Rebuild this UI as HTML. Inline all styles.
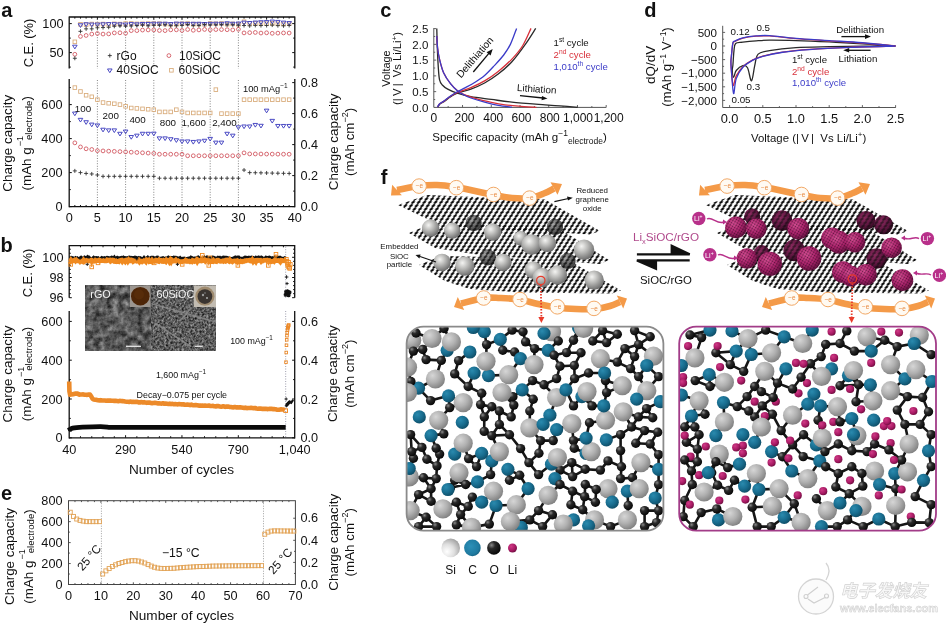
<!DOCTYPE html>
<html><head><meta charset="utf-8"><title>SiOC/rGO figure</title>
<style>html,body{margin:0;padding:0;background:#fff;}svg{display:block;}</style></head>
<body><svg width="946" height="623" viewBox="0 0 946 623" font-family="'Liberation Sans', Arial, Helvetica, sans-serif">
<rect width="946" height="623" fill="#fff"/>
<defs>
<pattern id="gr" width="5.6" height="3.4" patternUnits="userSpaceOnUse" patternTransform="skewX(-32)">
 <rect x="1.35" y="0" width="1.1" height="3.4" fill="#1a1a1a"/>
 <ellipse cx="1.9" cy="1.7" rx="1.6" ry="1.45" fill="#080808"/>
</pattern>
<pattern id="grm" width="2.6" height="2.6" patternUnits="userSpaceOnUse" patternTransform="rotate(30)">
 <rect width="2.6" height="2.6" fill="none"/>
 <circle cx="1.3" cy="1.3" r="0.8" fill="#1a0410" opacity="0.6"/>
</pattern>
<radialGradient id="sg" cx="0.38" cy="0.33" r="0.7">
 <stop offset="0" stop-color="#f4f4f2"/><stop offset="0.45" stop-color="#b8b8b6"/><stop offset="1" stop-color="#6a6a6a"/>
</radialGradient>
<radialGradient id="sgd" cx="0.38" cy="0.33" r="0.7">
 <stop offset="0" stop-color="#a8a8a8"/><stop offset="0.5" stop-color="#6e6e6e"/><stop offset="1" stop-color="#3a3a3a"/>
</radialGradient>
<radialGradient id="mgd" cx="0.38" cy="0.33" r="0.72">
 <stop offset="0" stop-color="#8a2a5e"/><stop offset="0.6" stop-color="#5e1640"/><stop offset="1" stop-color="#2e0a1e"/>
</radialGradient>
<radialGradient id="mg" cx="0.38" cy="0.33" r="0.72">
 <stop offset="0" stop-color="#dc5098"/><stop offset="0.55" stop-color="#b22470"/><stop offset="1" stop-color="#641140"/>
</radialGradient>
<radialGradient id="si" cx="0.35" cy="0.32" r="0.75">
 <stop offset="0" stop-color="#d6d6d6"/><stop offset="0.5" stop-color="#b0b0b0"/><stop offset="1" stop-color="#7c7c7c"/>
</radialGradient>
<radialGradient id="sil" cx="0.3" cy="0.7" r="0.8">
 <stop offset="0" stop-color="#ffffff"/><stop offset="0.5" stop-color="#dedede"/><stop offset="1" stop-color="#9c9c9c"/>
</radialGradient>
<radialGradient id="ccl" cx="0.4" cy="0.4" r="0.7">
 <stop offset="0" stop-color="#2c90b8"/><stop offset="0.7" stop-color="#1f7aa0"/><stop offset="1" stop-color="#145a78"/>
</radialGradient>
<radialGradient id="cc" cx="0.35" cy="0.32" r="0.75">
 <stop offset="0" stop-color="#2a8aae"/><stop offset="0.55" stop-color="#186c8e"/><stop offset="1" stop-color="#0e4a62"/>
</radialGradient>
<radialGradient id="oo" cx="0.33" cy="0.3" r="0.75">
 <stop offset="0" stop-color="#8a8a8a"/><stop offset="0.35" stop-color="#2a2a2a"/><stop offset="1" stop-color="#050505"/>
</radialGradient>
<radialGradient id="li" cx="0.35" cy="0.32" r="0.75">
 <stop offset="0" stop-color="#d03a86"/><stop offset="0.6" stop-color="#a81a64"/><stop offset="1" stop-color="#6a0c3c"/>
</radialGradient>
<filter id="semA" x="0" y="0" width="100%" height="100%" color-interpolation-filters="sRGB">
 <feTurbulence type="fractalNoise" baseFrequency="0.16" numOctaves="4" seed="4" result="n"/>
 <feColorMatrix type="matrix" values="0.7 0 0 0 0.0  0.7 0 0 0 0.0  0.7 0 0 0 0.0  0 0 0 0 1"/>
</filter>
<filter id="semB" x="0" y="0" width="100%" height="100%" color-interpolation-filters="sRGB">
 <feTurbulence type="fractalNoise" baseFrequency="0.45" numOctaves="3" seed="9" result="n"/>
 <feColorMatrix type="matrix" values="0.8 0 0 0 -0.04  0.8 0 0 0 -0.04  0.8 0 0 0 -0.04  0 0 0 0 1"/>
</filter>
<filter id="blur06"><feGaussianBlur stdDeviation="0.6"/></filter>
</defs>
<line x1="69.2" y1="17" x2="294.8" y2="17" stroke="#111" stroke-width="1.3"/>
<line x1="69.2" y1="16.4" x2="69.2" y2="68.6" stroke="#111" stroke-width="1.3"/>
<line x1="294.8" y1="16.4" x2="294.8" y2="68.6" stroke="#111" stroke-width="1.3"/>
<line x1="74.84" y1="17" x2="74.84" y2="18.6" stroke="#111" stroke-width="1"/>
<line x1="80.48" y1="17" x2="80.48" y2="18.6" stroke="#111" stroke-width="1"/>
<line x1="86.12" y1="17" x2="86.12" y2="18.6" stroke="#111" stroke-width="1"/>
<line x1="91.76" y1="17" x2="91.76" y2="18.6" stroke="#111" stroke-width="1"/>
<line x1="97.4" y1="17" x2="97.4" y2="19.6" stroke="#111" stroke-width="1"/>
<line x1="103.04" y1="17" x2="103.04" y2="18.6" stroke="#111" stroke-width="1"/>
<line x1="108.68" y1="17" x2="108.68" y2="18.6" stroke="#111" stroke-width="1"/>
<line x1="114.32" y1="17" x2="114.32" y2="18.6" stroke="#111" stroke-width="1"/>
<line x1="119.96" y1="17" x2="119.96" y2="18.6" stroke="#111" stroke-width="1"/>
<line x1="125.6" y1="17" x2="125.6" y2="19.6" stroke="#111" stroke-width="1"/>
<line x1="131.24" y1="17" x2="131.24" y2="18.6" stroke="#111" stroke-width="1"/>
<line x1="136.88" y1="17" x2="136.88" y2="18.6" stroke="#111" stroke-width="1"/>
<line x1="142.52" y1="17" x2="142.52" y2="18.6" stroke="#111" stroke-width="1"/>
<line x1="148.16" y1="17" x2="148.16" y2="18.6" stroke="#111" stroke-width="1"/>
<line x1="153.8" y1="17" x2="153.8" y2="19.6" stroke="#111" stroke-width="1"/>
<line x1="159.44" y1="17" x2="159.44" y2="18.6" stroke="#111" stroke-width="1"/>
<line x1="165.08" y1="17" x2="165.08" y2="18.6" stroke="#111" stroke-width="1"/>
<line x1="170.72" y1="17" x2="170.72" y2="18.6" stroke="#111" stroke-width="1"/>
<line x1="176.36" y1="17" x2="176.36" y2="18.6" stroke="#111" stroke-width="1"/>
<line x1="182" y1="17" x2="182" y2="19.6" stroke="#111" stroke-width="1"/>
<line x1="187.64" y1="17" x2="187.64" y2="18.6" stroke="#111" stroke-width="1"/>
<line x1="193.28" y1="17" x2="193.28" y2="18.6" stroke="#111" stroke-width="1"/>
<line x1="198.92" y1="17" x2="198.92" y2="18.6" stroke="#111" stroke-width="1"/>
<line x1="204.56" y1="17" x2="204.56" y2="18.6" stroke="#111" stroke-width="1"/>
<line x1="210.2" y1="17" x2="210.2" y2="19.6" stroke="#111" stroke-width="1"/>
<line x1="215.84" y1="17" x2="215.84" y2="18.6" stroke="#111" stroke-width="1"/>
<line x1="221.48" y1="17" x2="221.48" y2="18.6" stroke="#111" stroke-width="1"/>
<line x1="227.12" y1="17" x2="227.12" y2="18.6" stroke="#111" stroke-width="1"/>
<line x1="232.76" y1="17" x2="232.76" y2="18.6" stroke="#111" stroke-width="1"/>
<line x1="238.4" y1="17" x2="238.4" y2="19.6" stroke="#111" stroke-width="1"/>
<line x1="244.04" y1="17" x2="244.04" y2="18.6" stroke="#111" stroke-width="1"/>
<line x1="249.68" y1="17" x2="249.68" y2="18.6" stroke="#111" stroke-width="1"/>
<line x1="255.32" y1="17" x2="255.32" y2="18.6" stroke="#111" stroke-width="1"/>
<line x1="260.96" y1="17" x2="260.96" y2="18.6" stroke="#111" stroke-width="1"/>
<line x1="266.6" y1="17" x2="266.6" y2="19.6" stroke="#111" stroke-width="1"/>
<line x1="272.24" y1="17" x2="272.24" y2="18.6" stroke="#111" stroke-width="1"/>
<line x1="277.88" y1="17" x2="277.88" y2="18.6" stroke="#111" stroke-width="1"/>
<line x1="283.52" y1="17" x2="283.52" y2="18.6" stroke="#111" stroke-width="1"/>
<line x1="289.16" y1="17" x2="289.16" y2="18.6" stroke="#111" stroke-width="1"/>
<line x1="69.2" y1="23.6" x2="71.8" y2="23.6" stroke="#111" stroke-width="1"/>
<line x1="294.8" y1="23.6" x2="292.2" y2="23.6" stroke="#111" stroke-width="1"/>
<line x1="69.2" y1="38.1" x2="70.8" y2="38.1" stroke="#111" stroke-width="1"/>
<line x1="294.8" y1="38.1" x2="293.2" y2="38.1" stroke="#111" stroke-width="1"/>
<line x1="69.2" y1="52.6" x2="71.8" y2="52.6" stroke="#111" stroke-width="1"/>
<line x1="294.8" y1="52.6" x2="292.2" y2="52.6" stroke="#111" stroke-width="1"/>
<line x1="69.2" y1="67.1" x2="70.8" y2="67.1" stroke="#111" stroke-width="1"/>
<line x1="294.8" y1="67.1" x2="293.2" y2="67.1" stroke="#111" stroke-width="1"/>
<text x="63.5" y="28.1" font-size="12.7" text-anchor="end" fill="#111">100</text>
<text x="63.5" y="57.1" font-size="12.7" text-anchor="end" fill="#111">50</text>
<text x="32.8" y="43" font-size="12.9" text-anchor="middle" fill="#111" transform="rotate(-90 32.8 43)">C.E. (%)</text>
<line x1="97.4" y1="19" x2="97.4" y2="68.6" stroke="#666" stroke-width="0.8" stroke-dasharray="1 1.6"/>
<line x1="97.4" y1="80" x2="97.4" y2="206.6" stroke="#666" stroke-width="0.8" stroke-dasharray="1 1.6"/>
<line x1="125.6" y1="19" x2="125.6" y2="68.6" stroke="#666" stroke-width="0.8" stroke-dasharray="1 1.6"/>
<line x1="125.6" y1="80" x2="125.6" y2="206.6" stroke="#666" stroke-width="0.8" stroke-dasharray="1 1.6"/>
<line x1="153.8" y1="19" x2="153.8" y2="68.6" stroke="#666" stroke-width="0.8" stroke-dasharray="1 1.6"/>
<line x1="153.8" y1="80" x2="153.8" y2="206.6" stroke="#666" stroke-width="0.8" stroke-dasharray="1 1.6"/>
<line x1="182" y1="19" x2="182" y2="68.6" stroke="#666" stroke-width="0.8" stroke-dasharray="1 1.6"/>
<line x1="182" y1="80" x2="182" y2="206.6" stroke="#666" stroke-width="0.8" stroke-dasharray="1 1.6"/>
<line x1="210.2" y1="19" x2="210.2" y2="68.6" stroke="#666" stroke-width="0.8" stroke-dasharray="1 1.6"/>
<line x1="210.2" y1="80" x2="210.2" y2="206.6" stroke="#666" stroke-width="0.8" stroke-dasharray="1 1.6"/>
<line x1="238.4" y1="19" x2="238.4" y2="68.6" stroke="#666" stroke-width="0.8" stroke-dasharray="1 1.6"/>
<line x1="238.4" y1="80" x2="238.4" y2="206.6" stroke="#666" stroke-width="0.8" stroke-dasharray="1 1.6"/>
<rect x="73.04" y="40.02" width="3.6" height="3.6" stroke="#d8aa78" stroke-width="0.85" fill="none"/>
<circle cx="74.84" cy="54.3" r="1.9" stroke="#d0505a" stroke-width="0.85" fill="none"/>
<path d="M72.54 45.2h4.6l-2.3 3.68z" stroke="#4040c0" stroke-width="0.95" fill="none"/>
<path d="M72.84 58.28h4M74.84 56.28v4" stroke="#333" stroke-width="0.9" fill="none"/>
<rect x="78.68" y="22.55" width="3.6" height="3.6" stroke="#d8aa78" stroke-width="0.85" fill="none"/>
<circle cx="80.48" cy="36.42" r="1.9" stroke="#d0505a" stroke-width="0.85" fill="none"/>
<path d="M78.18 23.78h4.6l-2.3 3.68z" stroke="#4040c0" stroke-width="0.95" fill="none"/>
<path d="M78.48 31.33h4M80.48 29.33v4" stroke="#333" stroke-width="0.9" fill="none"/>
<rect x="84.32" y="22.82" width="3.6" height="3.6" stroke="#d8aa78" stroke-width="0.85" fill="none"/>
<circle cx="86.12" cy="35.45" r="1.9" stroke="#d0505a" stroke-width="0.85" fill="none"/>
<path d="M83.82 22.79h4.6l-2.3 3.68z" stroke="#4040c0" stroke-width="0.95" fill="none"/>
<path d="M84.12 28.85h4M86.12 26.85v4" stroke="#333" stroke-width="0.9" fill="none"/>
<rect x="89.96" y="22.21" width="3.6" height="3.6" stroke="#d8aa78" stroke-width="0.85" fill="none"/>
<circle cx="91.76" cy="34.06" r="1.9" stroke="#d0505a" stroke-width="0.85" fill="none"/>
<path d="M89.46 23.05h4.6l-2.3 3.68z" stroke="#4040c0" stroke-width="0.95" fill="none"/>
<path d="M89.76 28.84h4M91.76 26.84v4" stroke="#333" stroke-width="0.9" fill="none"/>
<rect x="95.6" y="22.33" width="3.6" height="3.6" stroke="#d8aa78" stroke-width="0.85" fill="none"/>
<circle cx="97.4" cy="33.51" r="1.9" stroke="#d0505a" stroke-width="0.85" fill="none"/>
<path d="M95.1 23.09h4.6l-2.3 3.68z" stroke="#4040c0" stroke-width="0.95" fill="none"/>
<path d="M95.4 27.77h4M97.4 25.77v4" stroke="#333" stroke-width="0.9" fill="none"/>
<rect x="101.24" y="22.22" width="3.6" height="3.6" stroke="#d8aa78" stroke-width="0.85" fill="none"/>
<circle cx="103.04" cy="34.06" r="1.9" stroke="#d0505a" stroke-width="0.85" fill="none"/>
<path d="M100.74 22.8h4.6l-2.3 3.68z" stroke="#4040c0" stroke-width="0.95" fill="none"/>
<path d="M101.04 27.55h4M103.04 25.55v4" stroke="#333" stroke-width="0.9" fill="none"/>
<rect x="106.88" y="22.49" width="3.6" height="3.6" stroke="#d8aa78" stroke-width="0.85" fill="none"/>
<circle cx="108.68" cy="33.9" r="1.9" stroke="#d0505a" stroke-width="0.85" fill="none"/>
<path d="M106.38 22.62h4.6l-2.3 3.68z" stroke="#4040c0" stroke-width="0.95" fill="none"/>
<path d="M106.68 27.26h4M108.68 25.26v4" stroke="#333" stroke-width="0.9" fill="none"/>
<rect x="112.52" y="22.03" width="3.6" height="3.6" stroke="#d8aa78" stroke-width="0.85" fill="none"/>
<circle cx="114.32" cy="32.92" r="1.9" stroke="#d0505a" stroke-width="0.85" fill="none"/>
<path d="M112.02 22.69h4.6l-2.3 3.68z" stroke="#4040c0" stroke-width="0.95" fill="none"/>
<path d="M112.32 26.3h4M114.32 24.3v4" stroke="#333" stroke-width="0.9" fill="none"/>
<rect x="118.16" y="22.26" width="3.6" height="3.6" stroke="#d8aa78" stroke-width="0.85" fill="none"/>
<circle cx="119.96" cy="32.79" r="1.9" stroke="#d0505a" stroke-width="0.85" fill="none"/>
<path d="M117.66 22.87h4.6l-2.3 3.68z" stroke="#4040c0" stroke-width="0.95" fill="none"/>
<path d="M117.96 25.85h4M119.96 23.85v4" stroke="#333" stroke-width="0.9" fill="none"/>
<rect x="123.8" y="21.74" width="3.6" height="3.6" stroke="#d8aa78" stroke-width="0.85" fill="none"/>
<circle cx="125.6" cy="33.25" r="1.9" stroke="#d0505a" stroke-width="0.85" fill="none"/>
<path d="M123.3 23.08h4.6l-2.3 3.68z" stroke="#4040c0" stroke-width="0.95" fill="none"/>
<path d="M123.6 26.25h4M125.6 24.25v4" stroke="#333" stroke-width="0.9" fill="none"/>
<rect x="129.44" y="21.66" width="3.6" height="3.6" stroke="#d8aa78" stroke-width="0.85" fill="none"/>
<circle cx="131.24" cy="30.62" r="1.9" stroke="#d0505a" stroke-width="0.85" fill="none"/>
<path d="M128.94 22.6h4.6l-2.3 3.68z" stroke="#4040c0" stroke-width="0.95" fill="none"/>
<path d="M129.24 26.03h4M131.24 24.03v4" stroke="#333" stroke-width="0.9" fill="none"/>
<rect x="135.08" y="22.08" width="3.6" height="3.6" stroke="#d8aa78" stroke-width="0.85" fill="none"/>
<circle cx="136.88" cy="30.6" r="1.9" stroke="#d0505a" stroke-width="0.85" fill="none"/>
<path d="M134.58 22.83h4.6l-2.3 3.68z" stroke="#4040c0" stroke-width="0.95" fill="none"/>
<path d="M134.88 25.59h4M136.88 23.59v4" stroke="#333" stroke-width="0.9" fill="none"/>
<rect x="140.72" y="22.01" width="3.6" height="3.6" stroke="#d8aa78" stroke-width="0.85" fill="none"/>
<circle cx="142.52" cy="30.06" r="1.9" stroke="#d0505a" stroke-width="0.85" fill="none"/>
<path d="M140.22 22.49h4.6l-2.3 3.68z" stroke="#4040c0" stroke-width="0.95" fill="none"/>
<path d="M140.52 25.07h4M142.52 23.07v4" stroke="#333" stroke-width="0.9" fill="none"/>
<rect x="146.36" y="21.76" width="3.6" height="3.6" stroke="#d8aa78" stroke-width="0.85" fill="none"/>
<circle cx="148.16" cy="29.92" r="1.9" stroke="#d0505a" stroke-width="0.85" fill="none"/>
<path d="M145.86 22.47h4.6l-2.3 3.68z" stroke="#4040c0" stroke-width="0.95" fill="none"/>
<path d="M146.16 25.85h4M148.16 23.85v4" stroke="#333" stroke-width="0.9" fill="none"/>
<rect x="152" y="21.76" width="3.6" height="3.6" stroke="#d8aa78" stroke-width="0.85" fill="none"/>
<circle cx="153.8" cy="29.88" r="1.9" stroke="#d0505a" stroke-width="0.85" fill="none"/>
<path d="M151.5 22.22h4.6l-2.3 3.68z" stroke="#4040c0" stroke-width="0.95" fill="none"/>
<path d="M151.8 25.26h4M153.8 23.26v4" stroke="#333" stroke-width="0.9" fill="none"/>
<rect x="157.64" y="21.89" width="3.6" height="3.6" stroke="#d8aa78" stroke-width="0.85" fill="none"/>
<circle cx="159.44" cy="30.52" r="1.9" stroke="#d0505a" stroke-width="0.85" fill="none"/>
<path d="M157.14 22.26h4.6l-2.3 3.68z" stroke="#4040c0" stroke-width="0.95" fill="none"/>
<path d="M157.44 25.22h4M159.44 23.22v4" stroke="#333" stroke-width="0.9" fill="none"/>
<rect x="163.28" y="22.29" width="3.6" height="3.6" stroke="#d8aa78" stroke-width="0.85" fill="none"/>
<circle cx="165.08" cy="30.6" r="1.9" stroke="#d0505a" stroke-width="0.85" fill="none"/>
<path d="M162.78 22.21h4.6l-2.3 3.68z" stroke="#4040c0" stroke-width="0.95" fill="none"/>
<path d="M163.08 24.69h4M165.08 22.69v4" stroke="#333" stroke-width="0.9" fill="none"/>
<rect x="168.92" y="22.47" width="3.6" height="3.6" stroke="#d8aa78" stroke-width="0.85" fill="none"/>
<circle cx="170.72" cy="29.85" r="1.9" stroke="#d0505a" stroke-width="0.85" fill="none"/>
<path d="M168.42 22.6h4.6l-2.3 3.68z" stroke="#4040c0" stroke-width="0.95" fill="none"/>
<path d="M168.72 25.63h4M170.72 23.63v4" stroke="#333" stroke-width="0.9" fill="none"/>
<rect x="174.56" y="22.28" width="3.6" height="3.6" stroke="#d8aa78" stroke-width="0.85" fill="none"/>
<circle cx="176.36" cy="29.82" r="1.9" stroke="#d0505a" stroke-width="0.85" fill="none"/>
<path d="M174.06 22.14h4.6l-2.3 3.68z" stroke="#4040c0" stroke-width="0.95" fill="none"/>
<path d="M174.36 25.71h4M176.36 23.71v4" stroke="#333" stroke-width="0.9" fill="none"/>
<rect x="180.2" y="21.98" width="3.6" height="3.6" stroke="#d8aa78" stroke-width="0.85" fill="none"/>
<circle cx="182" cy="30.43" r="1.9" stroke="#d0505a" stroke-width="0.85" fill="none"/>
<path d="M179.7 22.25h4.6l-2.3 3.68z" stroke="#4040c0" stroke-width="0.95" fill="none"/>
<path d="M180 25.34h4M182 23.34v4" stroke="#333" stroke-width="0.9" fill="none"/>
<rect x="185.84" y="21.74" width="3.6" height="3.6" stroke="#d8aa78" stroke-width="0.85" fill="none"/>
<circle cx="187.64" cy="29.5" r="1.9" stroke="#d0505a" stroke-width="0.85" fill="none"/>
<path d="M185.34 22.42h4.6l-2.3 3.68z" stroke="#4040c0" stroke-width="0.95" fill="none"/>
<path d="M185.64 24.53h4M187.64 22.53v4" stroke="#333" stroke-width="0.9" fill="none"/>
<rect x="191.48" y="22.27" width="3.6" height="3.6" stroke="#d8aa78" stroke-width="0.85" fill="none"/>
<circle cx="193.28" cy="30.28" r="1.9" stroke="#d0505a" stroke-width="0.85" fill="none"/>
<path d="M190.98 22.3h4.6l-2.3 3.68z" stroke="#4040c0" stroke-width="0.95" fill="none"/>
<path d="M191.28 25.61h4M193.28 23.61v4" stroke="#333" stroke-width="0.9" fill="none"/>
<rect x="197.12" y="22.37" width="3.6" height="3.6" stroke="#d8aa78" stroke-width="0.85" fill="none"/>
<circle cx="198.92" cy="29.91" r="1.9" stroke="#d0505a" stroke-width="0.85" fill="none"/>
<path d="M196.62 22.27h4.6l-2.3 3.68z" stroke="#4040c0" stroke-width="0.95" fill="none"/>
<path d="M196.92 25.43h4M198.92 23.43v4" stroke="#333" stroke-width="0.9" fill="none"/>
<rect x="202.76" y="22.51" width="3.6" height="3.6" stroke="#d8aa78" stroke-width="0.85" fill="none"/>
<circle cx="204.56" cy="29.43" r="1.9" stroke="#d0505a" stroke-width="0.85" fill="none"/>
<path d="M202.26 22.51h4.6l-2.3 3.68z" stroke="#4040c0" stroke-width="0.95" fill="none"/>
<path d="M202.56 24.46h4M204.56 22.46v4" stroke="#333" stroke-width="0.9" fill="none"/>
<rect x="208.4" y="21.72" width="3.6" height="3.6" stroke="#d8aa78" stroke-width="0.85" fill="none"/>
<circle cx="210.2" cy="29.82" r="1.9" stroke="#d0505a" stroke-width="0.85" fill="none"/>
<path d="M207.9 22.35h4.6l-2.3 3.68z" stroke="#4040c0" stroke-width="0.95" fill="none"/>
<path d="M208.2 24.93h4M210.2 22.93v4" stroke="#333" stroke-width="0.9" fill="none"/>
<rect x="214.04" y="21.96" width="3.6" height="3.6" stroke="#d8aa78" stroke-width="0.85" fill="none"/>
<circle cx="215.84" cy="29.56" r="1.9" stroke="#d0505a" stroke-width="0.85" fill="none"/>
<path d="M213.54 22.23h4.6l-2.3 3.68z" stroke="#4040c0" stroke-width="0.95" fill="none"/>
<path d="M213.84 24.78h4M215.84 22.78v4" stroke="#333" stroke-width="0.9" fill="none"/>
<rect x="219.68" y="21.68" width="3.6" height="3.6" stroke="#d8aa78" stroke-width="0.85" fill="none"/>
<circle cx="221.48" cy="29.58" r="1.9" stroke="#d0505a" stroke-width="0.85" fill="none"/>
<path d="M219.18 22.32h4.6l-2.3 3.68z" stroke="#4040c0" stroke-width="0.95" fill="none"/>
<path d="M219.48 24.62h4M221.48 22.62v4" stroke="#333" stroke-width="0.9" fill="none"/>
<rect x="225.32" y="22.33" width="3.6" height="3.6" stroke="#d8aa78" stroke-width="0.85" fill="none"/>
<circle cx="227.12" cy="29.71" r="1.9" stroke="#d0505a" stroke-width="0.85" fill="none"/>
<path d="M224.82 21.78h4.6l-2.3 3.68z" stroke="#4040c0" stroke-width="0.95" fill="none"/>
<path d="M225.12 24.81h4M227.12 22.81v4" stroke="#333" stroke-width="0.9" fill="none"/>
<rect x="230.96" y="22.05" width="3.6" height="3.6" stroke="#d8aa78" stroke-width="0.85" fill="none"/>
<circle cx="232.76" cy="29.91" r="1.9" stroke="#d0505a" stroke-width="0.85" fill="none"/>
<path d="M230.46 22.27h4.6l-2.3 3.68z" stroke="#4040c0" stroke-width="0.95" fill="none"/>
<path d="M230.76 24.71h4M232.76 22.71v4" stroke="#333" stroke-width="0.9" fill="none"/>
<rect x="236.6" y="22.54" width="3.6" height="3.6" stroke="#d8aa78" stroke-width="0.85" fill="none"/>
<circle cx="238.4" cy="29.29" r="1.9" stroke="#d0505a" stroke-width="0.85" fill="none"/>
<path d="M236.1 22.04h4.6l-2.3 3.68z" stroke="#4040c0" stroke-width="0.95" fill="none"/>
<path d="M236.4 25.27h4M238.4 23.27v4" stroke="#333" stroke-width="0.9" fill="none"/>
<rect x="242.24" y="19.94" width="3.6" height="3.6" stroke="#d8aa78" stroke-width="0.85" fill="none"/>
<circle cx="244.04" cy="32.91" r="1.9" stroke="#d0505a" stroke-width="0.85" fill="none"/>
<path d="M241.74 21.13h4.6l-2.3 3.68z" stroke="#4040c0" stroke-width="0.95" fill="none"/>
<path d="M242.04 25.51h4M244.04 23.51v4" stroke="#333" stroke-width="0.9" fill="none"/>
<rect x="247.88" y="21.61" width="3.6" height="3.6" stroke="#d8aa78" stroke-width="0.85" fill="none"/>
<circle cx="249.68" cy="32.66" r="1.9" stroke="#d0505a" stroke-width="0.85" fill="none"/>
<path d="M247.38 21.51h4.6l-2.3 3.68z" stroke="#4040c0" stroke-width="0.95" fill="none"/>
<path d="M247.68 25.85h4M249.68 23.85v4" stroke="#333" stroke-width="0.9" fill="none"/>
<rect x="253.52" y="21.64" width="3.6" height="3.6" stroke="#d8aa78" stroke-width="0.85" fill="none"/>
<circle cx="255.32" cy="32.45" r="1.9" stroke="#d0505a" stroke-width="0.85" fill="none"/>
<path d="M253.02 21.06h4.6l-2.3 3.68z" stroke="#4040c0" stroke-width="0.95" fill="none"/>
<path d="M253.32 25.39h4M255.32 23.39v4" stroke="#333" stroke-width="0.9" fill="none"/>
<rect x="259.16" y="21.71" width="3.6" height="3.6" stroke="#d8aa78" stroke-width="0.85" fill="none"/>
<circle cx="260.96" cy="33.05" r="1.9" stroke="#d0505a" stroke-width="0.85" fill="none"/>
<path d="M258.66 20.73h4.6l-2.3 3.68z" stroke="#4040c0" stroke-width="0.95" fill="none"/>
<path d="M258.96 25.56h4M260.96 23.56v4" stroke="#333" stroke-width="0.9" fill="none"/>
<rect x="264.8" y="21.92" width="3.6" height="3.6" stroke="#d8aa78" stroke-width="0.85" fill="none"/>
<circle cx="266.6" cy="32.79" r="1.9" stroke="#d0505a" stroke-width="0.85" fill="none"/>
<path d="M264.3 20.55h4.6l-2.3 3.68z" stroke="#4040c0" stroke-width="0.95" fill="none"/>
<path d="M264.6 25.48h4M266.6 23.48v4" stroke="#333" stroke-width="0.9" fill="none"/>
<rect x="270.44" y="21.55" width="3.6" height="3.6" stroke="#d8aa78" stroke-width="0.85" fill="none"/>
<circle cx="272.24" cy="33.32" r="1.9" stroke="#d0505a" stroke-width="0.85" fill="none"/>
<path d="M269.94 20.07h4.6l-2.3 3.68z" stroke="#4040c0" stroke-width="0.95" fill="none"/>
<path d="M270.24 25.07h4M272.24 23.07v4" stroke="#333" stroke-width="0.9" fill="none"/>
<rect x="276.08" y="21.98" width="3.6" height="3.6" stroke="#d8aa78" stroke-width="0.85" fill="none"/>
<circle cx="277.88" cy="33.14" r="1.9" stroke="#d0505a" stroke-width="0.85" fill="none"/>
<path d="M275.58 20.43h4.6l-2.3 3.68z" stroke="#4040c0" stroke-width="0.95" fill="none"/>
<path d="M275.88 25.64h4M277.88 23.64v4" stroke="#333" stroke-width="0.9" fill="none"/>
<rect x="281.72" y="22.09" width="3.6" height="3.6" stroke="#d8aa78" stroke-width="0.85" fill="none"/>
<circle cx="283.52" cy="32.94" r="1.9" stroke="#d0505a" stroke-width="0.85" fill="none"/>
<path d="M281.22 21.11h4.6l-2.3 3.68z" stroke="#4040c0" stroke-width="0.95" fill="none"/>
<path d="M281.52 25.8h4M283.52 23.8v4" stroke="#333" stroke-width="0.9" fill="none"/>
<rect x="287.36" y="21.97" width="3.6" height="3.6" stroke="#d8aa78" stroke-width="0.85" fill="none"/>
<circle cx="289.16" cy="33.03" r="1.9" stroke="#d0505a" stroke-width="0.85" fill="none"/>
<path d="M286.86 21.57h4.6l-2.3 3.68z" stroke="#4040c0" stroke-width="0.95" fill="none"/>
<path d="M287.16 25.41h4M289.16 23.41v4" stroke="#333" stroke-width="0.9" fill="none"/>
<path d="M107.8 55.6h4M109.8 53.6v4" stroke="#333" stroke-width="0.9" fill="none"/>
<text x="116.6" y="59.6" font-size="12" text-anchor="start" fill="#111">rGo</text>
<path d="M107.5 68.98h4.6l-2.3 3.68z" stroke="#4040c0" stroke-width="0.95" fill="none"/>
<text x="116.6" y="74.4" font-size="12" text-anchor="start" fill="#111">40SiOC</text>
<circle cx="168.9" cy="55.6" r="1.9" stroke="#d0505a" stroke-width="0.85" fill="none"/>
<text x="179" y="59.6" font-size="12" text-anchor="start" fill="#111">10SiOC</text>
<rect x="169.6" y="68.5" width="3.6" height="3.6" stroke="#d8aa78" stroke-width="0.85" fill="none"/>
<text x="178.5" y="74.4" font-size="12" text-anchor="start" fill="#111">60SiOC</text>
<line x1="69.2" y1="79" x2="69.2" y2="207.2" stroke="#111" stroke-width="1.3"/>
<line x1="294.8" y1="79" x2="294.8" y2="207.2" stroke="#111" stroke-width="1.3"/>
<line x1="69.2" y1="206.6" x2="294.8" y2="206.6" stroke="#111" stroke-width="1.3"/>
<line x1="74.84" y1="206.6" x2="74.84" y2="205" stroke="#111" stroke-width="1"/>
<line x1="80.48" y1="206.6" x2="80.48" y2="205" stroke="#111" stroke-width="1"/>
<line x1="86.12" y1="206.6" x2="86.12" y2="205" stroke="#111" stroke-width="1"/>
<line x1="91.76" y1="206.6" x2="91.76" y2="205" stroke="#111" stroke-width="1"/>
<line x1="97.4" y1="206.6" x2="97.4" y2="204" stroke="#111" stroke-width="1"/>
<line x1="103.04" y1="206.6" x2="103.04" y2="205" stroke="#111" stroke-width="1"/>
<line x1="108.68" y1="206.6" x2="108.68" y2="205" stroke="#111" stroke-width="1"/>
<line x1="114.32" y1="206.6" x2="114.32" y2="205" stroke="#111" stroke-width="1"/>
<line x1="119.96" y1="206.6" x2="119.96" y2="205" stroke="#111" stroke-width="1"/>
<line x1="125.6" y1="206.6" x2="125.6" y2="204" stroke="#111" stroke-width="1"/>
<line x1="131.24" y1="206.6" x2="131.24" y2="205" stroke="#111" stroke-width="1"/>
<line x1="136.88" y1="206.6" x2="136.88" y2="205" stroke="#111" stroke-width="1"/>
<line x1="142.52" y1="206.6" x2="142.52" y2="205" stroke="#111" stroke-width="1"/>
<line x1="148.16" y1="206.6" x2="148.16" y2="205" stroke="#111" stroke-width="1"/>
<line x1="153.8" y1="206.6" x2="153.8" y2="204" stroke="#111" stroke-width="1"/>
<line x1="159.44" y1="206.6" x2="159.44" y2="205" stroke="#111" stroke-width="1"/>
<line x1="165.08" y1="206.6" x2="165.08" y2="205" stroke="#111" stroke-width="1"/>
<line x1="170.72" y1="206.6" x2="170.72" y2="205" stroke="#111" stroke-width="1"/>
<line x1="176.36" y1="206.6" x2="176.36" y2="205" stroke="#111" stroke-width="1"/>
<line x1="182" y1="206.6" x2="182" y2="204" stroke="#111" stroke-width="1"/>
<line x1="187.64" y1="206.6" x2="187.64" y2="205" stroke="#111" stroke-width="1"/>
<line x1="193.28" y1="206.6" x2="193.28" y2="205" stroke="#111" stroke-width="1"/>
<line x1="198.92" y1="206.6" x2="198.92" y2="205" stroke="#111" stroke-width="1"/>
<line x1="204.56" y1="206.6" x2="204.56" y2="205" stroke="#111" stroke-width="1"/>
<line x1="210.2" y1="206.6" x2="210.2" y2="204" stroke="#111" stroke-width="1"/>
<line x1="215.84" y1="206.6" x2="215.84" y2="205" stroke="#111" stroke-width="1"/>
<line x1="221.48" y1="206.6" x2="221.48" y2="205" stroke="#111" stroke-width="1"/>
<line x1="227.12" y1="206.6" x2="227.12" y2="205" stroke="#111" stroke-width="1"/>
<line x1="232.76" y1="206.6" x2="232.76" y2="205" stroke="#111" stroke-width="1"/>
<line x1="238.4" y1="206.6" x2="238.4" y2="204" stroke="#111" stroke-width="1"/>
<line x1="244.04" y1="206.6" x2="244.04" y2="205" stroke="#111" stroke-width="1"/>
<line x1="249.68" y1="206.6" x2="249.68" y2="205" stroke="#111" stroke-width="1"/>
<line x1="255.32" y1="206.6" x2="255.32" y2="205" stroke="#111" stroke-width="1"/>
<line x1="260.96" y1="206.6" x2="260.96" y2="205" stroke="#111" stroke-width="1"/>
<line x1="266.6" y1="206.6" x2="266.6" y2="204" stroke="#111" stroke-width="1"/>
<line x1="272.24" y1="206.6" x2="272.24" y2="205" stroke="#111" stroke-width="1"/>
<line x1="277.88" y1="206.6" x2="277.88" y2="205" stroke="#111" stroke-width="1"/>
<line x1="283.52" y1="206.6" x2="283.52" y2="205" stroke="#111" stroke-width="1"/>
<line x1="289.16" y1="206.6" x2="289.16" y2="205" stroke="#111" stroke-width="1"/>
<line x1="69.2" y1="206.6" x2="71.8" y2="206.6" stroke="#111" stroke-width="1"/>
<line x1="69.2" y1="189.6" x2="70.8" y2="189.6" stroke="#111" stroke-width="1"/>
<line x1="69.2" y1="172.6" x2="71.8" y2="172.6" stroke="#111" stroke-width="1"/>
<line x1="69.2" y1="155.6" x2="70.8" y2="155.6" stroke="#111" stroke-width="1"/>
<line x1="69.2" y1="138.6" x2="71.8" y2="138.6" stroke="#111" stroke-width="1"/>
<line x1="69.2" y1="121.6" x2="70.8" y2="121.6" stroke="#111" stroke-width="1"/>
<line x1="69.2" y1="104.6" x2="71.8" y2="104.6" stroke="#111" stroke-width="1"/>
<line x1="69.2" y1="87.6" x2="70.8" y2="87.6" stroke="#111" stroke-width="1"/>
<line x1="294.8" y1="206.6" x2="292.2" y2="206.6" stroke="#111" stroke-width="1"/>
<line x1="294.8" y1="191.1" x2="293.2" y2="191.1" stroke="#111" stroke-width="1"/>
<line x1="294.8" y1="175.6" x2="292.2" y2="175.6" stroke="#111" stroke-width="1"/>
<line x1="294.8" y1="160.1" x2="293.2" y2="160.1" stroke="#111" stroke-width="1"/>
<line x1="294.8" y1="144.6" x2="292.2" y2="144.6" stroke="#111" stroke-width="1"/>
<line x1="294.8" y1="129.1" x2="293.2" y2="129.1" stroke="#111" stroke-width="1"/>
<line x1="294.8" y1="113.6" x2="292.2" y2="113.6" stroke="#111" stroke-width="1"/>
<line x1="294.8" y1="98.1" x2="293.2" y2="98.1" stroke="#111" stroke-width="1"/>
<line x1="294.8" y1="82.6" x2="292.2" y2="82.6" stroke="#111" stroke-width="1"/>
<text x="62.5" y="211.1" font-size="12.7" text-anchor="end" fill="#111">0</text>
<text x="62.5" y="177.1" font-size="12.7" text-anchor="end" fill="#111">200</text>
<text x="62.5" y="143.1" font-size="12.7" text-anchor="end" fill="#111">400</text>
<text x="62.5" y="109.1" font-size="12.7" text-anchor="end" fill="#111">600</text>
<text x="300.5" y="211.1" font-size="12.7" text-anchor="start" fill="#111">0.0</text>
<text x="300.5" y="180.1" font-size="12.7" text-anchor="start" fill="#111">0.2</text>
<text x="300.5" y="149.1" font-size="12.7" text-anchor="start" fill="#111">0.4</text>
<text x="300.5" y="118.1" font-size="12.7" text-anchor="start" fill="#111">0.6</text>
<text x="300.5" y="87.1" font-size="12.7" text-anchor="start" fill="#111">0.8</text>
<text x="69.2" y="222.3" font-size="12.7" text-anchor="middle" fill="#111">0</text>
<text x="97.4" y="222.3" font-size="12.7" text-anchor="middle" fill="#111">5</text>
<text x="125.6" y="222.3" font-size="12.7" text-anchor="middle" fill="#111">10</text>
<text x="153.8" y="222.3" font-size="12.7" text-anchor="middle" fill="#111">15</text>
<text x="182" y="222.3" font-size="12.7" text-anchor="middle" fill="#111">20</text>
<text x="210.2" y="222.3" font-size="12.7" text-anchor="middle" fill="#111">25</text>
<text x="238.4" y="222.3" font-size="12.7" text-anchor="middle" fill="#111">30</text>
<text x="266.6" y="222.3" font-size="12.7" text-anchor="middle" fill="#111">35</text>
<text x="294.8" y="222.3" font-size="12.7" text-anchor="middle" fill="#111">40</text>
<text transform="translate(11.6 143.3) rotate(-90)" font-size="13.4" text-anchor="middle" fill="#111">Charge capacity</text>
<text transform="translate(30.8 143.3) rotate(-90)" font-size="13.4" text-anchor="middle" fill="#111">(mAh g<tspan dy="-7.5" dx="1" font-size="9">−1</tspan><tspan dy="8.5" dx="-4" font-size="9.6">electrode</tspan><tspan dy="-1">)</tspan></text>
<text transform="translate(338.4 141.9) rotate(-90)" font-size="13.4" text-anchor="middle" fill="#111">Charge capacity</text>
<text transform="translate(354.3 141.9) rotate(-90)" font-size="13.4" text-anchor="middle" fill="#111">(mAh cm<tspan dy="-6" font-size="9">−2</tspan><tspan dy="6">)</tspan></text>
<rect x="73.04" y="85.8" width="3.6" height="3.6" stroke="#d8aa78" stroke-width="0.85" fill="none"/>
<path d="M72.54 112.05h4.6l-2.3 3.68z" stroke="#4040c0" stroke-width="0.95" fill="none"/>
<circle cx="74.84" cy="142.85" r="1.9" stroke="#d0505a" stroke-width="0.85" fill="none"/>
<path d="M72.84 170.9h4M74.84 168.9v4" stroke="#333" stroke-width="0.9" fill="none"/>
<rect x="78.68" y="89.71" width="3.6" height="3.6" stroke="#d8aa78" stroke-width="0.85" fill="none"/>
<path d="M78.18 118.34h4.6l-2.3 3.68z" stroke="#4040c0" stroke-width="0.95" fill="none"/>
<circle cx="80.48" cy="146.93" r="1.9" stroke="#d0505a" stroke-width="0.85" fill="none"/>
<path d="M78.48 172.6h4M80.48 170.6v4" stroke="#333" stroke-width="0.9" fill="none"/>
<rect x="84.32" y="93.45" width="3.6" height="3.6" stroke="#d8aa78" stroke-width="0.85" fill="none"/>
<path d="M83.82 120.72h4.6l-2.3 3.68z" stroke="#4040c0" stroke-width="0.95" fill="none"/>
<circle cx="86.12" cy="148.8" r="1.9" stroke="#d0505a" stroke-width="0.85" fill="none"/>
<path d="M84.12 173.45h4M86.12 171.45v4" stroke="#333" stroke-width="0.9" fill="none"/>
<rect x="89.96" y="94.98" width="3.6" height="3.6" stroke="#d8aa78" stroke-width="0.85" fill="none"/>
<path d="M89.46 123.1h4.6l-2.3 3.68z" stroke="#4040c0" stroke-width="0.95" fill="none"/>
<circle cx="91.76" cy="149.48" r="1.9" stroke="#d0505a" stroke-width="0.85" fill="none"/>
<path d="M89.76 173.96h4M91.76 171.96v4" stroke="#333" stroke-width="0.9" fill="none"/>
<rect x="95.6" y="97.87" width="3.6" height="3.6" stroke="#d8aa78" stroke-width="0.85" fill="none"/>
<path d="M95.1 123.95h4.6l-2.3 3.68z" stroke="#4040c0" stroke-width="0.95" fill="none"/>
<circle cx="97.4" cy="150.67" r="1.9" stroke="#d0505a" stroke-width="0.85" fill="none"/>
<path d="M95.4 174.98h4M97.4 172.98v4" stroke="#333" stroke-width="0.9" fill="none"/>
<rect x="101.24" y="100.76" width="3.6" height="3.6" stroke="#d8aa78" stroke-width="0.85" fill="none"/>
<path d="M100.74 128.21h4.6l-2.3 3.68z" stroke="#4040c0" stroke-width="0.95" fill="none"/>
<circle cx="103.04" cy="150.91" r="1.9" stroke="#d0505a" stroke-width="0.85" fill="none"/>
<path d="M101.04 176.34h4M103.04 174.34v4" stroke="#333" stroke-width="0.9" fill="none"/>
<rect x="106.88" y="101.44" width="3.6" height="3.6" stroke="#d8aa78" stroke-width="0.85" fill="none"/>
<path d="M106.38 128.88h4.6l-2.3 3.68z" stroke="#4040c0" stroke-width="0.95" fill="none"/>
<circle cx="108.68" cy="151.15" r="1.9" stroke="#d0505a" stroke-width="0.85" fill="none"/>
<path d="M106.68 176.34h4M108.68 174.34v4" stroke="#333" stroke-width="0.9" fill="none"/>
<rect x="112.52" y="101.95" width="3.6" height="3.6" stroke="#d8aa78" stroke-width="0.85" fill="none"/>
<path d="M112.02 128.88h4.6l-2.3 3.68z" stroke="#4040c0" stroke-width="0.95" fill="none"/>
<circle cx="114.32" cy="151.38" r="1.9" stroke="#d0505a" stroke-width="0.85" fill="none"/>
<path d="M112.32 176.34h4M114.32 174.34v4" stroke="#333" stroke-width="0.9" fill="none"/>
<rect x="118.16" y="102.8" width="3.6" height="3.6" stroke="#d8aa78" stroke-width="0.85" fill="none"/>
<path d="M117.66 132.28h4.6l-2.3 3.68z" stroke="#4040c0" stroke-width="0.95" fill="none"/>
<circle cx="119.96" cy="151.62" r="1.9" stroke="#d0505a" stroke-width="0.85" fill="none"/>
<path d="M117.96 176.34h4M119.96 174.34v4" stroke="#333" stroke-width="0.9" fill="none"/>
<rect x="123.8" y="104.5" width="3.6" height="3.6" stroke="#d8aa78" stroke-width="0.85" fill="none"/>
<path d="M123.3 130.07h4.6l-2.3 3.68z" stroke="#4040c0" stroke-width="0.95" fill="none"/>
<circle cx="125.6" cy="151.86" r="1.9" stroke="#d0505a" stroke-width="0.85" fill="none"/>
<path d="M123.6 176.34h4M125.6 174.34v4" stroke="#333" stroke-width="0.9" fill="none"/>
<rect x="129.44" y="106.2" width="3.6" height="3.6" stroke="#d8aa78" stroke-width="0.85" fill="none"/>
<path d="M128.94 135.52h4.6l-2.3 3.68z" stroke="#4040c0" stroke-width="0.95" fill="none"/>
<circle cx="131.24" cy="152.17" r="1.9" stroke="#d0505a" stroke-width="0.85" fill="none"/>
<path d="M129.24 176.34h4M131.24 174.34v4" stroke="#333" stroke-width="0.9" fill="none"/>
<rect x="135.08" y="106.62" width="3.6" height="3.6" stroke="#d8aa78" stroke-width="0.85" fill="none"/>
<path d="M134.58 134.16h4.6l-2.3 3.68z" stroke="#4040c0" stroke-width="0.95" fill="none"/>
<circle cx="136.88" cy="152.47" r="1.9" stroke="#d0505a" stroke-width="0.85" fill="none"/>
<path d="M134.88 176.34h4M136.88 174.34v4" stroke="#333" stroke-width="0.9" fill="none"/>
<rect x="140.72" y="107.05" width="3.6" height="3.6" stroke="#d8aa78" stroke-width="0.85" fill="none"/>
<path d="M140.22 132.28h4.6l-2.3 3.68z" stroke="#4040c0" stroke-width="0.95" fill="none"/>
<circle cx="142.52" cy="152.78" r="1.9" stroke="#d0505a" stroke-width="0.85" fill="none"/>
<path d="M140.52 176.34h4M142.52 174.34v4" stroke="#333" stroke-width="0.9" fill="none"/>
<rect x="146.36" y="107.47" width="3.6" height="3.6" stroke="#d8aa78" stroke-width="0.85" fill="none"/>
<path d="M145.86 132.28h4.6l-2.3 3.68z" stroke="#4040c0" stroke-width="0.95" fill="none"/>
<circle cx="148.16" cy="153.08" r="1.9" stroke="#d0505a" stroke-width="0.85" fill="none"/>
<path d="M146.16 176.34h4M148.16 174.34v4" stroke="#333" stroke-width="0.9" fill="none"/>
<rect x="152" y="107.9" width="3.6" height="3.6" stroke="#d8aa78" stroke-width="0.85" fill="none"/>
<path d="M151.5 132.11h4.6l-2.3 3.68z" stroke="#4040c0" stroke-width="0.95" fill="none"/>
<circle cx="153.8" cy="153.39" r="1.9" stroke="#d0505a" stroke-width="0.85" fill="none"/>
<path d="M151.8 176.34h4M153.8 174.34v4" stroke="#333" stroke-width="0.9" fill="none"/>
<rect x="157.64" y="110.11" width="3.6" height="3.6" stroke="#d8aa78" stroke-width="0.85" fill="none"/>
<path d="M157.14 136.88h4.6l-2.3 3.68z" stroke="#4040c0" stroke-width="0.95" fill="none"/>
<circle cx="159.44" cy="154.24" r="1.9" stroke="#d0505a" stroke-width="0.85" fill="none"/>
<path d="M157.44 178.21h4M159.44 176.21v4" stroke="#333" stroke-width="0.9" fill="none"/>
<rect x="163.28" y="110.11" width="3.6" height="3.6" stroke="#d8aa78" stroke-width="0.85" fill="none"/>
<path d="M162.78 136.88h4.6l-2.3 3.68z" stroke="#4040c0" stroke-width="0.95" fill="none"/>
<circle cx="165.08" cy="154.24" r="1.9" stroke="#d0505a" stroke-width="0.85" fill="none"/>
<path d="M163.08 178.21h4M165.08 176.21v4" stroke="#333" stroke-width="0.9" fill="none"/>
<rect x="168.92" y="110.11" width="3.6" height="3.6" stroke="#d8aa78" stroke-width="0.85" fill="none"/>
<path d="M168.42 137.72h4.6l-2.3 3.68z" stroke="#4040c0" stroke-width="0.95" fill="none"/>
<circle cx="170.72" cy="154.24" r="1.9" stroke="#d0505a" stroke-width="0.85" fill="none"/>
<path d="M168.72 178.21h4M170.72 176.21v4" stroke="#333" stroke-width="0.9" fill="none"/>
<rect x="174.56" y="107.9" width="3.6" height="3.6" stroke="#d8aa78" stroke-width="0.85" fill="none"/>
<path d="M174.06 138.74h4.6l-2.3 3.68z" stroke="#4040c0" stroke-width="0.95" fill="none"/>
<circle cx="176.36" cy="154.24" r="1.9" stroke="#d0505a" stroke-width="0.85" fill="none"/>
<path d="M174.36 178.21h4M176.36 176.21v4" stroke="#333" stroke-width="0.9" fill="none"/>
<rect x="180.2" y="110.11" width="3.6" height="3.6" stroke="#d8aa78" stroke-width="0.85" fill="none"/>
<path d="M179.7 139.94h4.6l-2.3 3.68z" stroke="#4040c0" stroke-width="0.95" fill="none"/>
<circle cx="182" cy="154.24" r="1.9" stroke="#d0505a" stroke-width="0.85" fill="none"/>
<path d="M180 178.21h4M182 176.21v4" stroke="#333" stroke-width="0.9" fill="none"/>
<rect x="185.84" y="111.13" width="3.6" height="3.6" stroke="#d8aa78" stroke-width="0.85" fill="none"/>
<path d="M185.34 139.94h4.6l-2.3 3.68z" stroke="#4040c0" stroke-width="0.95" fill="none"/>
<circle cx="187.64" cy="155.77" r="1.9" stroke="#d0505a" stroke-width="0.85" fill="none"/>
<path d="M185.64 178.21h4M187.64 176.21v4" stroke="#333" stroke-width="0.9" fill="none"/>
<rect x="191.48" y="111.13" width="3.6" height="3.6" stroke="#d8aa78" stroke-width="0.85" fill="none"/>
<path d="M190.98 140.44h4.6l-2.3 3.68z" stroke="#4040c0" stroke-width="0.95" fill="none"/>
<circle cx="193.28" cy="155.77" r="1.9" stroke="#d0505a" stroke-width="0.85" fill="none"/>
<path d="M191.28 178.21h4M193.28 176.21v4" stroke="#333" stroke-width="0.9" fill="none"/>
<rect x="197.12" y="111.13" width="3.6" height="3.6" stroke="#d8aa78" stroke-width="0.85" fill="none"/>
<path d="M196.62 139.94h4.6l-2.3 3.68z" stroke="#4040c0" stroke-width="0.95" fill="none"/>
<circle cx="198.92" cy="155.77" r="1.9" stroke="#d0505a" stroke-width="0.85" fill="none"/>
<path d="M196.92 178.21h4M198.92 176.21v4" stroke="#333" stroke-width="0.9" fill="none"/>
<rect x="202.76" y="111.13" width="3.6" height="3.6" stroke="#d8aa78" stroke-width="0.85" fill="none"/>
<path d="M202.26 139.25h4.6l-2.3 3.68z" stroke="#4040c0" stroke-width="0.95" fill="none"/>
<circle cx="204.56" cy="155.77" r="1.9" stroke="#d0505a" stroke-width="0.85" fill="none"/>
<path d="M202.56 178.21h4M204.56 176.21v4" stroke="#333" stroke-width="0.9" fill="none"/>
<rect x="208.4" y="111.13" width="3.6" height="3.6" stroke="#d8aa78" stroke-width="0.85" fill="none"/>
<path d="M207.9 137.38h4.6l-2.3 3.68z" stroke="#4040c0" stroke-width="0.95" fill="none"/>
<circle cx="210.2" cy="155.77" r="1.9" stroke="#d0505a" stroke-width="0.85" fill="none"/>
<path d="M208.2 178.21h4M210.2 176.21v4" stroke="#333" stroke-width="0.9" fill="none"/>
<rect x="214.04" y="87.84" width="3.6" height="3.6" stroke="#d8aa78" stroke-width="0.85" fill="none"/>
<path d="M213.54 141.12h4.6l-2.3 3.68z" stroke="#4040c0" stroke-width="0.95" fill="none"/>
<circle cx="215.84" cy="155.77" r="1.9" stroke="#d0505a" stroke-width="0.85" fill="none"/>
<path d="M213.84 178.21h4M215.84 176.21v4" stroke="#333" stroke-width="0.9" fill="none"/>
<rect x="219.68" y="111.81" width="3.6" height="3.6" stroke="#d8aa78" stroke-width="0.85" fill="none"/>
<path d="M219.18 141.12h4.6l-2.3 3.68z" stroke="#4040c0" stroke-width="0.95" fill="none"/>
<circle cx="221.48" cy="155.77" r="1.9" stroke="#d0505a" stroke-width="0.85" fill="none"/>
<path d="M219.48 178.21h4M221.48 176.21v4" stroke="#333" stroke-width="0.9" fill="none"/>
<rect x="225.32" y="111.81" width="3.6" height="3.6" stroke="#d8aa78" stroke-width="0.85" fill="none"/>
<path d="M224.82 132.28h4.6l-2.3 3.68z" stroke="#4040c0" stroke-width="0.95" fill="none"/>
<circle cx="227.12" cy="155.77" r="1.9" stroke="#d0505a" stroke-width="0.85" fill="none"/>
<path d="M225.12 178.21h4M227.12 176.21v4" stroke="#333" stroke-width="0.9" fill="none"/>
<rect x="230.96" y="111.81" width="3.6" height="3.6" stroke="#d8aa78" stroke-width="0.85" fill="none"/>
<path d="M230.46 134.16h4.6l-2.3 3.68z" stroke="#4040c0" stroke-width="0.95" fill="none"/>
<circle cx="232.76" cy="155.77" r="1.9" stroke="#d0505a" stroke-width="0.85" fill="none"/>
<path d="M230.76 178.21h4M232.76 176.21v4" stroke="#333" stroke-width="0.9" fill="none"/>
<rect x="236.6" y="111.81" width="3.6" height="3.6" stroke="#d8aa78" stroke-width="0.85" fill="none"/>
<path d="M236.1 125.82h4.6l-2.3 3.68z" stroke="#4040c0" stroke-width="0.95" fill="none"/>
<circle cx="238.4" cy="155.77" r="1.9" stroke="#d0505a" stroke-width="0.85" fill="none"/>
<path d="M236.4 178.21h4M238.4 176.21v4" stroke="#333" stroke-width="0.9" fill="none"/>
<rect x="242.24" y="97.87" width="3.6" height="3.6" stroke="#d8aa78" stroke-width="0.85" fill="none"/>
<path d="M241.74 124.97h4.6l-2.3 3.68z" stroke="#4040c0" stroke-width="0.95" fill="none"/>
<circle cx="244.04" cy="152.88" r="1.9" stroke="#d0505a" stroke-width="0.85" fill="none"/>
<path d="M242.04 170.05h4M244.04 168.05v4" stroke="#333" stroke-width="0.9" fill="none"/>
<rect x="247.88" y="97.87" width="3.6" height="3.6" stroke="#d8aa78" stroke-width="0.85" fill="none"/>
<path d="M247.38 124.97h4.6l-2.3 3.68z" stroke="#4040c0" stroke-width="0.95" fill="none"/>
<circle cx="249.68" cy="153.9" r="1.9" stroke="#d0505a" stroke-width="0.85" fill="none"/>
<path d="M247.68 172.6h4M249.68 170.6v4" stroke="#333" stroke-width="0.9" fill="none"/>
<rect x="253.52" y="97.87" width="3.6" height="3.6" stroke="#d8aa78" stroke-width="0.85" fill="none"/>
<path d="M253.02 123.44h4.6l-2.3 3.68z" stroke="#4040c0" stroke-width="0.95" fill="none"/>
<circle cx="255.32" cy="153.95" r="1.9" stroke="#d0505a" stroke-width="0.85" fill="none"/>
<path d="M253.32 172.72h4M255.32 170.72v4" stroke="#333" stroke-width="0.9" fill="none"/>
<rect x="259.16" y="97.87" width="3.6" height="3.6" stroke="#d8aa78" stroke-width="0.85" fill="none"/>
<path d="M258.66 124.29h4.6l-2.3 3.68z" stroke="#4040c0" stroke-width="0.95" fill="none"/>
<circle cx="260.96" cy="154" r="1.9" stroke="#d0505a" stroke-width="0.85" fill="none"/>
<path d="M258.96 172.84h4M260.96 170.84v4" stroke="#333" stroke-width="0.9" fill="none"/>
<rect x="264.8" y="97.87" width="3.6" height="3.6" stroke="#d8aa78" stroke-width="0.85" fill="none"/>
<path d="M264.3 109.16h4.6l-2.3 3.68z" stroke="#4040c0" stroke-width="0.95" fill="none"/>
<circle cx="266.6" cy="154.05" r="1.9" stroke="#d0505a" stroke-width="0.85" fill="none"/>
<path d="M264.6 172.96h4M266.6 170.96v4" stroke="#333" stroke-width="0.9" fill="none"/>
<rect x="270.44" y="97.87" width="3.6" height="3.6" stroke="#d8aa78" stroke-width="0.85" fill="none"/>
<path d="M269.94 119.36h4.6l-2.3 3.68z" stroke="#4040c0" stroke-width="0.95" fill="none"/>
<circle cx="272.24" cy="154.09" r="1.9" stroke="#d0505a" stroke-width="0.85" fill="none"/>
<path d="M270.24 173.09h4M272.24 171.09v4" stroke="#333" stroke-width="0.9" fill="none"/>
<rect x="276.08" y="97.87" width="3.6" height="3.6" stroke="#d8aa78" stroke-width="0.85" fill="none"/>
<path d="M275.58 124.46h4.6l-2.3 3.68z" stroke="#4040c0" stroke-width="0.95" fill="none"/>
<circle cx="277.88" cy="154.14" r="1.9" stroke="#d0505a" stroke-width="0.85" fill="none"/>
<path d="M275.88 173.21h4M277.88 171.21v4" stroke="#333" stroke-width="0.9" fill="none"/>
<rect x="281.72" y="97.87" width="3.6" height="3.6" stroke="#d8aa78" stroke-width="0.85" fill="none"/>
<path d="M281.22 124.46h4.6l-2.3 3.68z" stroke="#4040c0" stroke-width="0.95" fill="none"/>
<circle cx="283.52" cy="154.19" r="1.9" stroke="#d0505a" stroke-width="0.85" fill="none"/>
<path d="M281.52 173.33h4M283.52 171.33v4" stroke="#333" stroke-width="0.9" fill="none"/>
<rect x="287.36" y="97.87" width="3.6" height="3.6" stroke="#d8aa78" stroke-width="0.85" fill="none"/>
<path d="M286.86 124.46h4.6l-2.3 3.68z" stroke="#4040c0" stroke-width="0.95" fill="none"/>
<circle cx="289.16" cy="154.24" r="1.9" stroke="#d0505a" stroke-width="0.85" fill="none"/>
<path d="M287.16 173.45h4M289.16 171.45v4" stroke="#333" stroke-width="0.9" fill="none"/>
<text x="83" y="112" font-size="9.8" text-anchor="middle" fill="#111">100</text>
<text x="110.7" y="119" font-size="9.8" text-anchor="middle" fill="#111">200</text>
<text x="137.6" y="123.2" font-size="9.8" text-anchor="middle" fill="#111">400</text>
<text x="167.9" y="125.8" font-size="9.8" text-anchor="middle" fill="#111">800</text>
<text x="193.7" y="125.8" font-size="9.8" text-anchor="middle" fill="#111">1,600</text>
<text x="224.4" y="125.8" font-size="9.8" text-anchor="middle" fill="#111">2,400</text>
<text x="243" y="92" font-size="9.3" fill="#111">100 mAg<tspan dy="-4" font-size="6.6">−1</tspan></text>
<text x="1.2" y="16.7" font-size="20" text-anchor="start" fill="#111" font-weight="bold">a</text>
<line x1="69.2" y1="245.7" x2="294.7" y2="245.7" stroke="#111" stroke-width="1.3"/>
<line x1="69.2" y1="245.1" x2="69.2" y2="297.7" stroke="#111" stroke-width="1.3"/>
<line x1="294.7" y1="245.1" x2="294.7" y2="297.7" stroke="#111" stroke-width="1.3"/>
<line x1="80.48" y1="245.7" x2="80.48" y2="247.3" stroke="#111" stroke-width="1"/>
<line x1="91.75" y1="245.7" x2="91.75" y2="247.3" stroke="#111" stroke-width="1"/>
<line x1="103.03" y1="245.7" x2="103.03" y2="247.3" stroke="#111" stroke-width="1"/>
<line x1="114.3" y1="245.7" x2="114.3" y2="247.3" stroke="#111" stroke-width="1"/>
<line x1="125.58" y1="245.7" x2="125.58" y2="248.3" stroke="#111" stroke-width="1"/>
<line x1="136.85" y1="245.7" x2="136.85" y2="247.3" stroke="#111" stroke-width="1"/>
<line x1="148.12" y1="245.7" x2="148.12" y2="247.3" stroke="#111" stroke-width="1"/>
<line x1="159.4" y1="245.7" x2="159.4" y2="247.3" stroke="#111" stroke-width="1"/>
<line x1="170.68" y1="245.7" x2="170.68" y2="247.3" stroke="#111" stroke-width="1"/>
<line x1="181.95" y1="245.7" x2="181.95" y2="248.3" stroke="#111" stroke-width="1"/>
<line x1="193.23" y1="245.7" x2="193.23" y2="247.3" stroke="#111" stroke-width="1"/>
<line x1="204.5" y1="245.7" x2="204.5" y2="247.3" stroke="#111" stroke-width="1"/>
<line x1="215.77" y1="245.7" x2="215.77" y2="247.3" stroke="#111" stroke-width="1"/>
<line x1="227.05" y1="245.7" x2="227.05" y2="247.3" stroke="#111" stroke-width="1"/>
<line x1="238.32" y1="245.7" x2="238.32" y2="248.3" stroke="#111" stroke-width="1"/>
<line x1="249.6" y1="245.7" x2="249.6" y2="247.3" stroke="#111" stroke-width="1"/>
<line x1="260.88" y1="245.7" x2="260.88" y2="247.3" stroke="#111" stroke-width="1"/>
<line x1="272.15" y1="245.7" x2="272.15" y2="247.3" stroke="#111" stroke-width="1"/>
<line x1="283.43" y1="245.7" x2="283.43" y2="247.3" stroke="#111" stroke-width="1"/>
<line x1="69.2" y1="297.7" x2="71.8" y2="297.7" stroke="#111" stroke-width="1"/>
<line x1="294.7" y1="297.7" x2="292.1" y2="297.7" stroke="#111" stroke-width="1"/>
<line x1="69.2" y1="293.66" x2="70.8" y2="293.66" stroke="#111" stroke-width="1"/>
<line x1="294.7" y1="293.66" x2="293.1" y2="293.66" stroke="#111" stroke-width="1"/>
<line x1="69.2" y1="289.62" x2="70.8" y2="289.62" stroke="#111" stroke-width="1"/>
<line x1="294.7" y1="289.62" x2="293.1" y2="289.62" stroke="#111" stroke-width="1"/>
<line x1="69.2" y1="285.58" x2="70.8" y2="285.58" stroke="#111" stroke-width="1"/>
<line x1="294.7" y1="285.58" x2="293.1" y2="285.58" stroke="#111" stroke-width="1"/>
<line x1="69.2" y1="281.54" x2="70.8" y2="281.54" stroke="#111" stroke-width="1"/>
<line x1="294.7" y1="281.54" x2="293.1" y2="281.54" stroke="#111" stroke-width="1"/>
<line x1="69.2" y1="277.5" x2="71.8" y2="277.5" stroke="#111" stroke-width="1"/>
<line x1="294.7" y1="277.5" x2="292.1" y2="277.5" stroke="#111" stroke-width="1"/>
<line x1="69.2" y1="273.46" x2="70.8" y2="273.46" stroke="#111" stroke-width="1"/>
<line x1="294.7" y1="273.46" x2="293.1" y2="273.46" stroke="#111" stroke-width="1"/>
<line x1="69.2" y1="269.42" x2="70.8" y2="269.42" stroke="#111" stroke-width="1"/>
<line x1="294.7" y1="269.42" x2="293.1" y2="269.42" stroke="#111" stroke-width="1"/>
<line x1="69.2" y1="265.38" x2="70.8" y2="265.38" stroke="#111" stroke-width="1"/>
<line x1="294.7" y1="265.38" x2="293.1" y2="265.38" stroke="#111" stroke-width="1"/>
<line x1="69.2" y1="261.34" x2="70.8" y2="261.34" stroke="#111" stroke-width="1"/>
<line x1="294.7" y1="261.34" x2="293.1" y2="261.34" stroke="#111" stroke-width="1"/>
<line x1="69.2" y1="257.3" x2="71.8" y2="257.3" stroke="#111" stroke-width="1"/>
<line x1="294.7" y1="257.3" x2="292.1" y2="257.3" stroke="#111" stroke-width="1"/>
<line x1="69.2" y1="253.26" x2="70.8" y2="253.26" stroke="#111" stroke-width="1"/>
<line x1="294.7" y1="253.26" x2="293.1" y2="253.26" stroke="#111" stroke-width="1"/>
<line x1="69.2" y1="249.22" x2="70.8" y2="249.22" stroke="#111" stroke-width="1"/>
<line x1="294.7" y1="249.22" x2="293.1" y2="249.22" stroke="#111" stroke-width="1"/>
<text x="63.5" y="261.8" font-size="12.7" text-anchor="end" fill="#111">100</text>
<text x="63.5" y="282" font-size="12.7" text-anchor="end" fill="#111">98</text>
<text x="63.5" y="302.2" font-size="12.7" text-anchor="end" fill="#111">96</text>
<text x="32.3" y="273" font-size="12.9" text-anchor="middle" fill="#111" transform="rotate(-90 32.3 273)">C.E. (%)</text>
<line x1="285.68" y1="246.7" x2="285.68" y2="297.7" stroke="#889" stroke-width="0.8" stroke-dasharray="1 1.5"/>
<line x1="285.68" y1="311" x2="285.68" y2="437.8" stroke="#889" stroke-width="0.8" stroke-dasharray="1 1.5"/>
<path d="M69.2 258.09 L70.1 258.37 L71 257.56 L71.91 258.5 L72.81 257.75 L73.71 258.02 L74.61 258.52 L75.51 257.79 L76.42 258.55 L77.32 257.91 L78.22 258.5 L79.12 258.47 L80.02 257.93 L80.93 257.28 L81.83 258.41 L82.73 258.25 L83.63 257.6 L84.53 257.08 L85.44 257.68 L86.34 257.97 L87.24 257.04 L88.14 258.54 L89.04 257.23 L89.95 258.14 L90.85 258.38 L91.75 258.42 L92.65 258.11 L93.55 257.29 L94.46 258.32 L95.36 257.67 L96.26 257.58 L97.16 258.01 L98.06 257.73 L98.97 258.51 L99.87 258.52 L100.77 258.28 L101.67 257.51 L102.57 257.92 L103.48 258.11 L104.38 257.67 L105.28 257.88 L106.18 258.13 L107.08 257.33 L107.99 257.48 L108.89 258.22 L109.79 257.68 L110.69 257.76 L111.59 257.2 L112.5 257.43 L113.4 258.15 L114.3 257.03 L115.2 258.42 L116.1 257.94 L117.01 257.39 L117.91 258.37 L118.81 257.82 L119.71 258.55 L120.61 257.53 L121.52 257.38 L122.42 257.69 L123.32 257.2 L124.22 258.11 L125.12 257.49 L126.03 257.65 L126.93 257.68 L127.83 257.88 L128.73 257.26 L129.63 257.09 L130.54 257.85 L131.44 257.54 L132.34 258.51 L133.24 257.48 L134.14 257.57 L135.05 257.01 L135.95 257.28 L136.85 258.15 L137.75 257.99 L138.65 257.53 L139.56 258.58 L140.46 257.87 L141.36 258.34 L142.26 258.42 L143.16 258.52 L144.07 257.37 L144.97 258.4 L145.87 258.21 L146.77 257.98 L147.67 257.2 L148.58 258.48 L149.48 257.89 L150.38 257.73 L151.28 257.19 L152.18 257.29 L153.09 257.22 L153.99 258.16 L154.89 257.94 L155.79 258.03 L156.69 257.18 L157.6 257.07 L158.5 258.37 L159.4 258.33 L160.3 258.24 L161.2 258.24 L162.11 257.83 L163.01 257.66 L163.91 258.19 L164.81 258.61 L165.71 257.94 L166.62 258.02 L167.52 257.7 L168.42 257.07 L169.32 257.5 L170.22 257.78 L171.13 257.61 L172.03 257.52 L172.93 258.53 L173.83 257.16 L174.73 257.35 L175.64 257.2 L176.54 257.32 L177.44 257.98 L178.34 257.97 L179.24 258.45 L180.15 257.59 L181.05 258.51 L181.95 258.5 L182.85 258.28 L183.75 258.35 L184.66 258.06 L185.56 258.53 L186.46 258.61 L187.36 258.37 L188.26 258.45 L189.17 258.03 L190.07 258.57 L190.97 257.2 L191.87 257.62 L192.77 258.37 L193.68 258.21 L194.58 258.05 L195.48 258.02 L196.38 258.41 L197.28 257.24 L198.19 257.01 L199.09 257.86 L199.99 257.83 L200.89 258.47 L201.79 258.45 L202.7 258.06 L203.6 258.19 L204.5 257.27 L205.4 258.35 L206.3 258.58 L207.21 257.08 L208.11 257.76 L209.01 258.38 L209.91 257.74 L210.81 258.57 L211.72 257.76 L212.62 257.03 L213.52 257.22 L214.42 257.49 L215.32 258.19 L216.23 258.02 L217.13 258.34 L218.03 257.37 L218.93 257.75 L219.83 257.35 L220.74 258.08 L221.64 258.25 L222.54 257.3 L223.44 257.02 L224.34 257.24 L225.25 257.31 L226.15 257.29 L227.05 257.42 L227.95 258.25 L228.85 257.78 L229.76 258.04 L230.66 258.57 L231.56 258.57 L232.46 258.16 L233.36 258.19 L234.27 257.49 L235.17 257.07 L236.07 257.89 L236.97 257.1 L237.87 257.02 L238.78 257.07 L239.68 258.02 L240.58 258.26 L241.48 258.25 L242.38 258.3 L243.29 258.28 L244.19 257.6 L245.09 257.16 L245.99 257.25 L246.89 257.84 L247.8 257.56 L248.7 257.32 L249.6 258.48 L250.5 257.55 L251.4 257.14 L252.31 257.35 L253.21 257.4 L254.11 257.84 L255.01 258.32 L255.91 257.34 L256.82 258.08 L257.72 257.32 L258.62 257.04 L259.52 257.97 L260.42 257.96 L261.33 257.08 L262.23 257.44 L263.13 258.34 L264.03 258.41 L264.93 258.37 L265.84 257.15 L266.74 257.31 L267.64 258.38 L268.54 257.28 L269.44 257.03 L270.35 257.55 L271.25 258.05 L272.15 257.73 L273.05 258.4 L273.95 258.59 L274.86 257.04 L275.76 257.56 L276.66 257.76 L277.56 257.1 L278.46 257.91 L279.37 257.2 L280.27 257.28 L281.17 258.27 L282.07 258.21 L282.97 258.14 L283.88 258.22 L284.78 257.67 L285.68 258.19" stroke="#111" stroke-width="3.0" fill="none"/>
<path d="M69.2 261 L70.1 261.58 L71 260.01 L71.91 261.13 L72.81 260.92 L73.71 260.67 L74.61 260.02 L75.51 261 L76.42 259.99 L77.32 260.83 L78.22 260.77 L79.12 260.79 L80.02 261.81 L80.93 260.96 L81.83 261.48 L82.73 261.84 L83.63 260.23 L84.53 261.5 L85.44 260.89 L86.34 260.38 L87.24 260.72 L88.14 261.19 L89.04 260.8 L89.95 260.72 L90.85 260.26 L91.75 261.63 L92.65 260.71 L93.55 261.34 L94.46 261.29 L95.36 260.29 L96.26 260.82 L97.16 260.71 L98.06 260.31 L98.97 260 L99.87 260.95 L100.77 260.61 L101.67 260.82 L102.57 260.81 L103.48 260.45 L104.38 260.93 L105.28 260.77 L106.18 260.88 L107.08 259.94 L107.99 260.43 L108.89 260.07 L109.79 259.94 L110.69 261.32 L111.59 260.71 L112.5 259.94 L113.4 260.15 L114.3 261.57 L115.2 261.6 L116.1 260.95 L117.01 261.7 L117.91 261.36 L118.81 261.7 L119.71 260.49 L120.61 260.26 L121.52 260.03 L122.42 261.53 L123.32 260.4 L124.22 260.51 L125.12 261.56 L126.03 260.06 L126.93 259.89 L127.83 261.4 L128.73 259.92 L129.63 261.04 L130.54 260.86 L131.44 259.85 L132.34 260.16 L133.24 261.52 L134.14 260.97 L135.05 260.8 L135.95 261.16 L136.85 261.45 L137.75 261.2 L138.65 260.39 L139.56 261.81 L140.46 260.73 L141.36 260.96 L142.26 261.81 L143.16 261.18 L144.07 260.58 L144.97 260.81 L145.87 261.72 L146.77 259.86 L147.67 260.25 L148.58 259.88 L149.48 261.63 L150.38 261.31 L151.28 261.77 L152.18 260.27 L153.09 261.3 L153.99 261.58 L154.89 260.99 L155.79 260 L156.69 260.19 L157.6 261.32 L158.5 261.54 L159.4 259.99 L160.3 260.69 L161.2 260.43 L162.11 261.66 L163.01 261.73 L163.91 260.45 L164.81 260.99 L165.71 261.7 L166.62 259.95 L167.52 260.56 L168.42 260.23 L169.32 261.68 L170.22 260.12 L171.13 261.71 L172.03 260.1 L172.93 260.93 L173.83 261.16 L174.73 260.73 L175.64 259.97 L176.54 261.3 L177.44 261.58 L178.34 260.78 L179.24 261.36 L180.15 261.62 L181.05 261.52 L181.95 261.74 L182.85 261.44 L183.75 261.21 L184.66 261.23 L185.56 260.31 L186.46 261.26 L187.36 260.83 L188.26 261.49 L189.17 261.14 L190.07 261.81 L190.97 261.34 L191.87 261.81 L192.77 260.36 L193.68 260.73 L194.58 261.46 L195.48 260.89 L196.38 259.96 L197.28 261.63 L198.19 260.19 L199.09 260.97 L199.99 260.85 L200.89 260.16 L201.79 261.05 L202.7 260.82 L203.6 260.46 L204.5 259.86 L205.4 261.15 L206.3 260.16 L207.21 260.42 L208.11 260.56 L209.01 261.03 L209.91 261.14 L210.81 261.74 L211.72 261.58 L212.62 261.7 L213.52 260.35 L214.42 261.33 L215.32 261.52 L216.23 261.67 L217.13 260.15 L218.03 260.09 L218.93 260.49 L219.83 261.28 L220.74 261.36 L221.64 261.25 L222.54 260.92 L223.44 261.53 L224.34 260.94 L225.25 261.31 L226.15 259.9 L227.05 259.88 L227.95 260.74 L228.85 261.35 L229.76 259.89 L230.66 261.22 L231.56 261.12 L232.46 261.84 L233.36 261.07 L234.27 260.89 L235.17 260.83 L236.07 261.44 L236.97 260.83 L237.87 261.83 L238.78 261.31 L239.68 261.66 L240.58 261.04 L241.48 261.76 L242.38 261.8 L243.29 261.23 L244.19 261.37 L245.09 260.66 L245.99 260.78 L246.89 260.33 L247.8 260.52 L248.7 260.4 L249.6 260.07 L250.5 261.06 L251.4 261.19 L252.31 259.86 L253.21 261.54 L254.11 260.38 L255.01 260.55 L255.91 261.76 L256.82 260.16 L257.72 260.04 L258.62 260.58 L259.52 260.36 L260.42 260.2 L261.33 261.56 L262.23 260.79 L263.13 260.83 L264.03 260.16 L264.93 260.22 L265.84 260.18 L266.74 260.67 L267.64 260.04 L268.54 260.47 L269.44 260.44 L270.35 261.38 L271.25 261.78 L272.15 261.58 L273.05 261.12 L273.95 261.63 L274.86 260.16 L275.76 260.72 L276.66 260.58 L277.56 260.58 L278.46 260.47 L279.37 260.86 L280.27 261.84 L281.17 260.23 L282.07 260.33 L282.97 260.83 L283.88 260.76 L284.78 260.51 L285.68 261.71" stroke="#f08a20" stroke-width="4.6" fill="none"/>
<rect x="89.95" y="265.1" width="3.6" height="3.6" stroke="#f08a20" stroke-width="0.9" fill="none"/>
<line x1="91.75" y1="262.35" x2="91.75" y2="266.9" stroke="#f08a20" stroke-width="1.2"/>
<rect x="96.26" y="261.05" width="3.6" height="3.6" stroke="#f08a20" stroke-width="0.9" fill="none"/>
<line x1="98.06" y1="262.35" x2="98.06" y2="262.85" stroke="#f08a20" stroke-width="1.2"/>
<rect x="152.41" y="261.05" width="3.6" height="3.6" stroke="#f08a20" stroke-width="0.9" fill="none"/>
<line x1="154.21" y1="262.35" x2="154.21" y2="262.85" stroke="#f08a20" stroke-width="1.2"/>
<rect x="180.38" y="262.57" width="3.6" height="3.6" stroke="#f08a20" stroke-width="0.9" fill="none"/>
<line x1="182.18" y1="262.35" x2="182.18" y2="264.37" stroke="#f08a20" stroke-width="1.2"/>
<rect x="200.44" y="253.48" width="3.6" height="3.6" stroke="#f08a20" stroke-width="0.9" fill="none"/>
<line x1="202.25" y1="262.35" x2="202.25" y2="255.28" stroke="#f08a20" stroke-width="1.2"/>
<rect x="208.11" y="256" width="3.6" height="3.6" stroke="#f08a20" stroke-width="0.9" fill="none"/>
<line x1="209.91" y1="262.35" x2="209.91" y2="257.81" stroke="#f08a20" stroke-width="1.2"/>
<rect x="206.98" y="263.58" width="3.6" height="3.6" stroke="#f08a20" stroke-width="0.9" fill="none"/>
<line x1="208.78" y1="262.35" x2="208.78" y2="265.38" stroke="#f08a20" stroke-width="1.2"/>
<rect x="236.07" y="263.58" width="3.6" height="3.6" stroke="#f08a20" stroke-width="0.9" fill="none"/>
<line x1="237.87" y1="262.35" x2="237.87" y2="265.38" stroke="#f08a20" stroke-width="1.2"/>
<rect x="266.52" y="263.58" width="3.6" height="3.6" stroke="#f08a20" stroke-width="0.9" fill="none"/>
<line x1="268.32" y1="262.35" x2="268.32" y2="265.38" stroke="#f08a20" stroke-width="1.2"/>
<rect x="274.18" y="252.47" width="3.6" height="3.6" stroke="#f08a20" stroke-width="0.9" fill="none"/>
<line x1="275.98" y1="262.35" x2="275.98" y2="254.27" stroke="#f08a20" stroke-width="1.2"/>
<rect x="68.98" y="262.57" width="3.6" height="3.6" stroke="#f08a20" stroke-width="0.9" fill="none"/>
<line x1="70.78" y1="262.35" x2="70.78" y2="264.37" stroke="#f08a20" stroke-width="1.2"/>
<path d="M78.42 258.31h3.2M80.02 256.71v3.2" stroke="#111" stroke-width="0.9" fill="none"/>
<path d="M85.64 264.37h3.2M87.24 262.77v3.2" stroke="#111" stroke-width="0.9" fill="none"/>
<path d="M135.25 258.82h3.2M136.85 257.22v3.2" stroke="#111" stroke-width="0.9" fill="none"/>
<path d="M175.84 264.37h3.2M177.44 262.77v3.2" stroke="#111" stroke-width="0.9" fill="none"/>
<rect x="284.56" y="257.52" width="3.6" height="3.6" stroke="#f08a20" stroke-width="0.9" fill="none"/>
<rect x="285.12" y="259.54" width="3.6" height="3.6" stroke="#f08a20" stroke-width="0.9" fill="none"/>
<rect x="285.68" y="262.57" width="3.6" height="3.6" stroke="#f08a20" stroke-width="0.9" fill="none"/>
<rect x="286.25" y="264.59" width="3.6" height="3.6" stroke="#f08a20" stroke-width="0.9" fill="none"/>
<rect x="286.81" y="260.55" width="3.6" height="3.6" stroke="#f08a20" stroke-width="0.9" fill="none"/>
<rect x="287.38" y="265.6" width="3.6" height="3.6" stroke="#f08a20" stroke-width="0.9" fill="none"/>
<rect x="287.94" y="266.61" width="3.6" height="3.6" stroke="#f08a20" stroke-width="0.9" fill="none"/>
<rect x="288.5" y="262.57" width="3.6" height="3.6" stroke="#f08a20" stroke-width="0.9" fill="none"/>
<path d="M284.78 277h3.6M286.58 275.2v3.6" stroke="#111" stroke-width="0.9" fill="none"/>
<path d="M285.43 283.56h3.2M287.03 281.96v3.2" stroke="#111" stroke-width="0.9" fill="none"/>
<path d="M284.58 292.8l4 0M286.58 290.8l0 4M285.08 291.3l3 3M288.08 291.3l-3 3" stroke="#111" stroke-width="1.1"/>
<path d="M286.58 293.8l4 0M288.58 291.8l0 4M287.08 292.3l3 3M290.08 292.3l-3 3" stroke="#111" stroke-width="1.1"/>
<path d="M283.58 294.8l4 0M285.58 292.8l0 4M284.08 293.3l3 3M287.08 293.3l-3 3" stroke="#111" stroke-width="1.1"/>
<path d="M285.58 291.3l4 0M287.58 289.3l0 4M286.08 289.8l3 3M289.08 289.8l-3 3" stroke="#111" stroke-width="1.1"/>
<path d="M287.58 292.3l4 0M289.58 290.3l0 4M288.08 290.8l3 3M291.08 290.8l-3 3" stroke="#111" stroke-width="1.1"/>
<path d="M286.58 295.3l4 0M288.58 293.3l0 4M287.08 293.8l3 3M290.08 293.8l-3 3" stroke="#111" stroke-width="1.1"/>
<path d="M284.08 291.8l4 0M286.08 289.8l0 4M284.58 290.3l3 3M287.58 290.3l-3 3" stroke="#111" stroke-width="1.1"/>
<line x1="69.2" y1="311" x2="69.2" y2="438.4" stroke="#111" stroke-width="1.3"/>
<line x1="294.7" y1="311" x2="294.7" y2="438.4" stroke="#111" stroke-width="1.3"/>
<line x1="69.2" y1="437.8" x2="294.7" y2="437.8" stroke="#111" stroke-width="1.3"/>
<line x1="80.48" y1="437.8" x2="80.48" y2="436.2" stroke="#111" stroke-width="1"/>
<line x1="91.75" y1="437.8" x2="91.75" y2="436.2" stroke="#111" stroke-width="1"/>
<line x1="103.03" y1="437.8" x2="103.03" y2="436.2" stroke="#111" stroke-width="1"/>
<line x1="114.3" y1="437.8" x2="114.3" y2="436.2" stroke="#111" stroke-width="1"/>
<line x1="125.58" y1="437.8" x2="125.58" y2="435.2" stroke="#111" stroke-width="1"/>
<line x1="136.85" y1="437.8" x2="136.85" y2="436.2" stroke="#111" stroke-width="1"/>
<line x1="148.12" y1="437.8" x2="148.12" y2="436.2" stroke="#111" stroke-width="1"/>
<line x1="159.4" y1="437.8" x2="159.4" y2="436.2" stroke="#111" stroke-width="1"/>
<line x1="170.68" y1="437.8" x2="170.68" y2="436.2" stroke="#111" stroke-width="1"/>
<line x1="181.95" y1="437.8" x2="181.95" y2="435.2" stroke="#111" stroke-width="1"/>
<line x1="193.23" y1="437.8" x2="193.23" y2="436.2" stroke="#111" stroke-width="1"/>
<line x1="204.5" y1="437.8" x2="204.5" y2="436.2" stroke="#111" stroke-width="1"/>
<line x1="215.77" y1="437.8" x2="215.77" y2="436.2" stroke="#111" stroke-width="1"/>
<line x1="227.05" y1="437.8" x2="227.05" y2="436.2" stroke="#111" stroke-width="1"/>
<line x1="238.32" y1="437.8" x2="238.32" y2="435.2" stroke="#111" stroke-width="1"/>
<line x1="249.6" y1="437.8" x2="249.6" y2="436.2" stroke="#111" stroke-width="1"/>
<line x1="260.88" y1="437.8" x2="260.88" y2="436.2" stroke="#111" stroke-width="1"/>
<line x1="272.15" y1="437.8" x2="272.15" y2="436.2" stroke="#111" stroke-width="1"/>
<line x1="283.43" y1="437.8" x2="283.43" y2="436.2" stroke="#111" stroke-width="1"/>
<line x1="69.2" y1="437.8" x2="71.8" y2="437.8" stroke="#111" stroke-width="1"/>
<line x1="294.7" y1="437.8" x2="292.1" y2="437.8" stroke="#111" stroke-width="1"/>
<line x1="69.2" y1="418.4" x2="70.8" y2="418.4" stroke="#111" stroke-width="1"/>
<line x1="294.7" y1="418.4" x2="293.1" y2="418.4" stroke="#111" stroke-width="1"/>
<line x1="69.2" y1="399" x2="71.8" y2="399" stroke="#111" stroke-width="1"/>
<line x1="294.7" y1="399" x2="292.1" y2="399" stroke="#111" stroke-width="1"/>
<line x1="69.2" y1="379.6" x2="70.8" y2="379.6" stroke="#111" stroke-width="1"/>
<line x1="294.7" y1="379.6" x2="293.1" y2="379.6" stroke="#111" stroke-width="1"/>
<line x1="69.2" y1="360.2" x2="71.8" y2="360.2" stroke="#111" stroke-width="1"/>
<line x1="294.7" y1="360.2" x2="292.1" y2="360.2" stroke="#111" stroke-width="1"/>
<line x1="69.2" y1="340.8" x2="70.8" y2="340.8" stroke="#111" stroke-width="1"/>
<line x1="294.7" y1="340.8" x2="293.1" y2="340.8" stroke="#111" stroke-width="1"/>
<line x1="69.2" y1="321.4" x2="71.8" y2="321.4" stroke="#111" stroke-width="1"/>
<line x1="294.7" y1="321.4" x2="292.1" y2="321.4" stroke="#111" stroke-width="1"/>
<text x="62.5" y="442.3" font-size="12.7" text-anchor="end" fill="#111">0</text>
<text x="62.5" y="403.5" font-size="12.7" text-anchor="end" fill="#111">200</text>
<text x="62.5" y="364.7" font-size="12.7" text-anchor="end" fill="#111">400</text>
<text x="62.5" y="325.9" font-size="12.7" text-anchor="end" fill="#111">600</text>
<text x="300.5" y="442.3" font-size="12.7" text-anchor="start" fill="#111">0.0</text>
<text x="300.5" y="403.5" font-size="12.7" text-anchor="start" fill="#111">0.2</text>
<text x="300.5" y="364.7" font-size="12.7" text-anchor="start" fill="#111">0.4</text>
<text x="300.5" y="325.9" font-size="12.7" text-anchor="start" fill="#111">0.6</text>
<text x="69.2" y="453.7" font-size="12.7" text-anchor="middle" fill="#111">40</text>
<text x="125.58" y="453.7" font-size="12.7" text-anchor="middle" fill="#111">290</text>
<text x="181.95" y="453.7" font-size="12.7" text-anchor="middle" fill="#111">540</text>
<text x="238.32" y="453.7" font-size="12.7" text-anchor="middle" fill="#111">790</text>
<text x="294.7" y="453.7" font-size="12.7" text-anchor="middle" fill="#111">1,040</text>
<text x="181.5" y="474.3" font-size="13.6" text-anchor="middle" fill="#111">Number of cycles</text>
<text transform="translate(12.4 374) rotate(-90)" font-size="13.4" text-anchor="middle" fill="#111">Charge capacity</text>
<text transform="translate(31.2 374) rotate(-90)" font-size="13.4" text-anchor="middle" fill="#111">(mAh g<tspan dy="-7.5" dx="1" font-size="9">−1</tspan><tspan dy="8.5" dx="-4" font-size="9.6">electrode</tspan><tspan dy="-1">)</tspan></text>
<text transform="translate(337.2 373.7) rotate(-90)" font-size="13.4" text-anchor="middle" fill="#111">Charge capacity</text>
<text transform="translate(353.6 373.7) rotate(-90)" font-size="13.4" text-anchor="middle" fill="#111">(mAh cm<tspan dy="-6" font-size="9">−2</tspan><tspan dy="6">)</tspan></text>
<path d="M69.2 381.54 L69.43 391.24 L70.1 394.73 L71 394.37 L72.36 394.33 L73.71 394.14 L75.06 393.66 L76.42 393.66 L77.77 393.63 L79.12 394.67 L80.48 394.5 L81.83 394.45 L83.18 394.38 L84.53 394.81 L85.89 394.71 L87.24 394.86 L88.59 394.47 L89.95 394.56 L91.3 396.51 L92.65 398.99 L94 399.56 L95.36 399.82 L96.71 399.91 L98.06 400.25 L99.42 400.4 L100.77 400.17 L102.12 400.52 L103.48 400.51 L104.83 400.55 L106.18 400.75 L107.53 400.56 L108.89 400.65 L110.24 400.49 L111.59 400.74 L112.95 400.74 L114.3 400.9 L115.65 400.87 L117.01 401.06 L118.36 401.24 L119.71 400.89 L121.06 400.96 L122.42 401.12 L123.77 401.27 L125.12 401.57 L126.48 401.69 L127.83 401.73 L129.18 401.93 L130.54 401.59 L131.89 401.88 L133.24 401.69 L134.59 402.02 L135.95 401.76 L137.3 401.9 L138.65 402.46 L140.01 402.41 L141.36 402.07 L142.71 402.4 L144.07 402.17 L145.42 402.58 L146.77 402.84 L148.12 402.59 L149.48 402.58 L150.83 402.94 L152.18 403.12 L153.54 403.05 L154.89 402.75 L156.24 402.94 L157.6 403.38 L158.95 403.38 L160.3 403.54 L161.66 403.63 L163.01 403.27 L164.36 403.7 L165.71 403.55 L167.07 403.69 L168.42 403.91 L169.77 403.66 L171.13 404.08 L172.48 403.86 L173.83 404.23 L175.19 404.13 L176.54 404.32 L177.89 404.36 L179.24 404.02 L180.6 404.19 L181.95 404.55 L183.3 404.28 L184.66 404.75 L186.01 404.71 L187.36 404.51 L188.72 404.71 L190.07 405.09 L191.42 404.65 L192.77 405.17 L194.13 405.21 L195.48 404.99 L196.83 405.31 L198.19 405.4 L199.54 405.61 L200.89 405.67 L202.25 405.45 L203.6 405.72 L204.95 405.58 L206.3 405.79 L207.66 405.81 L209.01 405.59 L210.36 405.93 L211.72 405.95 L213.07 405.85 L214.42 406.32 L215.77 406.41 L217.13 406.04 L218.48 406.16 L219.83 406.56 L221.19 406.67 L222.54 406.42 L223.89 406.37 L225.25 406.88 L226.6 406.51 L227.95 406.62 L229.31 406.85 L230.66 407.03 L232.01 407.29 L233.36 407.4 L234.72 406.93 L236.07 407.42 L237.42 407.22 L238.78 407.55 L240.13 407.29 L241.48 407.5 L242.83 407.74 L244.19 407.88 L245.54 407.64 L246.89 408.09 L248.25 408.06 L249.6 407.94 L250.95 407.84 L252.31 408.05 L253.66 408.32 L255.01 408.02 L256.37 408.5 L257.72 408.68 L259.07 408.61 L260.42 408.57 L261.78 408.87 L263.13 408.87 L264.48 408.83 L265.84 408.78 L267.19 409.11 L268.54 409.05 L269.89 408.81 L271.25 408.83 L272.6 409.09 L273.95 409.14 L275.31 409.27 L276.66 409.6 L278.01 409.73 L279.37 409.81 L280.72 409.37 L282.07 409.56 L283.43 409.48 L284.78 410.1" stroke="#ec8a2a" stroke-width="4.6" fill="none" stroke-linejoin="round"/>
<rect x="283.88" y="408.84" width="3.6" height="3.6" stroke="#ec8a2a" stroke-width="1" fill="none"/>
<path d="M69.2 427.13 C69.39 427.52 69.76 429.3 70.33 429.46 C70.89 429.62 70.52 428.49 72.58 428.1 C74.65 427.71 78.03 427.39 82.73 427.13 C87.43 426.87 96.26 426.52 100.77 426.55 C105.28 426.58 107.54 427.19 109.79 427.32 C112.05 427.45 112.8 427.32 114.3 427.32 C115.8 427.32 117.31 427.32 118.81 427.32 C120.31 427.32 121.82 427.32 123.32 427.32 C124.82 427.32 126.33 427.32 127.83 427.32 C129.33 427.32 130.84 427.32 132.34 427.32 C133.84 427.32 135.35 427.32 136.85 427.32 C138.35 427.32 139.86 427.32 141.36 427.32 C142.86 427.32 144.37 427.32 145.87 427.32 C147.37 427.32 148.88 427.32 150.38 427.32 C151.88 427.32 153.39 427.32 154.89 427.32 C156.39 427.32 157.9 427.32 159.4 427.32 C160.9 427.32 162.41 427.32 163.91 427.32 C165.41 427.32 166.92 427.32 168.42 427.32 C169.92 427.32 171.43 427.32 172.93 427.32 C174.43 427.32 175.94 427.32 177.44 427.32 C178.94 427.32 180.45 427.32 181.95 427.32 C183.45 427.32 184.96 427.32 186.46 427.32 C187.96 427.32 189.47 427.32 190.97 427.32 C192.47 427.32 193.98 427.32 195.48 427.32 C196.98 427.32 198.49 427.32 199.99 427.32 C201.49 427.32 203 427.32 204.5 427.32 C206 427.32 207.51 427.32 209.01 427.32 C210.51 427.32 212.02 427.32 213.52 427.32 C215.02 427.32 216.53 427.32 218.03 427.32 C219.53 427.32 221.04 427.32 222.54 427.32 C224.04 427.32 225.55 427.32 227.05 427.32 C228.55 427.32 230.06 427.32 231.56 427.32 C233.06 427.32 234.57 427.32 236.07 427.32 C237.57 427.32 239.08 427.32 240.58 427.32 C242.08 427.32 243.59 427.32 245.09 427.32 C246.59 427.32 248.1 427.32 249.6 427.32 C251.1 427.32 252.61 427.32 254.11 427.32 C255.61 427.32 257.12 427.32 258.62 427.32 C260.12 427.32 261.63 427.32 263.13 427.32 C264.63 427.32 266.14 427.32 267.64 427.32 C269.14 427.32 270.65 427.32 272.15 427.32 C273.65 427.32 275.16 427.32 276.66 427.32 C278.16 427.32 279.67 427.32 281.17 427.32 C282.67 427.32 284.93 427.32 285.68 427.32" stroke="#0a0a0a" stroke-width="4.7" fill="none"/>
<rect x="284.68" y="360.84" width="2.6" height="2.6" stroke="#ec8a2a" stroke-width="0.9" fill="none"/>
<rect x="284.93" y="351.2" width="2.6" height="2.6" stroke="#ec8a2a" stroke-width="0.9" fill="none"/>
<rect x="285.18" y="343.95" width="2.6" height="2.6" stroke="#ec8a2a" stroke-width="0.9" fill="none"/>
<rect x="285.43" y="338.51" width="2.6" height="2.6" stroke="#ec8a2a" stroke-width="0.9" fill="none"/>
<rect x="285.68" y="334.41" width="2.6" height="2.6" stroke="#ec8a2a" stroke-width="0.9" fill="none"/>
<rect x="285.93" y="331.34" width="2.6" height="2.6" stroke="#ec8a2a" stroke-width="0.9" fill="none"/>
<rect x="286.18" y="329.03" width="2.6" height="2.6" stroke="#ec8a2a" stroke-width="0.9" fill="none"/>
<rect x="286.43" y="327.29" width="2.6" height="2.6" stroke="#ec8a2a" stroke-width="0.9" fill="none"/>
<rect x="286.68" y="325.99" width="2.6" height="2.6" stroke="#ec8a2a" stroke-width="0.9" fill="none"/>
<rect x="286.93" y="325.01" width="2.6" height="2.6" stroke="#ec8a2a" stroke-width="0.9" fill="none"/>
<rect x="287.18" y="324.27" width="2.6" height="2.6" stroke="#ec8a2a" stroke-width="0.9" fill="none"/>
<rect x="287.43" y="323.71" width="2.6" height="2.6" stroke="#ec8a2a" stroke-width="0.9" fill="none"/>
<path d="M284.76 405.79h3.2M286.36 404.19v3.2" stroke="#111" stroke-width="0.9" fill="none"/>
<path d="M285.26 405.21h3.2M286.86 403.61v3.2" stroke="#111" stroke-width="0.9" fill="none"/>
<path d="M285.76 404.63h3.2M287.36 403.03v3.2" stroke="#111" stroke-width="0.9" fill="none"/>
<path d="M286.26 404.04h3.2M287.86 402.44v3.2" stroke="#111" stroke-width="0.9" fill="none"/>
<path d="M286.76 403.46h3.2M288.36 401.86v3.2" stroke="#111" stroke-width="0.9" fill="none"/>
<path d="M287.26 402.88h3.2M288.86 401.28v3.2" stroke="#111" stroke-width="0.9" fill="none"/>
<path d="M287.76 402.3h3.2M289.36 400.7v3.2" stroke="#111" stroke-width="0.9" fill="none"/>
<path d="M288.26 401.72h3.2M289.86 400.12v3.2" stroke="#111" stroke-width="0.9" fill="none"/>
<path d="M286.13 404.82l3 -3l2 1l2 -3" stroke="#111" stroke-width="2.2" fill="none"/>
<path d="M284.53 399h3.2M286.13 397.4v3.2" stroke="#111" stroke-width="0.9" fill="none"/>
<text x="251.5" y="344" font-size="8.9" text-anchor="middle" fill="#111">100 mAg<tspan dy="-4" font-size="6.3">−1</tspan></text>
<text x="181" y="377.5" font-size="8.9" text-anchor="middle" fill="#111">1,600 mAg<tspan dy="-4" font-size="6.3">−1</tspan></text>
<text x="181.8" y="397.5" font-size="8.9" text-anchor="middle" fill="#111">Decay−0.075 per cycle</text>
<text x="0.5" y="251.7" font-size="20" text-anchor="start" fill="#111" font-weight="bold">b</text>
<rect x="85.2" y="285.5" width="65.3" height="65" fill="#5e5e5e"/>
<rect x="85.2" y="285.5" width="65.3" height="65" filter="url(#semA)"/>
<rect x="151.8" y="285.5" width="64.2" height="65" fill="#5a5a5a"/>
<rect x="151.8" y="285.5" width="64.2" height="65" filter="url(#semB)"/>
<path d="M152 303.8 L216 322 M154.5 322.8 L191 346.6 M181.4 319.6 L191 307.7" stroke="#8c8c8c" stroke-width="1.7" opacity="0.8" fill="none"/>
<rect x="130" y="285.5" width="20.5" height="21.5" fill="#9c9690"/>
<circle cx="140.3" cy="296.2" r="9.3" fill="#4e2608"/>
<circle cx="139" cy="294.5" r="5" fill="#5e300c" opacity="0.6"/>
<rect x="193.8" y="285.5" width="22.2" height="21.5" fill="#c2bcb2"/>
<circle cx="204.9" cy="296.2" r="9.6" fill="#a08c70"/>
<circle cx="204.9" cy="296.6" r="7.4" fill="#3a3430"/>
<circle cx="203" cy="295" r="1.2" fill="#9a9a9a"/><circle cx="207" cy="298" r="1" fill="#aaa"/><circle cx="205" cy="293" r="0.8" fill="#888"/>
<line x1="126" y1="346.3" x2="141" y2="346.3" stroke="#f0f0f0" stroke-width="1.2"/>
<line x1="195" y1="346.3" x2="202.8" y2="346.3" stroke="#f0f0f0" stroke-width="1.2"/>
<text x="90.3" y="298.3" font-size="10.8" text-anchor="start" fill="#f4f4f4">rGO</text>
<text x="156.4" y="298.3" font-size="10.8" text-anchor="start" fill="#f4f4f4">60SiOC</text>
<line x1="433.8" y1="28.1" x2="433.8" y2="107.4" stroke="#555" stroke-width="1"/>
<line x1="433.8" y1="107.4" x2="606.2" y2="107.4" stroke="#555" stroke-width="1"/>
<line x1="448.17" y1="107.4" x2="448.17" y2="106" stroke="#555" stroke-width="0.9"/>
<line x1="462.53" y1="107.4" x2="462.53" y2="105" stroke="#555" stroke-width="0.9"/>
<line x1="476.9" y1="107.4" x2="476.9" y2="106" stroke="#555" stroke-width="0.9"/>
<line x1="491.27" y1="107.4" x2="491.27" y2="105" stroke="#555" stroke-width="0.9"/>
<line x1="505.63" y1="107.4" x2="505.63" y2="106" stroke="#555" stroke-width="0.9"/>
<line x1="520" y1="107.4" x2="520" y2="105" stroke="#555" stroke-width="0.9"/>
<line x1="534.37" y1="107.4" x2="534.37" y2="106" stroke="#555" stroke-width="0.9"/>
<line x1="548.73" y1="107.4" x2="548.73" y2="105" stroke="#555" stroke-width="0.9"/>
<line x1="563.1" y1="107.4" x2="563.1" y2="106" stroke="#555" stroke-width="0.9"/>
<line x1="577.47" y1="107.4" x2="577.47" y2="105" stroke="#555" stroke-width="0.9"/>
<line x1="591.83" y1="107.4" x2="591.83" y2="106" stroke="#555" stroke-width="0.9"/>
<line x1="606.2" y1="107.4" x2="606.2" y2="105" stroke="#555" stroke-width="0.9"/>
<line x1="433.8" y1="99.52" x2="435.2" y2="99.52" stroke="#555" stroke-width="0.9"/>
<line x1="433.8" y1="91.64" x2="436.2" y2="91.64" stroke="#555" stroke-width="0.9"/>
<line x1="433.8" y1="83.76" x2="435.2" y2="83.76" stroke="#555" stroke-width="0.9"/>
<line x1="433.8" y1="75.88" x2="436.2" y2="75.88" stroke="#555" stroke-width="0.9"/>
<line x1="433.8" y1="68" x2="435.2" y2="68" stroke="#555" stroke-width="0.9"/>
<line x1="433.8" y1="60.12" x2="436.2" y2="60.12" stroke="#555" stroke-width="0.9"/>
<line x1="433.8" y1="52.24" x2="435.2" y2="52.24" stroke="#555" stroke-width="0.9"/>
<line x1="433.8" y1="44.36" x2="436.2" y2="44.36" stroke="#555" stroke-width="0.9"/>
<line x1="433.8" y1="36.48" x2="435.2" y2="36.48" stroke="#555" stroke-width="0.9"/>
<line x1="433.8" y1="28.6" x2="436.2" y2="28.6" stroke="#555" stroke-width="0.9"/>
<text x="428.3" y="111.6" font-size="11.5" text-anchor="end" fill="#111">0.0</text>
<text x="428.3" y="95.84" font-size="11.5" text-anchor="end" fill="#111">0.5</text>
<text x="428.3" y="80.08" font-size="11.5" text-anchor="end" fill="#111">1.0</text>
<text x="428.3" y="64.32" font-size="11.5" text-anchor="end" fill="#111">1.5</text>
<text x="428.3" y="48.56" font-size="11.5" text-anchor="end" fill="#111">2.0</text>
<text x="428.3" y="32.8" font-size="11.5" text-anchor="end" fill="#111">2.5</text>
<text x="433.8" y="122.4" font-size="12" text-anchor="middle" fill="#111">0</text>
<text x="464.53" y="122.4" font-size="12" text-anchor="middle" fill="#111">200</text>
<text x="493.27" y="122.4" font-size="12" text-anchor="middle" fill="#111">400</text>
<text x="521.5" y="122.4" font-size="12" text-anchor="middle" fill="#111">600</text>
<text x="549.73" y="122.4" font-size="12" text-anchor="middle" fill="#111">800</text>
<text x="577.97" y="122.4" font-size="12" text-anchor="middle" fill="#111">1,000</text>
<text x="608.7" y="122.4" font-size="12" text-anchor="middle" fill="#111">1,200</text>
<text x="519.5" y="140.6" font-size="11.5" text-anchor="middle" fill="#111">Specific capacity (mAh g<tspan dy="-5" font-size="8.5">−1</tspan><tspan dy="8" font-size="8.5">electrode</tspan><tspan dy="-3">)</tspan></text>
<text x="389.6" y="68.5" font-size="10.9" text-anchor="middle" fill="#111" transform="rotate(-90 389.6 68.5)">Voltage</text>
<text transform="translate(401 68.5) rotate(-90)" font-size="11.2" text-anchor="middle" fill="#111">(|&#8201;V&#8201;|&#160; Vs Li/Li<tspan dy="-4.5" font-size="8">+</tspan><tspan dy="4.5">)</tspan></text>
<path d="M436.8 28.6 C436.88 31.83 437.07 41.78 437.3 48 C437.53 54.22 437.83 60.63 438.2 65.9 C438.57 71.17 438.82 76.42 439.5 79.6 C440.18 82.78 440.93 83.42 442.3 85 C443.67 86.58 445.2 87.73 447.7 89.1 C450.2 90.47 453.43 91.95 457.3 93.2 C461.17 94.45 465.22 95.57 470.9 96.6 C476.58 97.63 484.57 98.48 491.4 99.4 C498.23 100.32 502.97 101.2 511.9 102.1 C520.83 103 536.98 104.17 545 104.8 C553.02 105.43 554.57 105.48 560 105.9 C565.43 106.32 574.67 107.07 577.6 107.3" stroke="#2a2a2a" stroke-width="1.3" fill="none"/>
<path d="M437.8 107.2 C438.13 106.67 438.78 104.93 439.8 104 C440.82 103.07 442.08 102.82 443.9 101.6 C445.72 100.38 448.47 98.1 450.7 96.7 C452.93 95.3 453.93 94.47 457.3 93.2 C460.67 91.93 466.35 90.8 470.9 89.1 C475.45 87.4 480.05 85.5 484.6 83 C489.15 80.5 493.65 77.63 498.2 74.1 C502.75 70.57 507.35 66.8 511.9 61.8 C516.45 56.8 521.53 49.67 525.5 44.1 C529.47 38.53 534 31.02 535.7 28.4" stroke="#2a2a2a" stroke-width="1.3" fill="none"/>
<path d="M436.8 36 C436.93 38 437.15 44.15 437.6 48 C438.05 51.85 438.5 54.98 439.5 59.1 C440.5 63.22 441.77 68.6 443.6 72.7 C445.43 76.8 448.22 80.73 450.5 83.7 C452.78 86.67 455.03 88.68 457.3 90.5 C459.57 92.32 460.7 93.15 464.1 94.6 C467.5 96.05 473.15 97.9 477.7 99.2 C482.25 100.5 486.85 101.47 491.4 102.4 C495.95 103.33 500.45 104.17 505 104.8 C509.55 105.43 513.47 105.78 518.7 106.2 C523.93 106.62 533.45 107.12 536.4 107.3" stroke="#d8303a" stroke-width="1.3" fill="none"/>
<path d="M437.5 107.2 C437.83 106.67 438.48 104.97 439.5 104 C440.52 103.03 441.77 102.68 443.6 101.4 C445.43 100.12 448.22 97.78 450.5 96.3 C452.78 94.82 453.9 93.95 457.3 92.5 C460.7 91.05 466.35 89.53 470.9 87.6 C475.45 85.67 480.05 83.6 484.6 80.9 C489.15 78.2 493.65 75.03 498.2 71.4 C502.75 67.77 507.8 63.42 511.9 59.1 C516 54.78 519.62 50.62 522.8 45.5 C525.98 40.38 529.63 31.25 531 28.4" stroke="#d8303a" stroke-width="1.3" fill="none"/>
<path d="M436.8 36 C436.93 38 437.15 44.15 437.6 48 C438.05 51.85 438.5 54.98 439.5 59.1 C440.5 63.22 441.77 68.6 443.6 72.7 C445.43 76.8 448.22 80.7 450.5 83.7 C452.78 86.7 455.03 88.82 457.3 90.7 C459.57 92.58 461.83 93.78 464.1 95 C466.37 96.22 467.48 96.82 470.9 98 C474.32 99.18 480.05 100.88 484.6 102.1 C489.15 103.32 493.65 104.45 498.2 105.3 C502.75 106.15 509.62 106.88 511.9 107.2" stroke="#3b3bc8" stroke-width="1.3" fill="none"/>
<path d="M437.5 107.2 C437.83 106.67 438.48 105 439.5 104 C440.52 103 441.77 102.53 443.6 101.2 C445.43 99.87 448.22 97.57 450.5 96 C452.78 94.43 454.8 93.2 457.3 91.8 C459.8 90.4 462.55 89.18 465.5 87.6 C468.45 86.02 471.82 84.32 475 82.3 C478.18 80.28 481.42 78.23 484.6 75.5 C487.78 72.77 490.92 69.32 494.1 65.9 C497.28 62.48 500.97 58.63 503.7 55 C506.43 51.37 508.35 48.53 510.5 44.1 C512.65 39.67 515.58 31.02 516.6 28.4" stroke="#3b3bc8" stroke-width="1.3" fill="none"/>
<text x="477.5" y="59.5" font-size="10.2" text-anchor="middle" fill="#111" transform="rotate(-49 477.5 59.5)">Delithiation</text>
<path d="M473.3 72 L489.5 52.7" stroke="#111" stroke-width="1.3"/><path d="M492.7 48.9 L486.6 52.3 L490.6 55.6z" fill="#111"/>
<text x="536.5" y="92.3" font-size="9.9" text-anchor="middle" fill="#111" transform="rotate(4 536.5 92.3)">Lithiation</text>
<path d="M520 95.6 L543 98" stroke="#111" stroke-width="1.3"/><path d="M547.5 98.5 L542 96 L541.6 100.2z" fill="#111"/>
<text x="553.6" y="46.3" font-size="9.6" fill="#111">1<tspan dy="-4" font-size="6.7">st</tspan><tspan dy="4"> cycle</tspan></text>
<text x="553.6" y="58.3" font-size="9.6" fill="#d8303a">2<tspan dy="-4" font-size="6.7">nd</tspan><tspan dy="4"> cycle</tspan></text>
<text x="553.6" y="70.3" font-size="9.6" fill="#3b3bc8">1,010<tspan dy="-4" font-size="6.7">th</tspan><tspan dy="4"> cycle</tspan></text>
<text x="380.3" y="16.8" font-size="20" text-anchor="start" fill="#111" font-weight="bold">c</text>
<line x1="722.7" y1="25.8" x2="722.7" y2="107.5" stroke="#555" stroke-width="1"/>
<line x1="722.7" y1="107.5" x2="895.8" y2="107.5" stroke="#555" stroke-width="1"/>
<line x1="729.6" y1="107.5" x2="729.6" y2="105.1" stroke="#555" stroke-width="0.9"/>
<line x1="746.2" y1="107.5" x2="746.2" y2="106.1" stroke="#555" stroke-width="0.9"/>
<line x1="762.8" y1="107.5" x2="762.8" y2="105.1" stroke="#555" stroke-width="0.9"/>
<line x1="779.4" y1="107.5" x2="779.4" y2="106.1" stroke="#555" stroke-width="0.9"/>
<line x1="796" y1="107.5" x2="796" y2="105.1" stroke="#555" stroke-width="0.9"/>
<line x1="812.6" y1="107.5" x2="812.6" y2="106.1" stroke="#555" stroke-width="0.9"/>
<line x1="829.2" y1="107.5" x2="829.2" y2="105.1" stroke="#555" stroke-width="0.9"/>
<line x1="845.8" y1="107.5" x2="845.8" y2="106.1" stroke="#555" stroke-width="0.9"/>
<line x1="862.4" y1="107.5" x2="862.4" y2="105.1" stroke="#555" stroke-width="0.9"/>
<line x1="879" y1="107.5" x2="879" y2="106.1" stroke="#555" stroke-width="0.9"/>
<line x1="895.6" y1="107.5" x2="895.6" y2="105.1" stroke="#555" stroke-width="0.9"/>
<line x1="722.7" y1="100.4" x2="725.1" y2="100.4" stroke="#555" stroke-width="0.9"/>
<line x1="722.7" y1="93.6" x2="724.1" y2="93.6" stroke="#555" stroke-width="0.9"/>
<line x1="722.7" y1="86.8" x2="725.1" y2="86.8" stroke="#555" stroke-width="0.9"/>
<line x1="722.7" y1="80" x2="724.1" y2="80" stroke="#555" stroke-width="0.9"/>
<line x1="722.7" y1="73.2" x2="725.1" y2="73.2" stroke="#555" stroke-width="0.9"/>
<line x1="722.7" y1="66.4" x2="724.1" y2="66.4" stroke="#555" stroke-width="0.9"/>
<line x1="722.7" y1="59.6" x2="725.1" y2="59.6" stroke="#555" stroke-width="0.9"/>
<line x1="722.7" y1="52.8" x2="724.1" y2="52.8" stroke="#555" stroke-width="0.9"/>
<line x1="722.7" y1="46" x2="725.1" y2="46" stroke="#555" stroke-width="0.9"/>
<line x1="722.7" y1="39.2" x2="724.1" y2="39.2" stroke="#555" stroke-width="0.9"/>
<line x1="722.7" y1="32.4" x2="725.1" y2="32.4" stroke="#555" stroke-width="0.9"/>
<text x="717" y="36.6" font-size="11.6" text-anchor="end" fill="#111">500</text>
<text x="717" y="50.2" font-size="11.6" text-anchor="end" fill="#111">0</text>
<text x="717" y="63.8" font-size="11.6" text-anchor="end" fill="#111">−500</text>
<text x="717" y="77.4" font-size="11.6" text-anchor="end" fill="#111">−1,000</text>
<text x="717" y="91" font-size="11.6" text-anchor="end" fill="#111">−1,500</text>
<text x="717" y="104.6" font-size="11.6" text-anchor="end" fill="#111">−2,000</text>
<text x="729.6" y="123.4" font-size="12.8" text-anchor="middle" fill="#111">0.0</text>
<text x="762.8" y="123.4" font-size="12.8" text-anchor="middle" fill="#111">0.5</text>
<text x="796" y="123.4" font-size="12.8" text-anchor="middle" fill="#111">1.0</text>
<text x="829.2" y="123.4" font-size="12.8" text-anchor="middle" fill="#111">1.5</text>
<text x="862.4" y="123.4" font-size="12.8" text-anchor="middle" fill="#111">2.0</text>
<text x="895.6" y="123.4" font-size="12.8" text-anchor="middle" fill="#111">2.5</text>
<text x="808.6" y="141.6" font-size="11.4" text-anchor="middle" fill="#111">Voltage (|&#8201;V&#8201;|&#160; Vs Li/Li<tspan dy="-4.5" font-size="8">+</tspan><tspan dy="4.5">)</tspan></text>
<text x="655.4" y="64.8" font-size="13.5" text-anchor="middle" fill="#111" transform="rotate(-90 655.4 64.8)">dQ/dV</text>
<text transform="translate(671 67) rotate(-90)" font-size="13.4" text-anchor="middle" fill="#111">(mAh g<tspan dy="-5" font-size="8.5">−1</tspan><tspan dy="5"> V</tspan><tspan dy="-5" font-size="8.5">−1</tspan><tspan dy="5">)</tspan></text>
<path d="M895.6 46 C890.07 45.64 873.47 44.5 862.4 43.82 C851.33 43.14 840.27 42.46 829.2 41.92 C818.13 41.38 805.96 40.85 796 40.56 C786.04 40.27 776.08 40.11 769.44 40.15 C762.8 40.2 760.59 40.49 756.16 40.83 C751.73 41.17 746.31 41.74 742.88 42.19 C739.45 42.65 737.07 42.01 735.58 43.55 C734.08 45.09 734.36 47.86 733.92 51.44 C733.47 55.02 733.2 61.87 732.92 65.04 C732.64 68.21 732.15 68.44 732.26 70.48 C732.37 72.52 732.92 77.28 733.58 77.28 C734.25 77.28 734.69 72.43 736.24 70.48 C737.79 68.53 741 66.04 742.88 65.58 C744.76 65.13 746.09 65.22 747.53 67.76 C748.97 70.3 750.29 81.27 751.51 80.82 C752.73 80.36 753.73 69.48 754.83 65.04 C755.94 60.6 755.72 56.56 758.15 54.16 C760.59 51.76 763.13 51.71 769.44 50.62 C775.75 49.54 786.04 48.29 796 47.63 C805.96 46.97 818.13 46.92 829.2 46.68 C840.27 46.44 851.33 46.33 862.4 46.22 C873.47 46.1 890.07 46.04 895.6 46" stroke="#2a2a2a" stroke-width="1.3" fill="none" stroke-linejoin="round"/>
<path d="M895.6 46 C890.07 45.5 873.47 43.87 862.4 43.01 C851.33 42.15 840.27 41.56 829.2 40.83 C818.13 40.11 805.96 39.47 796 38.66 C786.04 37.84 776.08 36.34 769.44 35.94 C762.8 35.53 760.59 35.85 756.16 36.21 C751.73 36.57 746.42 37.25 742.88 38.11 C739.34 38.97 736.57 40.51 734.91 41.38 C733.25 42.24 733.47 41.15 732.92 43.28 C732.37 45.41 731.92 50.99 731.59 54.16 C731.26 57.33 730.93 59.15 730.93 62.32 C730.93 65.49 731.2 69.35 731.59 73.2 C731.98 77.05 732.48 84.99 733.25 85.44 C734.03 85.89 734.64 79.05 736.24 75.92 C737.84 72.79 740.11 69.35 742.88 66.67 C745.65 64 749.52 61.64 752.84 59.87 C756.16 58.1 757.82 57.36 762.8 56.06 C767.78 54.77 774.97 53.23 782.72 52.12 C790.47 51.01 798.21 50.2 809.28 49.4 C820.35 48.6 834.73 47.87 849.12 47.31 C863.51 46.74 887.85 46.22 895.6 46" stroke="#d8303a" stroke-width="1.3" fill="none" stroke-linejoin="round"/>
<path d="M895.6 46 C890.07 45.46 873.47 43.64 862.4 42.74 C851.33 41.83 840.27 41.29 829.2 40.56 C818.13 39.83 805.96 39.2 796 38.38 C786.04 37.57 776.08 36.07 769.44 35.66 C762.8 35.26 760.59 35.57 756.16 35.94 C751.73 36.3 746.42 36.98 742.88 37.84 C739.34 38.7 736.57 40.29 734.91 41.1 C733.25 41.92 733.47 40.56 732.92 42.74 C732.37 44.91 731.92 50.9 731.59 54.16 C731.26 57.42 730.93 59.15 730.93 62.32 C730.93 65.49 731.15 67.99 731.59 73.2 C732.03 78.41 732.81 92.69 733.58 93.6 C734.36 94.51 734.69 83.04 736.24 78.64 C737.79 74.24 740.11 70.3 742.88 67.22 C745.65 64.13 749.52 61.96 752.84 60.14 C756.16 58.33 757.82 57.65 762.8 56.34 C767.78 55.02 774.97 53.39 782.72 52.26 C790.47 51.12 798.21 50.35 809.28 49.54 C820.35 48.72 834.73 47.95 849.12 47.36 C863.51 46.77 887.85 46.23 895.6 46" stroke="#3b3bc8" stroke-width="1.3" fill="none" stroke-linejoin="round"/>
<text x="730.6" y="35" font-size="9.8" text-anchor="start" fill="#111">0.12</text>
<text x="756.4" y="31.4" font-size="9.8" text-anchor="start" fill="#111">0.5</text>
<text x="746.6" y="90.4" font-size="9.8" text-anchor="start" fill="#111">0.3</text>
<text x="731.5" y="103.3" font-size="9.8" text-anchor="start" fill="#111">0.05</text>
<text x="836.2" y="32.8" font-size="9.7" text-anchor="start" fill="#111">Delithiation</text>
<path d="M841.4 36.6 L866 36.6" stroke="#111" stroke-width="1.3"/><path d="M871 36.6 L865 34.3 L865 38.9z" fill="#111"/>
<text x="838.6" y="62.4" font-size="9.7" text-anchor="start" fill="#111">Lithiation</text>
<path d="M870.6 50.3 L848 50.3" stroke="#111" stroke-width="1.3"/><path d="M843.2 50.3 L849.2 48 L849.2 52.6z" fill="#111"/>
<text x="792" y="62.7" font-size="9.6" fill="#111">1<tspan dy="-4" font-size="6.7">st</tspan><tspan dy="4"> cycle</tspan></text>
<text x="792" y="74.7" font-size="9.6" fill="#d8303a">2<tspan dy="-4" font-size="6.7">nd</tspan><tspan dy="4"> cycle</tspan></text>
<text x="792" y="86.3" font-size="9.6" fill="#3b3bc8">1,010<tspan dy="-4" font-size="6.7">th</tspan><tspan dy="4"> cycle</tspan></text>
<text x="644.3" y="16.9" font-size="20" text-anchor="start" fill="#111" font-weight="bold">d</text>
<rect x="68.5" y="500.7" width="226.9" height="83.8" fill="none" stroke="#444" stroke-width="1"/>
<line x1="74.98" y1="584.5" x2="74.98" y2="583.1" stroke="#444" stroke-width="0.9"/>
<line x1="74.98" y1="500.7" x2="74.98" y2="502.1" stroke="#444" stroke-width="0.9"/>
<line x1="81.47" y1="584.5" x2="81.47" y2="583.1" stroke="#444" stroke-width="0.9"/>
<line x1="81.47" y1="500.7" x2="81.47" y2="502.1" stroke="#444" stroke-width="0.9"/>
<line x1="87.95" y1="584.5" x2="87.95" y2="583.1" stroke="#444" stroke-width="0.9"/>
<line x1="87.95" y1="500.7" x2="87.95" y2="502.1" stroke="#444" stroke-width="0.9"/>
<line x1="94.43" y1="584.5" x2="94.43" y2="583.1" stroke="#444" stroke-width="0.9"/>
<line x1="94.43" y1="500.7" x2="94.43" y2="502.1" stroke="#444" stroke-width="0.9"/>
<line x1="100.91" y1="584.5" x2="100.91" y2="582.3" stroke="#444" stroke-width="0.9"/>
<line x1="100.91" y1="500.7" x2="100.91" y2="502.9" stroke="#444" stroke-width="0.9"/>
<line x1="107.4" y1="584.5" x2="107.4" y2="583.1" stroke="#444" stroke-width="0.9"/>
<line x1="107.4" y1="500.7" x2="107.4" y2="502.1" stroke="#444" stroke-width="0.9"/>
<line x1="113.88" y1="584.5" x2="113.88" y2="583.1" stroke="#444" stroke-width="0.9"/>
<line x1="113.88" y1="500.7" x2="113.88" y2="502.1" stroke="#444" stroke-width="0.9"/>
<line x1="120.36" y1="584.5" x2="120.36" y2="583.1" stroke="#444" stroke-width="0.9"/>
<line x1="120.36" y1="500.7" x2="120.36" y2="502.1" stroke="#444" stroke-width="0.9"/>
<line x1="126.85" y1="584.5" x2="126.85" y2="583.1" stroke="#444" stroke-width="0.9"/>
<line x1="126.85" y1="500.7" x2="126.85" y2="502.1" stroke="#444" stroke-width="0.9"/>
<line x1="133.33" y1="584.5" x2="133.33" y2="582.3" stroke="#444" stroke-width="0.9"/>
<line x1="133.33" y1="500.7" x2="133.33" y2="502.9" stroke="#444" stroke-width="0.9"/>
<line x1="139.81" y1="584.5" x2="139.81" y2="583.1" stroke="#444" stroke-width="0.9"/>
<line x1="139.81" y1="500.7" x2="139.81" y2="502.1" stroke="#444" stroke-width="0.9"/>
<line x1="146.29" y1="584.5" x2="146.29" y2="583.1" stroke="#444" stroke-width="0.9"/>
<line x1="146.29" y1="500.7" x2="146.29" y2="502.1" stroke="#444" stroke-width="0.9"/>
<line x1="152.78" y1="584.5" x2="152.78" y2="583.1" stroke="#444" stroke-width="0.9"/>
<line x1="152.78" y1="500.7" x2="152.78" y2="502.1" stroke="#444" stroke-width="0.9"/>
<line x1="159.26" y1="584.5" x2="159.26" y2="583.1" stroke="#444" stroke-width="0.9"/>
<line x1="159.26" y1="500.7" x2="159.26" y2="502.1" stroke="#444" stroke-width="0.9"/>
<line x1="165.74" y1="584.5" x2="165.74" y2="582.3" stroke="#444" stroke-width="0.9"/>
<line x1="165.74" y1="500.7" x2="165.74" y2="502.9" stroke="#444" stroke-width="0.9"/>
<line x1="172.23" y1="584.5" x2="172.23" y2="583.1" stroke="#444" stroke-width="0.9"/>
<line x1="172.23" y1="500.7" x2="172.23" y2="502.1" stroke="#444" stroke-width="0.9"/>
<line x1="178.71" y1="584.5" x2="178.71" y2="583.1" stroke="#444" stroke-width="0.9"/>
<line x1="178.71" y1="500.7" x2="178.71" y2="502.1" stroke="#444" stroke-width="0.9"/>
<line x1="185.19" y1="584.5" x2="185.19" y2="583.1" stroke="#444" stroke-width="0.9"/>
<line x1="185.19" y1="500.7" x2="185.19" y2="502.1" stroke="#444" stroke-width="0.9"/>
<line x1="191.67" y1="584.5" x2="191.67" y2="583.1" stroke="#444" stroke-width="0.9"/>
<line x1="191.67" y1="500.7" x2="191.67" y2="502.1" stroke="#444" stroke-width="0.9"/>
<line x1="198.16" y1="584.5" x2="198.16" y2="582.3" stroke="#444" stroke-width="0.9"/>
<line x1="198.16" y1="500.7" x2="198.16" y2="502.9" stroke="#444" stroke-width="0.9"/>
<line x1="204.64" y1="584.5" x2="204.64" y2="583.1" stroke="#444" stroke-width="0.9"/>
<line x1="204.64" y1="500.7" x2="204.64" y2="502.1" stroke="#444" stroke-width="0.9"/>
<line x1="211.12" y1="584.5" x2="211.12" y2="583.1" stroke="#444" stroke-width="0.9"/>
<line x1="211.12" y1="500.7" x2="211.12" y2="502.1" stroke="#444" stroke-width="0.9"/>
<line x1="217.61" y1="584.5" x2="217.61" y2="583.1" stroke="#444" stroke-width="0.9"/>
<line x1="217.61" y1="500.7" x2="217.61" y2="502.1" stroke="#444" stroke-width="0.9"/>
<line x1="224.09" y1="584.5" x2="224.09" y2="583.1" stroke="#444" stroke-width="0.9"/>
<line x1="224.09" y1="500.7" x2="224.09" y2="502.1" stroke="#444" stroke-width="0.9"/>
<line x1="230.57" y1="584.5" x2="230.57" y2="582.3" stroke="#444" stroke-width="0.9"/>
<line x1="230.57" y1="500.7" x2="230.57" y2="502.9" stroke="#444" stroke-width="0.9"/>
<line x1="237.05" y1="584.5" x2="237.05" y2="583.1" stroke="#444" stroke-width="0.9"/>
<line x1="237.05" y1="500.7" x2="237.05" y2="502.1" stroke="#444" stroke-width="0.9"/>
<line x1="243.54" y1="584.5" x2="243.54" y2="583.1" stroke="#444" stroke-width="0.9"/>
<line x1="243.54" y1="500.7" x2="243.54" y2="502.1" stroke="#444" stroke-width="0.9"/>
<line x1="250.02" y1="584.5" x2="250.02" y2="583.1" stroke="#444" stroke-width="0.9"/>
<line x1="250.02" y1="500.7" x2="250.02" y2="502.1" stroke="#444" stroke-width="0.9"/>
<line x1="256.5" y1="584.5" x2="256.5" y2="583.1" stroke="#444" stroke-width="0.9"/>
<line x1="256.5" y1="500.7" x2="256.5" y2="502.1" stroke="#444" stroke-width="0.9"/>
<line x1="262.99" y1="584.5" x2="262.99" y2="582.3" stroke="#444" stroke-width="0.9"/>
<line x1="262.99" y1="500.7" x2="262.99" y2="502.9" stroke="#444" stroke-width="0.9"/>
<line x1="269.47" y1="584.5" x2="269.47" y2="583.1" stroke="#444" stroke-width="0.9"/>
<line x1="269.47" y1="500.7" x2="269.47" y2="502.1" stroke="#444" stroke-width="0.9"/>
<line x1="275.95" y1="584.5" x2="275.95" y2="583.1" stroke="#444" stroke-width="0.9"/>
<line x1="275.95" y1="500.7" x2="275.95" y2="502.1" stroke="#444" stroke-width="0.9"/>
<line x1="282.43" y1="584.5" x2="282.43" y2="583.1" stroke="#444" stroke-width="0.9"/>
<line x1="282.43" y1="500.7" x2="282.43" y2="502.1" stroke="#444" stroke-width="0.9"/>
<line x1="288.92" y1="584.5" x2="288.92" y2="583.1" stroke="#444" stroke-width="0.9"/>
<line x1="288.92" y1="500.7" x2="288.92" y2="502.1" stroke="#444" stroke-width="0.9"/>
<line x1="68.5" y1="574.02" x2="69.9" y2="574.02" stroke="#444" stroke-width="0.9"/>
<line x1="68.5" y1="563.55" x2="70.7" y2="563.55" stroke="#444" stroke-width="0.9"/>
<line x1="68.5" y1="553.08" x2="69.9" y2="553.08" stroke="#444" stroke-width="0.9"/>
<line x1="68.5" y1="542.6" x2="70.7" y2="542.6" stroke="#444" stroke-width="0.9"/>
<line x1="68.5" y1="532.12" x2="69.9" y2="532.12" stroke="#444" stroke-width="0.9"/>
<line x1="68.5" y1="521.65" x2="70.7" y2="521.65" stroke="#444" stroke-width="0.9"/>
<line x1="68.5" y1="511.18" x2="69.9" y2="511.18" stroke="#444" stroke-width="0.9"/>
<line x1="295.4" y1="573.45" x2="294" y2="573.45" stroke="#444" stroke-width="0.9"/>
<line x1="295.4" y1="562.41" x2="293.2" y2="562.41" stroke="#444" stroke-width="0.9"/>
<line x1="295.4" y1="551.36" x2="294" y2="551.36" stroke="#444" stroke-width="0.9"/>
<line x1="295.4" y1="540.32" x2="293.2" y2="540.32" stroke="#444" stroke-width="0.9"/>
<line x1="295.4" y1="529.27" x2="294" y2="529.27" stroke="#444" stroke-width="0.9"/>
<line x1="295.4" y1="518.22" x2="293.2" y2="518.22" stroke="#444" stroke-width="0.9"/>
<text x="62.5" y="589" font-size="12.7" text-anchor="end" fill="#111">0</text>
<text x="62.5" y="568.05" font-size="12.7" text-anchor="end" fill="#111">200</text>
<text x="62.5" y="547.1" font-size="12.7" text-anchor="end" fill="#111">400</text>
<text x="62.5" y="526.15" font-size="12.7" text-anchor="end" fill="#111">600</text>
<text x="62.5" y="505.2" font-size="12.7" text-anchor="end" fill="#111">800</text>
<text x="300.5" y="589" font-size="12.7" text-anchor="start" fill="#111">0.0</text>
<text x="300.5" y="566.8" font-size="12.7" text-anchor="start" fill="#111">0.2</text>
<text x="300.5" y="544.6" font-size="12.7" text-anchor="start" fill="#111">0.4</text>
<text x="300.5" y="522.4" font-size="12.7" text-anchor="start" fill="#111">0.6</text>
<text x="68.5" y="599.5" font-size="12.7" text-anchor="middle" fill="#111">0</text>
<text x="100.91" y="599.5" font-size="12.7" text-anchor="middle" fill="#111">10</text>
<text x="133.33" y="599.5" font-size="12.7" text-anchor="middle" fill="#111">20</text>
<text x="165.74" y="599.5" font-size="12.7" text-anchor="middle" fill="#111">30</text>
<text x="198.16" y="599.5" font-size="12.7" text-anchor="middle" fill="#111">40</text>
<text x="230.57" y="599.5" font-size="12.7" text-anchor="middle" fill="#111">50</text>
<text x="262.99" y="599.5" font-size="12.7" text-anchor="middle" fill="#111">60</text>
<text x="295.4" y="599.5" font-size="12.7" text-anchor="middle" fill="#111">70</text>
<text x="181.5" y="620.3" font-size="13.6" text-anchor="middle" fill="#111">Number of cycles</text>
<text transform="translate(13.8 556.5) rotate(-90)" font-size="13.4" text-anchor="middle" fill="#111">Charge capacity</text>
<text transform="translate(32.5 556.5) rotate(-90)" font-size="13.4" text-anchor="middle" fill="#111">(mAh g<tspan dy="-7.5" dx="1" font-size="9">−1</tspan><tspan dy="8.5" dx="-4" font-size="9.6">electrode</tspan><tspan dy="-1">)</tspan></text>
<text transform="translate(337.5 542.3) rotate(-90)" font-size="13.4" text-anchor="middle" fill="#111">Charge capacity</text>
<text transform="translate(354.3 542.3) rotate(-90)" font-size="13.4" text-anchor="middle" fill="#111">(mAh cm<tspan dy="-6" font-size="9">−2</tspan><tspan dy="6">)</tspan></text>
<line x1="101.41" y1="500.7" x2="101.41" y2="584.5" stroke="#888" stroke-width="0.8" stroke-dasharray="1 1.5"/>
<line x1="263.49" y1="500.7" x2="263.49" y2="584.5" stroke="#888" stroke-width="0.8" stroke-dasharray="1 1.5"/>
<rect x="68.24" y="510.22" width="4" height="4" stroke="#e2a254" stroke-width="0.9" fill="none"/>
<rect x="71.48" y="514.41" width="4" height="4" stroke="#e2a254" stroke-width="0.9" fill="none"/>
<rect x="74.72" y="517.03" width="4" height="4" stroke="#e2a254" stroke-width="0.9" fill="none"/>
<rect x="77.97" y="518.39" width="4" height="4" stroke="#e2a254" stroke-width="0.9" fill="none"/>
<rect x="81.21" y="519.13" width="4" height="4" stroke="#e2a254" stroke-width="0.9" fill="none"/>
<rect x="84.45" y="519.65" width="4" height="4" stroke="#e2a254" stroke-width="0.9" fill="none"/>
<rect x="87.69" y="519.65" width="4" height="4" stroke="#e2a254" stroke-width="0.9" fill="none"/>
<rect x="90.93" y="519.65" width="4" height="4" stroke="#e2a254" stroke-width="0.9" fill="none"/>
<rect x="94.17" y="519.65" width="4" height="4" stroke="#e2a254" stroke-width="0.9" fill="none"/>
<rect x="97.41" y="519.65" width="4" height="4" stroke="#e2a254" stroke-width="0.9" fill="none"/>
<rect x="100.66" y="572.02" width="4" height="4" stroke="#e2a254" stroke-width="0.9" fill="none"/>
<rect x="103.9" y="568.88" width="4" height="4" stroke="#e2a254" stroke-width="0.9" fill="none"/>
<rect x="107.14" y="566.58" width="4" height="4" stroke="#e2a254" stroke-width="0.9" fill="none"/>
<rect x="110.38" y="564.48" width="4" height="4" stroke="#e2a254" stroke-width="0.9" fill="none"/>
<rect x="113.62" y="562.81" width="4" height="4" stroke="#e2a254" stroke-width="0.9" fill="none"/>
<rect x="116.86" y="561.55" width="4" height="4" stroke="#e2a254" stroke-width="0.9" fill="none"/>
<rect x="120.1" y="560.5" width="4" height="4" stroke="#e2a254" stroke-width="0.9" fill="none"/>
<rect x="123.35" y="559.66" width="4" height="4" stroke="#e2a254" stroke-width="0.9" fill="none"/>
<rect x="126.59" y="559.04" width="4" height="4" stroke="#e2a254" stroke-width="0.9" fill="none"/>
<rect x="129.83" y="558.72" width="4" height="4" stroke="#e2a254" stroke-width="0.9" fill="none"/>
<rect x="133.07" y="558.72" width="4" height="4" stroke="#e2a254" stroke-width="0.9" fill="none"/>
<rect x="136.31" y="559.04" width="4" height="4" stroke="#e2a254" stroke-width="0.9" fill="none"/>
<rect x="139.55" y="559.98" width="4" height="4" stroke="#e2a254" stroke-width="0.9" fill="none"/>
<rect x="142.79" y="561.03" width="4" height="4" stroke="#e2a254" stroke-width="0.9" fill="none"/>
<rect x="146.04" y="562.6" width="4" height="4" stroke="#e2a254" stroke-width="0.9" fill="none"/>
<rect x="149.28" y="564.06" width="4" height="4" stroke="#e2a254" stroke-width="0.9" fill="none"/>
<rect x="152.52" y="565.22" width="4" height="4" stroke="#e2a254" stroke-width="0.9" fill="none"/>
<rect x="155.76" y="566.05" width="4" height="4" stroke="#e2a254" stroke-width="0.9" fill="none"/>
<rect x="159" y="566.37" width="4" height="4" stroke="#e2a254" stroke-width="0.9" fill="none"/>
<rect x="162.24" y="566.47" width="4" height="4" stroke="#e2a254" stroke-width="0.9" fill="none"/>
<rect x="165.48" y="566.4" width="4" height="4" stroke="#e2a254" stroke-width="0.9" fill="none"/>
<rect x="168.73" y="566.33" width="4" height="4" stroke="#e2a254" stroke-width="0.9" fill="none"/>
<rect x="171.97" y="566.26" width="4" height="4" stroke="#e2a254" stroke-width="0.9" fill="none"/>
<rect x="175.21" y="565.98" width="4" height="4" stroke="#e2a254" stroke-width="0.9" fill="none"/>
<rect x="178.45" y="565.71" width="4" height="4" stroke="#e2a254" stroke-width="0.9" fill="none"/>
<rect x="181.69" y="565.43" width="4" height="4" stroke="#e2a254" stroke-width="0.9" fill="none"/>
<rect x="184.93" y="565.24" width="4" height="4" stroke="#e2a254" stroke-width="0.9" fill="none"/>
<rect x="188.17" y="565.06" width="4" height="4" stroke="#e2a254" stroke-width="0.9" fill="none"/>
<rect x="191.42" y="564.88" width="4" height="4" stroke="#e2a254" stroke-width="0.9" fill="none"/>
<rect x="194.66" y="564.69" width="4" height="4" stroke="#e2a254" stroke-width="0.9" fill="none"/>
<rect x="197.9" y="564.57" width="4" height="4" stroke="#e2a254" stroke-width="0.9" fill="none"/>
<rect x="201.14" y="564.44" width="4" height="4" stroke="#e2a254" stroke-width="0.9" fill="none"/>
<rect x="204.38" y="564.32" width="4" height="4" stroke="#e2a254" stroke-width="0.9" fill="none"/>
<rect x="207.62" y="564.19" width="4" height="4" stroke="#e2a254" stroke-width="0.9" fill="none"/>
<rect x="210.86" y="564.06" width="4" height="4" stroke="#e2a254" stroke-width="0.9" fill="none"/>
<rect x="214.11" y="564.02" width="4" height="4" stroke="#e2a254" stroke-width="0.9" fill="none"/>
<rect x="217.35" y="563.98" width="4" height="4" stroke="#e2a254" stroke-width="0.9" fill="none"/>
<rect x="220.59" y="563.94" width="4" height="4" stroke="#e2a254" stroke-width="0.9" fill="none"/>
<rect x="223.83" y="563.9" width="4" height="4" stroke="#e2a254" stroke-width="0.9" fill="none"/>
<rect x="227.07" y="563.85" width="4" height="4" stroke="#e2a254" stroke-width="0.9" fill="none"/>
<rect x="230.31" y="563.83" width="4" height="4" stroke="#e2a254" stroke-width="0.9" fill="none"/>
<rect x="233.55" y="563.81" width="4" height="4" stroke="#e2a254" stroke-width="0.9" fill="none"/>
<rect x="236.8" y="563.79" width="4" height="4" stroke="#e2a254" stroke-width="0.9" fill="none"/>
<rect x="240.04" y="563.77" width="4" height="4" stroke="#e2a254" stroke-width="0.9" fill="none"/>
<rect x="243.28" y="563.75" width="4" height="4" stroke="#e2a254" stroke-width="0.9" fill="none"/>
<rect x="246.52" y="563.73" width="4" height="4" stroke="#e2a254" stroke-width="0.9" fill="none"/>
<rect x="249.76" y="563.71" width="4" height="4" stroke="#e2a254" stroke-width="0.9" fill="none"/>
<rect x="253" y="563.69" width="4" height="4" stroke="#e2a254" stroke-width="0.9" fill="none"/>
<rect x="256.24" y="563.67" width="4" height="4" stroke="#e2a254" stroke-width="0.9" fill="none"/>
<rect x="259.49" y="563.64" width="4" height="4" stroke="#e2a254" stroke-width="0.9" fill="none"/>
<rect x="262.73" y="532.22" width="4" height="4" stroke="#e2a254" stroke-width="0.9" fill="none"/>
<rect x="265.97" y="530.12" width="4" height="4" stroke="#e2a254" stroke-width="0.9" fill="none"/>
<rect x="269.21" y="529.08" width="4" height="4" stroke="#e2a254" stroke-width="0.9" fill="none"/>
<rect x="272.45" y="528.87" width="4" height="4" stroke="#e2a254" stroke-width="0.9" fill="none"/>
<rect x="275.69" y="528.9" width="4" height="4" stroke="#e2a254" stroke-width="0.9" fill="none"/>
<rect x="278.93" y="528.94" width="4" height="4" stroke="#e2a254" stroke-width="0.9" fill="none"/>
<rect x="282.18" y="528.97" width="4" height="4" stroke="#e2a254" stroke-width="0.9" fill="none"/>
<rect x="285.42" y="529.01" width="4" height="4" stroke="#e2a254" stroke-width="0.9" fill="none"/>
<rect x="288.66" y="529.04" width="4" height="4" stroke="#e2a254" stroke-width="0.9" fill="none"/>
<rect x="291.9" y="529.08" width="4" height="4" stroke="#e2a254" stroke-width="0.9" fill="none"/>
<text x="92.2" y="560.2" font-size="11.8" text-anchor="middle" fill="#111" transform="rotate(-49 92.2 560.2)">25 °C</text>
<text x="283.3" y="563.8" font-size="11.8" text-anchor="middle" fill="#111" transform="rotate(-49 283.3 563.8)">25 °C</text>
<text x="180.8" y="556.5" font-size="12.2" text-anchor="middle" fill="#111">−15 °C</text>
<text x="1.1" y="500.4" font-size="20" text-anchor="start" fill="#111" font-weight="bold">e</text>
<text x="380.7" y="183.5" font-size="20" text-anchor="start" fill="#111" font-weight="bold">f</text>
<polygon points="419,265 441,256 490,257 570,261 621,290.5 612,293.5 520,292.5 470,289 445,281" fill="url(#gr)"/>
<polygon points="409,233 433,223 480,224.5 560,229 609,260 600,264 480,255 435,248" fill="url(#gr)"/>
<polygon points="398,205 427,195 475,197 545,199.5 600,231 590,234.5 450,226 425,218" fill="url(#gr)"/>
<circle cx="430.6" cy="228.1" r="8.74" fill="url(#sg)"/>
<circle cx="452.2" cy="230.7" r="8.16" fill="url(#sg)"/>
<circle cx="473.7" cy="223" r="8.05" fill="url(#sgd)"/>
<circle cx="492.7" cy="232" r="8.74" fill="url(#sg)"/>
<circle cx="520.6" cy="238.3" r="7.24" fill="url(#sg)"/>
<circle cx="531.6" cy="244.6" r="10.23" fill="url(#sg)"/>
<circle cx="547.3" cy="243.3" r="8.74" fill="url(#sg)"/>
<circle cx="554.9" cy="226.9" r="8.16" fill="url(#sgd)"/>
<circle cx="584" cy="249.7" r="10.23" fill="url(#sg)"/>
<circle cx="442" cy="262.4" r="8.74" fill="url(#sg)"/>
<circle cx="464.8" cy="266.2" r="9.66" fill="url(#sg)"/>
<circle cx="487.7" cy="257.3" r="8.16" fill="url(#sgd)"/>
<circle cx="502.9" cy="262.4" r="8.74" fill="url(#sg)"/>
<circle cx="533.3" cy="270" r="8.74" fill="url(#sg)"/>
<circle cx="542.2" cy="277.6" r="9.66" fill="url(#sg)"/>
<circle cx="557.4" cy="275" r="9.66" fill="url(#sg)"/>
<circle cx="594.2" cy="280.1" r="9.66" fill="url(#sg)"/>
<circle cx="567.6" cy="261" r="8.05" fill="url(#sgd)"/>
<circle cx="473.7" cy="223" r="8.05" fill="url(#gr)" opacity="0.8"/>
<circle cx="554.9" cy="226.9" r="8.16" fill="url(#gr)" opacity="0.8"/>
<circle cx="487.7" cy="257.3" r="8.16" fill="url(#gr)" opacity="0.8"/>
<circle cx="567.6" cy="261" r="8.05" fill="url(#gr)" opacity="0.8"/>
<polygon points="727,265 749,256 798,257 878,261 929,290.5 920,293.5 828,292.5 778,289 753,281" fill="url(#gr)"/>
<polygon points="717,233 741,223 788,224.5 868,229 917,260 908,264 788,255 743,248" fill="url(#gr)"/>
<polygon points="706,205 735,195 783,197 853,199.5 908,231 898,234.5 758,226 733,218" fill="url(#gr)"/>
<circle cx="752.2" cy="216.5" r="8" fill="url(#mgd)"/><circle cx="752.2" cy="216.5" r="8" fill="url(#gr)" opacity="0.55"/>
<circle cx="782" cy="220.6" r="10.3" fill="url(#mgd)"/><circle cx="782" cy="220.6" r="10.3" fill="url(#gr)" opacity="0.55"/>
<circle cx="865.9" cy="220.6" r="9.5" fill="url(#mgd)"/><circle cx="865.9" cy="220.6" r="9.5" fill="url(#gr)" opacity="0.55"/>
<circle cx="883.5" cy="224.7" r="9.5" fill="url(#mgd)"/><circle cx="883.5" cy="224.7" r="9.5" fill="url(#gr)" opacity="0.55"/>
<circle cx="761.7" cy="253.1" r="8" fill="url(#mgd)"/><circle cx="761.7" cy="253.1" r="8" fill="url(#gr)" opacity="0.55"/>
<circle cx="794.2" cy="250.4" r="10.8" fill="url(#mgd)"/><circle cx="794.2" cy="250.4" r="10.8" fill="url(#gr)" opacity="0.55"/>
<circle cx="876.7" cy="258.5" r="10.3" fill="url(#mgd)"/><circle cx="876.7" cy="258.5" r="10.3" fill="url(#gr)" opacity="0.55"/>
<circle cx="736" cy="227.4" r="10.8" fill="url(#mg)"/><circle cx="736" cy="227.4" r="10.8" fill="url(#grm)"/>
<circle cx="756.3" cy="228.7" r="10.3" fill="url(#mg)"/><circle cx="756.3" cy="228.7" r="10.3" fill="url(#grm)"/>
<circle cx="798.3" cy="228.7" r="10.8" fill="url(#mg)"/><circle cx="798.3" cy="228.7" r="10.8" fill="url(#grm)"/>
<circle cx="832.1" cy="238.2" r="10.8" fill="url(#mg)"/><circle cx="832.1" cy="238.2" r="10.8" fill="url(#grm)"/>
<circle cx="838.8" cy="242.2" r="11.4" fill="url(#mg)"/><circle cx="838.8" cy="242.2" r="11.4" fill="url(#grm)"/>
<circle cx="855" cy="242.2" r="10.3" fill="url(#mg)"/><circle cx="855" cy="242.2" r="10.3" fill="url(#grm)"/>
<circle cx="891.6" cy="247.7" r="10.3" fill="url(#mg)"/><circle cx="891.6" cy="247.7" r="10.3" fill="url(#grm)"/>
<circle cx="746.8" cy="258.5" r="10.3" fill="url(#mg)"/><circle cx="746.8" cy="258.5" r="10.3" fill="url(#grm)"/>
<circle cx="769.8" cy="263.9" r="12.2" fill="url(#mg)"/><circle cx="769.8" cy="263.9" r="12.2" fill="url(#grm)"/>
<circle cx="809.1" cy="258.5" r="12.2" fill="url(#mg)"/><circle cx="809.1" cy="258.5" r="12.2" fill="url(#grm)"/>
<circle cx="842.9" cy="272" r="10.8" fill="url(#mg)"/><circle cx="842.9" cy="272" r="10.8" fill="url(#grm)"/>
<circle cx="851" cy="276.1" r="10.3" fill="url(#mg)"/><circle cx="851" cy="276.1" r="10.3" fill="url(#grm)"/>
<circle cx="865.9" cy="274.7" r="10.8" fill="url(#mg)"/><circle cx="865.9" cy="274.7" r="10.8" fill="url(#grm)"/>
<circle cx="902.4" cy="280.1" r="10.8" fill="url(#mg)"/><circle cx="902.4" cy="280.1" r="10.8" fill="url(#grm)"/>
<path d="M397 190 C400.67 189.33 412.33 186.83 419 186 C425.67 185.17 431 184.83 437 185 C443 185.17 448.67 186 455 187 C461.33 188 468.5 189.67 475 191 C481.5 192.33 487.83 193.83 494 195 C500.17 196.17 506 197.5 512 198 C518 198.5 524.5 198.83 530 198 C535.5 197.17 541 194.58 545 193 C549 191.42 552.5 189.25 554 188.5" stroke="#f49a48" stroke-width="6.6" fill="none" stroke-linecap="butt"/>
<polygon points="391,195.5 392.13,184.69 401.87,195.31" fill="#f49a48"/>
<polygon points="562,184 557.53,194.78 550.47,182.22" fill="#f49a48"/>
<circle cx="419.1" cy="186.1" r="7.3" fill="#fffaf2" stroke="#f2a866" stroke-width="1"/>
<text x="419.4" y="188.3" font-size="6.4" fill="#e88a40" text-anchor="middle">−e</text>
<circle cx="456.3" cy="187.7" r="7.3" fill="#fffaf2" stroke="#f2a866" stroke-width="1"/>
<text x="456.6" y="189.9" font-size="6.4" fill="#e88a40" text-anchor="middle">−e</text>
<circle cx="493.5" cy="194.5" r="7.3" fill="#fffaf2" stroke="#f2a866" stroke-width="1"/>
<text x="493.8" y="196.7" font-size="6.4" fill="#e88a40" text-anchor="middle">−e</text>
<circle cx="529.6" cy="198.1" r="7.3" fill="#fffaf2" stroke="#f2a866" stroke-width="1"/>
<text x="529.9" y="200.3" font-size="6.4" fill="#e88a40" text-anchor="middle">−e</text>
<path d="M461 303.5 C464.83 302.58 477.5 298.92 484 298 C490.5 297.08 494.17 297.75 500 298 C505.83 298.25 512.67 298.5 519 299.5 C525.33 300.5 531.67 302.67 538 304 C544.33 305.33 550.67 306.67 557 307.5 C563.33 308.33 569.67 308.75 576 309 C582.33 309.25 589.33 309.5 595 309 C600.67 308.5 605.83 307.17 610 306 C614.17 304.83 618.33 302.67 620 302" stroke="#f49a48" stroke-width="6.6" fill="none" stroke-linecap="butt"/>
<polygon points="454,307 457.78,297.06 464.22,309.94" fill="#f49a48"/>
<polygon points="627,298.5 623.22,308.44 616.78,295.56" fill="#f49a48"/>
<circle cx="483.7" cy="298" r="7.3" fill="#fffaf2" stroke="#f2a866" stroke-width="1"/>
<text x="484" y="300.2" font-size="6.4" fill="#e88a40" text-anchor="middle">−e</text>
<circle cx="520" cy="299.5" r="7.3" fill="#fffaf2" stroke="#f2a866" stroke-width="1"/>
<text x="520.3" y="301.7" font-size="6.4" fill="#e88a40" text-anchor="middle">−e</text>
<circle cx="557.3" cy="306.8" r="7.3" fill="#fffaf2" stroke="#f2a866" stroke-width="1"/>
<text x="557.6" y="309" font-size="6.4" fill="#e88a40" text-anchor="middle">−e</text>
<circle cx="594" cy="308.4" r="7.3" fill="#fffaf2" stroke="#f2a866" stroke-width="1"/>
<text x="594.3" y="310.6" font-size="6.4" fill="#e88a40" text-anchor="middle">−e</text>
<path d="M705 190 C708.67 189.33 720.33 186.83 727 186 C733.67 185.17 739 184.83 745 185 C751 185.17 756.67 186 763 187 C769.33 188 776.5 189.67 783 191 C789.5 192.33 795.83 193.83 802 195 C808.17 196.17 814 197.5 820 198 C826 198.5 832.5 198.83 838 198 C843.5 197.17 849 194.58 853 193 C857 191.42 860.5 189.25 862 188.5" stroke="#f49a48" stroke-width="6.6" fill="none" stroke-linecap="butt"/>
<polygon points="699,195.5 700.13,184.69 709.87,195.31" fill="#f49a48"/>
<polygon points="870,184 865.53,194.78 858.47,182.22" fill="#f49a48"/>
<circle cx="727.1" cy="186.1" r="7.3" fill="#fffaf2" stroke="#f2a866" stroke-width="1"/>
<text x="727.4" y="188.3" font-size="6.4" fill="#e88a40" text-anchor="middle">−e</text>
<circle cx="764.3" cy="187.7" r="7.3" fill="#fffaf2" stroke="#f2a866" stroke-width="1"/>
<text x="764.6" y="189.9" font-size="6.4" fill="#e88a40" text-anchor="middle">−e</text>
<circle cx="801.5" cy="194.5" r="7.3" fill="#fffaf2" stroke="#f2a866" stroke-width="1"/>
<text x="801.8" y="196.7" font-size="6.4" fill="#e88a40" text-anchor="middle">−e</text>
<circle cx="837.6" cy="198.1" r="7.3" fill="#fffaf2" stroke="#f2a866" stroke-width="1"/>
<text x="837.9" y="200.3" font-size="6.4" fill="#e88a40" text-anchor="middle">−e</text>
<path d="M769 303.5 C772.83 302.58 785.5 298.92 792 298 C798.5 297.08 802.17 297.75 808 298 C813.83 298.25 820.67 298.5 827 299.5 C833.33 300.5 839.67 302.67 846 304 C852.33 305.33 858.67 306.67 865 307.5 C871.33 308.33 877.67 308.75 884 309 C890.33 309.25 897.33 309.5 903 309 C908.67 308.5 913.83 307.17 918 306 C922.17 304.83 926.33 302.67 928 302" stroke="#f49a48" stroke-width="6.6" fill="none" stroke-linecap="butt"/>
<polygon points="762,307 765.78,297.06 772.22,309.94" fill="#f49a48"/>
<polygon points="935,298.5 931.22,308.44 924.78,295.56" fill="#f49a48"/>
<circle cx="791.7" cy="298" r="7.3" fill="#fffaf2" stroke="#f2a866" stroke-width="1"/>
<text x="792" y="300.2" font-size="6.4" fill="#e88a40" text-anchor="middle">−e</text>
<circle cx="828" cy="299.5" r="7.3" fill="#fffaf2" stroke="#f2a866" stroke-width="1"/>
<text x="828.3" y="301.7" font-size="6.4" fill="#e88a40" text-anchor="middle">−e</text>
<circle cx="865.3" cy="306.8" r="7.3" fill="#fffaf2" stroke="#f2a866" stroke-width="1"/>
<text x="865.6" y="309" font-size="6.4" fill="#e88a40" text-anchor="middle">−e</text>
<circle cx="902" cy="308.4" r="7.3" fill="#fffaf2" stroke="#f2a866" stroke-width="1"/>
<text x="902.3" y="310.6" font-size="6.4" fill="#e88a40" text-anchor="middle">−e</text>
<text x="592.2" y="192.5" font-size="7.9" text-anchor="middle" fill="#111">Reduced</text>
<text x="592.2" y="201.9" font-size="7.9" text-anchor="middle" fill="#111">graphene</text>
<text x="592.2" y="211.2" font-size="7.9" text-anchor="middle" fill="#111">oxide</text>
<path d="M554.4 201.6 L568.5 198.5" stroke="#111" stroke-width="1.2"/><path d="M572.8 197.8 L567 196.4 L568 200.6z" fill="#111"/>
<text x="399.4" y="249" font-size="7.9" text-anchor="middle" fill="#111">Embedded</text>
<text x="399.4" y="258.7" font-size="7.9" text-anchor="middle" fill="#111">SiOC</text>
<text x="399.4" y="267.4" font-size="7.9" text-anchor="middle" fill="#111">particle</text>
<path d="M436 262 L420 256.6" stroke="#111" stroke-width="1.1"/><path d="M415.5 255 L420.6 254.6 L419.4 258.6z" fill="#111"/>
<circle cx="540.8" cy="280.5" r="4.2" fill="none" stroke="#e83a2a" stroke-width="1.2"/>
<line x1="540.8" y1="285.0" x2="541.4" y2="318" stroke="#e83a2a" stroke-width="1.8" stroke-dasharray="1.6 1.4"/>
<path d="M538.4 317 L544.4 317 L541.4 323z" fill="#e83a2a"/>
<circle cx="852.4" cy="279" r="4.2" fill="none" stroke="#e83a2a" stroke-width="1.2"/>
<line x1="852.4" y1="283.5" x2="851.6" y2="318" stroke="#e83a2a" stroke-width="1.8" stroke-dasharray="1.6 1.4"/>
<path d="M848.6 317 L854.6 317 L851.6 323z" fill="#e83a2a"/>
<text x="632.9" y="241.1" font-size="11.7" fill="#b04a8c">Li<tspan dy="3" font-size="7.5">x</tspan><tspan dy="-3">SiOC/rGO</tspan></text>
<path d="M636.9 254.3 H689.7 L671.7 245.8 V254.3" fill="#111" stroke="#111" stroke-width="2.2" stroke-linejoin="miter"/>
<path d="M689.7 260.4 H636.9 L656 268.9 V260.4" fill="#111" stroke="#111" stroke-width="2.2" stroke-linejoin="miter"/>
<text x="640" y="284" font-size="11.4" text-anchor="start" fill="#111">SiOC/rGO</text>
<path d="M707 219 C712.1 216 717.2 225 724 222" stroke="#b8308a" stroke-width="1.4" fill="none"/>
<path d="M727 222 L723 219.6 L723 224.4z" fill="#b8308a"/>
<circle cx="698.8" cy="218.5" r="6.7" fill="#b8308a"/>
<text x="698.1999999999999" y="221.3" font-size="7.2" fill="#fff" text-anchor="middle">Li<tspan dy="-3" font-size="5">+</tspan></text>
<path d="M718 255 C723.1 252 728.2 261 735 258" stroke="#b8308a" stroke-width="1.4" fill="none"/>
<path d="M738 258 L734 255.6 L734 260.4z" fill="#b8308a"/>
<circle cx="709.9" cy="254.8" r="6.7" fill="#b8308a"/>
<text x="709.3" y="257.6" font-size="7.2" fill="#fff" text-anchor="middle">Li<tspan dy="-3" font-size="5">+</tspan></text>
<path d="M919 238.6 C914.5 235.6 910.0 241 904 238" stroke="#b8308a" stroke-width="1.4" fill="none"/>
<path d="M901 238 L905 235.6 L905 240.4z" fill="#b8308a"/>
<circle cx="927.4" cy="238.6" r="6.7" fill="#b8308a"/>
<text x="926.8" y="241.4" font-size="7.2" fill="#fff" text-anchor="middle">Li<tspan dy="-3" font-size="5">+</tspan></text>
<path d="M931 275 C926.5 272 922.0 276 916 273" stroke="#b8308a" stroke-width="1.4" fill="none"/>
<path d="M913 273 L917 270.6 L917 275.4z" fill="#b8308a"/>
<circle cx="939.4" cy="275.2" r="6.7" fill="#b8308a"/>
<text x="938.8" y="278.0" font-size="7.2" fill="#fff" text-anchor="middle">Li<tspan dy="-3" font-size="5">+</tspan></text>
<clipPath id="clip1"><rect x="406.6" y="326.6" width="256.8" height="204.1" rx="17"/></clipPath>
<g clip-path="url(#clip1)">
<rect x="406.6" y="326.6" width="256.8" height="204.1" fill="#fff"/>
<path d="M551.5 464.2L538.6 474.6M602.6 330.6L606.6 342.6M491.8 406.8L499.4 411M594.5 519.9L610.6 526.6M463.2 443.2L468.6 458.6M622.3 385.7L606.6 392.6M486 361.3L488.5 375.6M627.4 519.9L628.2 505.5M432 338.5L444 328.5M586.1 438.1L573.5 440.6M426.1 517.3L418.6 526.6M516.3 504.7L496 505.5M640.9 462.6L658.6 469.3M608 460.9L621.5 466.8M436.2 478.6L431.1 488.7M508.7 374.7L520.5 358.7M411.7 340.2L416 333M409.2 476.9L423.5 477.7M591.2 451.6L586.1 438.1M552.4 514.8L538.6 510.6M454.7 373.9L468.2 386.5M454.7 373.9L458.6 360.6M644.6 510.6L644.6 526.6M585.3 469.3L572.6 476.6M544 384.8L532.6 380.6M646.8 390.7L658.6 376.6M650.2 444L658.6 454.6M638.4 416.9L652.7 417.7M534 364.6L534.6 348.6M471.6 527.4L460.6 514.6M565.9 389.9L573.5 405.9M630.6 368.6L638.6 376.6M658.6 469.3L658.6 454.6M451.4 341.9L444 328.5M563.3 524.1L552.4 514.8M581 352.8L566.6 352.6M450.5 487.8L465.7 484.5M621.5 466.8L620.6 450.6M624.9 348.6L638.6 344.6M477.5 481.9L490.6 474.6M529.8 411L533.2 399.2M409.2 476.9L409.2 468.5M407.5 367.2L413.4 351.1M523 331.7L512.1 330.1M435.4 379L418.5 388.2M583.6 328.4L573.5 340.2M591.2 451.6L586.1 453.3M481.7 502.2L472.4 497.1M578.5 327.5L573.5 340.2M627.4 491.2L628.2 505.5M592.8 341L606.6 342.6M604.6 373L588.6 373M426.9 459.2L437 465.9M582.7 509.7L584.6 496.6M491.8 406.8L480.6 404.6M638.4 416.9L631.6 427M407.5 367.2L410.9 381.5M594.5 519.9L588.6 525.8M499.4 424.5L491.8 435.6M410.1 510.6L426.1 517.3M512.9 396.7L513.8 405.1M499.4 411L511.2 416.9M571.8 423.6L573.5 440.6M431.1 435.6L436.2 448.2M468.2 506.4L460.6 514.6M595.4 502.2L596.2 489.5M499.4 451.6L491.8 435.6M528.9 462.6L538.6 474.6M605.5 420.2L589.5 422.8M418.5 388.2L410.9 381.5M459 472.7L465.7 484.5M502.8 350.3L514.6 352M623.2 411.8L631.6 427M650.2 336.8L634.6 330.6M407.5 392.5L410.9 381.5M448.5 395.8L449.7 407.6M556.6 397.5L549.9 415.2M646.8 390.7L638.6 376.6M513.8 405.1L511.2 416.9M571.8 462.6L585.3 469.3M528.1 488.7L519.7 475.2M595.4 502.2L584.6 496.6M463.2 443.2L454.7 454.1M572.6 491.2L570.9 504.7M646.8 390.7L636.7 399.2M605.5 420.2L603.8 405.9M556.6 429.7L553.2 440.6M525.6 341.9L523 331.7M638.4 416.9L646.6 408.6M557.4 457.5L560 470.1M522.2 389.9L512.9 396.7M621.5 466.8L620.6 478.6M421.9 447.4L410.6 434.6M510.4 521.5L529.8 519.9M631.6 427L620.6 434.6M600.4 358.7L604.6 373M500.3 339.3L502.8 350.3M437 465.9L436.2 478.6M471.6 527.4L489.3 524.1M548.2 495.4L538.6 510.6M554.9 478.6L560 484.5M500.3 339.3L486.6 344.6M653.5 356.2L646.8 365.5M571.8 423.6L556.6 429.7M657.7 432.2L644.6 430.6M491.8 460.9L490.6 474.6M574.3 365.5L574.6 378.6M608 488.7L612.2 502.2M436.2 448.2L439.6 454.1M509.5 434.7L520.6 448.6M551.5 331.7L558.3 341M484.2 431.4L491.8 435.6M588.6 373L574.6 378.6M585.3 469.3L600.4 470.1M544 384.8L556.6 378.6M570.9 504.7L582.7 509.7M552.4 514.8L542.6 526.6M587 391.6L592 405.9M586.1 438.1L589.5 422.8M571.8 462.6L572.6 476.6M438.7 420.3L443.8 433.9M491.8 406.8L484.3 416.9M640.9 462.6L632.5 477.7M431.1 488.7L418.6 494.6M556.6 397.5L565.9 389.9M496 505.5L489.3 524.1M631.6 427L644.6 430.6M655.2 498L658.6 510.6M421.9 447.4L426.9 459.2M477.5 481.9L465.7 484.5M410.1 510.6L418.6 494.6M432 338.5L416 333M581.9 396.6L573.5 405.9M573.5 440.6L574.3 448.2M520.5 358.7L514.6 352M502 392.5L513.8 405.1M548.2 350.3L554.1 355.3M418.5 388.2L430.6 400.6M571.8 462.6L560 470.1M435.4 379L441.3 360.4M587 391.6L581.9 396.6M622.3 385.7L605.5 380.6M639.2 488.7L632.5 477.7M423.5 477.7L431.1 488.7M538.9 453.3L540.6 440.6M624.9 348.6L634.6 356.6M573.5 340.2L566.6 352.6M529.8 519.9L542.6 526.6M528.9 462.6L520.6 448.6M534 364.6L520.5 358.7M481.7 393.3L480.6 404.6M463.2 402.6L449.7 407.6M623.2 411.8L638.4 416.9M646.8 365.5L658.6 376.6M469.9 352L458.6 360.6M554.1 355.3L566.6 352.6M436.6 526.6L418.6 526.6M411.7 451.6L421.9 447.4M603.8 405.9L592 405.9M411.7 340.2L413.4 351.1M507.9 469.3L509.5 480.3M439.6 454.1L437 465.9M528.9 462.6L538.9 453.3M448.5 395.8L430.6 400.6M438.7 420.3L449.7 407.6M510.4 521.5L521.3 527.4M431.1 501.3L418.6 494.6M592.8 341L602.6 330.6M617.3 334.3L606.6 342.6M563.3 524.1L573.5 519.9M481.7 453.3L468.6 458.6M656.6 522.6L658.6 510.6M581 352.8L574.3 365.5M476.6 466.6L468.6 458.6M603.8 405.9L606.6 392.6M432 338.5L422.7 349.5M529.8 427.9L540.6 440.6M583.6 328.4L578.5 327.5M639.2 488.7L627.4 491.2M472.4 497.1L468.2 506.4M600.4 358.7L617.3 362.1M635.8 443.2L644.6 430.6M486 361.3L486.6 344.6M548.2 350.3L558.3 341M468.2 386.5L481.7 393.3M493.5 491.2L496 505.5M551.5 464.2L560 470.1M608 460.9L600.4 470.1M653.5 356.2L638.6 344.6M474.1 373.1L468.2 386.5M627.4 519.9L610.6 526.6M422.7 349.5L426.1 359.6M436.2 478.6L423.5 477.7M630.6 368.6L634.6 356.6M508.7 374.7L488.5 375.6M448 489.5L454.7 480.3M574.3 365.5L560 366.3M608 488.7L596.2 489.5M617.3 362.1L630.6 368.6M456.4 524.9L460.6 514.6M585.3 484.5L596.2 489.5M660.3 401.7L646.6 408.6M426.1 517.3L436.6 526.6M442.9 508.9L456.4 502.2M411.7 451.6L413.4 458.3M560 366.3L554.1 355.3M557.4 457.5L551.5 464.2M450.5 487.8L454.7 480.3M516.3 504.7L528.1 488.7M499.4 411L499.4 424.5M426.1 359.6L441.3 360.4M525.6 341.9L534.6 348.6M652.7 417.7L646.6 408.6M585.3 484.5L584.6 496.6M632.5 477.7L620.6 478.6M606.3 439.8L620.6 434.6M454.7 480.3L465.7 484.5M586.1 453.3L574.3 448.2M655.2 498L658.6 484.6M620.6 450.6L620.6 434.6M529.8 427.9L529.8 411M522.2 389.9L533.2 399.2M554.9 478.6L560 470.1M644.6 510.6L658.6 510.6M442.9 508.9L431.1 501.3M500.3 339.3L512.1 330.1M521.3 527.4L529.8 519.9M431.1 488.7L431.1 501.3M502 392.5L512.9 396.7M624.9 348.6L617.3 362.1M548.2 350.3L534.6 348.6M447.2 350.3L441.3 360.4M565.9 389.9L574.6 378.6M499.4 451.6L491.8 460.9M548.2 495.4L560 484.5M605.5 380.6L606.6 392.6M635.8 443.2L650.2 444M519.7 475.2L509.5 480.3M560 366.3L556.6 378.6M553.2 440.6L540.6 440.6M560 470.1L572.6 476.6M604.6 373L605.5 380.6M522.2 389.9L532.6 380.6M459 472.7L454.7 480.3M451.4 341.9L447.2 350.3M581.9 396.6L592 405.9M409.2 468.5L413.4 458.3M551.5 331.7L544 333.4M507.9 469.3L519.7 475.2M572.6 491.2L584.6 496.6M499.4 424.5L509.5 434.7M529.8 427.9L543.1 424.4M656.6 522.6L644.6 526.6M658.6 469.3L658.6 484.6M481.7 453.3L476.6 466.6M413.4 351.1L422.7 349.5M484.3 416.9L484.2 431.4M468.2 506.4L456.4 502.2M529.8 519.9L538.6 510.6M650.2 444L657.7 432.2M463.2 402.6L448.5 395.8M491.8 435.6L509.5 434.7M456.4 502.2L460.6 514.6M638.6 344.6L634.6 356.6M411.7 451.6L410.6 434.6M471.6 527.4L456.4 524.9M484.3 331.7L486.6 344.6M407.5 392.5L418.5 388.2M484.3 416.9L480.6 404.6M556.6 397.5L544 384.8M493.5 491.2L481.7 502.2M617.3 334.3L602.6 330.6M650.2 336.8L638.6 344.6M634.6 330.6L638.6 344.6M572.6 491.2L560 484.5M646.8 365.5L638.6 376.6M594.5 519.9L582.7 509.7M431.1 435.6L443.8 433.9" stroke="#161616" stroke-width="2.6" fill="none"/>
<circle cx="572.6" cy="476.6" r="4.7" fill="url(#oo)"/>
<circle cx="608" cy="460.9" r="4.7" fill="url(#oo)"/>
<circle cx="484.3" cy="416.9" r="4.7" fill="url(#oo)"/>
<circle cx="578.5" cy="327.5" r="6.6" fill="url(#cc)"/>
<circle cx="594.5" cy="519.9" r="9.6" fill="url(#si)"/>
<circle cx="627.4" cy="491.2" r="6.6" fill="url(#cc)"/>
<circle cx="514.6" cy="352" r="4.7" fill="url(#oo)"/>
<circle cx="571.8" cy="462.6" r="4.7" fill="url(#oo)"/>
<circle cx="652.7" cy="417.7" r="4.7" fill="url(#oo)"/>
<circle cx="472.4" cy="497.1" r="4.7" fill="url(#oo)"/>
<circle cx="632.5" cy="477.7" r="4.7" fill="url(#oo)"/>
<circle cx="573.5" cy="519.9" r="6.6" fill="url(#cc)"/>
<circle cx="423.5" cy="477.7" r="4.7" fill="url(#oo)"/>
<circle cx="516.3" cy="504.7" r="9.6" fill="url(#si)"/>
<circle cx="454.7" cy="373.9" r="4.7" fill="url(#oo)"/>
<circle cx="600.4" cy="358.7" r="9.6" fill="url(#si)"/>
<circle cx="560" cy="470.1" r="4.7" fill="url(#oo)"/>
<circle cx="640.9" cy="462.6" r="9.6" fill="url(#si)"/>
<circle cx="595.4" cy="502.2" r="4.7" fill="url(#oo)"/>
<circle cx="634.6" cy="330.6" r="4.7" fill="url(#oo)"/>
<circle cx="553.2" cy="440.6" r="4.7" fill="url(#oo)"/>
<circle cx="608" cy="488.7" r="9.6" fill="url(#si)"/>
<circle cx="586.1" cy="453.3" r="6.6" fill="url(#cc)"/>
<circle cx="551.5" cy="331.7" r="9.6" fill="url(#si)"/>
<circle cx="591.2" cy="451.6" r="9.6" fill="url(#si)"/>
<circle cx="566.6" cy="352.6" r="4.7" fill="url(#oo)"/>
<circle cx="499.4" cy="424.5" r="4.7" fill="url(#oo)"/>
<circle cx="476.6" cy="466.6" r="4.7" fill="url(#oo)"/>
<circle cx="639.2" cy="488.7" r="9.6" fill="url(#si)"/>
<circle cx="573.5" cy="440.6" r="4.7" fill="url(#oo)"/>
<circle cx="450.5" cy="487.8" r="4.7" fill="url(#oo)"/>
<circle cx="411.7" cy="340.2" r="9.6" fill="url(#si)"/>
<circle cx="620.6" cy="450.6" r="4.7" fill="url(#oo)"/>
<circle cx="605.5" cy="420.2" r="9.6" fill="url(#si)"/>
<circle cx="460.6" cy="514.6" r="4.7" fill="url(#oo)"/>
<circle cx="653.5" cy="356.2" r="9.6" fill="url(#si)"/>
<circle cx="646.8" cy="365.5" r="6.6" fill="url(#cc)"/>
<circle cx="658.6" cy="469.3" r="6.6" fill="url(#cc)"/>
<circle cx="556.6" cy="378.6" r="4.7" fill="url(#oo)"/>
<circle cx="410.1" cy="510.6" r="9.6" fill="url(#si)"/>
<circle cx="623.2" cy="411.8" r="9.6" fill="url(#si)"/>
<circle cx="520.6" cy="448.6" r="4.7" fill="url(#oo)"/>
<circle cx="600.4" cy="470.1" r="4.7" fill="url(#oo)"/>
<circle cx="413.4" cy="458.3" r="4.7" fill="url(#oo)"/>
<circle cx="533.2" cy="399.2" r="4.7" fill="url(#oo)"/>
<circle cx="556.6" cy="429.7" r="6.6" fill="url(#cc)"/>
<circle cx="513.8" cy="405.1" r="4.7" fill="url(#oo)"/>
<circle cx="471.6" cy="527.4" r="9.6" fill="url(#si)"/>
<circle cx="454.7" cy="480.3" r="4.7" fill="url(#oo)"/>
<circle cx="418.5" cy="388.2" r="6.6" fill="url(#cc)"/>
<circle cx="610.6" cy="526.6" r="4.7" fill="url(#oo)"/>
<circle cx="606.3" cy="439.8" r="6.6" fill="url(#cc)"/>
<circle cx="646.8" cy="390.7" r="9.6" fill="url(#si)"/>
<circle cx="410.9" cy="381.5" r="4.7" fill="url(#oo)"/>
<circle cx="413.4" cy="351.1" r="4.7" fill="url(#oo)"/>
<circle cx="548.2" cy="495.4" r="9.6" fill="url(#si)"/>
<circle cx="560" cy="366.3" r="4.7" fill="url(#oo)"/>
<circle cx="534.6" cy="348.6" r="4.7" fill="url(#oo)"/>
<circle cx="581.9" cy="396.6" r="6.6" fill="url(#cc)"/>
<circle cx="622.3" cy="385.7" r="9.6" fill="url(#si)"/>
<circle cx="556.6" cy="397.5" r="9.6" fill="url(#si)"/>
<circle cx="612.2" cy="502.2" r="6.6" fill="url(#cc)"/>
<circle cx="574.3" cy="448.2" r="4.7" fill="url(#oo)"/>
<circle cx="635.8" cy="443.2" r="4.7" fill="url(#oo)"/>
<circle cx="548.2" cy="350.3" r="6.6" fill="url(#cc)"/>
<circle cx="430.6" cy="400.6" r="4.7" fill="url(#oo)"/>
<circle cx="407.5" cy="392.5" r="9.6" fill="url(#si)"/>
<circle cx="407.5" cy="367.2" r="9.6" fill="url(#si)"/>
<circle cx="435.4" cy="379" r="9.6" fill="url(#si)"/>
<circle cx="409.2" cy="476.9" r="9.6" fill="url(#si)"/>
<circle cx="491.8" cy="435.6" r="4.7" fill="url(#oo)"/>
<circle cx="583.6" cy="328.4" r="9.6" fill="url(#si)"/>
<circle cx="588.6" cy="525.8" r="6.6" fill="url(#cc)"/>
<circle cx="439.6" cy="454.1" r="4.7" fill="url(#oo)"/>
<circle cx="573.5" cy="340.2" r="4.7" fill="url(#oo)"/>
<circle cx="508.7" cy="374.7" r="9.6" fill="url(#si)"/>
<circle cx="496" cy="505.5" r="6.6" fill="url(#cc)"/>
<circle cx="523" cy="331.7" r="4.7" fill="url(#oo)"/>
<circle cx="563.3" cy="524.1" r="9.6" fill="url(#si)"/>
<circle cx="589.5" cy="422.8" r="4.7" fill="url(#oo)"/>
<circle cx="521.3" cy="527.4" r="6.6" fill="url(#cc)"/>
<circle cx="426.1" cy="517.3" r="4.7" fill="url(#oo)"/>
<circle cx="418.6" cy="494.6" r="4.7" fill="url(#oo)"/>
<circle cx="511.2" cy="416.9" r="4.7" fill="url(#oo)"/>
<circle cx="606.6" cy="392.6" r="4.7" fill="url(#oo)"/>
<circle cx="584.6" cy="496.6" r="4.7" fill="url(#oo)"/>
<circle cx="436.2" cy="448.2" r="4.7" fill="url(#oo)"/>
<circle cx="418.6" cy="526.6" r="4.7" fill="url(#oo)"/>
<circle cx="522.2" cy="389.9" r="6.6" fill="url(#cc)"/>
<circle cx="549.9" cy="415.2" r="6.6" fill="url(#cc)"/>
<circle cx="592.8" cy="341" r="4.7" fill="url(#oo)"/>
<circle cx="658.6" cy="510.6" r="4.7" fill="url(#oo)"/>
<circle cx="528.9" cy="462.6" r="4.7" fill="url(#oo)"/>
<circle cx="469.9" cy="352" r="6.6" fill="url(#cc)"/>
<circle cx="603.8" cy="405.9" r="6.6" fill="url(#cc)"/>
<circle cx="628.2" cy="505.5" r="4.7" fill="url(#oo)"/>
<circle cx="462.3" cy="422.4" r="6.6" fill="url(#cc)"/>
<circle cx="638.6" cy="344.6" r="4.7" fill="url(#oo)"/>
<circle cx="491.8" cy="460.9" r="6.6" fill="url(#cc)"/>
<circle cx="660.3" cy="401.7" r="6.6" fill="url(#cc)"/>
<circle cx="486.6" cy="344.6" r="4.7" fill="url(#oo)"/>
<circle cx="416" cy="333" r="4.7" fill="url(#oo)"/>
<circle cx="443.8" cy="433.9" r="4.7" fill="url(#oo)"/>
<circle cx="592" cy="405.9" r="4.7" fill="url(#oo)"/>
<circle cx="520.5" cy="358.7" r="6.6" fill="url(#cc)"/>
<circle cx="658.6" cy="454.6" r="4.7" fill="url(#oo)"/>
<circle cx="437" cy="465.9" r="4.7" fill="url(#oo)"/>
<circle cx="519.7" cy="475.2" r="4.7" fill="url(#oo)"/>
<circle cx="581" cy="352.8" r="4.7" fill="url(#oo)"/>
<circle cx="551.5" cy="464.2" r="6.6" fill="url(#cc)"/>
<circle cx="646.6" cy="408.6" r="4.7" fill="url(#oo)"/>
<circle cx="468.2" cy="506.4" r="4.7" fill="url(#oo)"/>
<circle cx="447.2" cy="350.3" r="6.6" fill="url(#cc)"/>
<circle cx="477.5" cy="481.9" r="6.6" fill="url(#cc)"/>
<circle cx="489.3" cy="524.1" r="4.7" fill="url(#oo)"/>
<circle cx="436.2" cy="478.6" r="4.7" fill="url(#oo)"/>
<circle cx="620.6" cy="478.6" r="4.7" fill="url(#oo)"/>
<circle cx="448.5" cy="395.8" r="6.6" fill="url(#cc)"/>
<circle cx="442.9" cy="508.9" r="9.6" fill="url(#si)"/>
<circle cx="481.7" cy="453.3" r="6.6" fill="url(#cc)"/>
<circle cx="634.6" cy="356.6" r="4.7" fill="url(#oo)"/>
<circle cx="582.7" cy="509.7" r="4.7" fill="url(#oo)"/>
<circle cx="454.7" cy="454.1" r="6.6" fill="url(#cc)"/>
<circle cx="585.3" cy="469.3" r="4.7" fill="url(#oo)"/>
<circle cx="481.7" cy="393.3" r="4.7" fill="url(#oo)"/>
<circle cx="451.4" cy="341.9" r="9.6" fill="url(#si)"/>
<circle cx="631.6" cy="427" r="4.7" fill="url(#oo)"/>
<circle cx="658.6" cy="376.6" r="4.7" fill="url(#oo)"/>
<circle cx="585.3" cy="484.5" r="4.7" fill="url(#oo)"/>
<circle cx="572.6" cy="491.2" r="4.7" fill="url(#oo)"/>
<circle cx="484.3" cy="331.7" r="6.6" fill="url(#cc)"/>
<circle cx="480.6" cy="404.6" r="4.7" fill="url(#oo)"/>
<circle cx="409.2" cy="468.5" r="6.6" fill="url(#cc)"/>
<circle cx="529.8" cy="427.9" r="9.6" fill="url(#si)"/>
<circle cx="540.6" cy="440.6" r="4.7" fill="url(#oo)"/>
<circle cx="552.4" cy="514.8" r="4.7" fill="url(#oo)"/>
<circle cx="605.5" cy="380.6" r="4.7" fill="url(#oo)"/>
<circle cx="426.1" cy="359.6" r="4.7" fill="url(#oo)"/>
<circle cx="644.6" cy="526.6" r="4.7" fill="url(#oo)"/>
<circle cx="638.4" cy="416.9" r="4.7" fill="url(#oo)"/>
<circle cx="627.4" cy="519.9" r="9.6" fill="url(#si)"/>
<circle cx="493.5" cy="491.2" r="9.6" fill="url(#si)"/>
<circle cx="573.5" cy="405.9" r="4.7" fill="url(#oo)"/>
<circle cx="620.6" cy="434.6" r="4.7" fill="url(#oo)"/>
<circle cx="571.8" cy="423.6" r="9.6" fill="url(#si)"/>
<circle cx="441.3" cy="360.4" r="4.7" fill="url(#oo)"/>
<circle cx="509.5" cy="434.7" r="4.7" fill="url(#oo)"/>
<circle cx="422.7" cy="349.5" r="4.7" fill="url(#oo)"/>
<circle cx="500.3" cy="339.3" r="6.6" fill="url(#cc)"/>
<circle cx="538.6" cy="510.6" r="4.7" fill="url(#oo)"/>
<circle cx="512.9" cy="396.7" r="4.7" fill="url(#oo)"/>
<circle cx="636.7" cy="399.2" r="6.6" fill="url(#cc)"/>
<circle cx="554.1" cy="355.3" r="4.7" fill="url(#oo)"/>
<circle cx="534" cy="364.6" r="9.6" fill="url(#si)"/>
<circle cx="456.4" cy="502.2" r="4.7" fill="url(#oo)"/>
<circle cx="499.4" cy="411" r="4.7" fill="url(#oo)"/>
<circle cx="456.4" cy="524.9" r="4.7" fill="url(#oo)"/>
<circle cx="624.9" cy="348.6" r="4.7" fill="url(#oo)"/>
<circle cx="431.1" cy="488.7" r="4.7" fill="url(#oo)"/>
<circle cx="507.9" cy="469.3" r="6.6" fill="url(#cc)"/>
<circle cx="528.1" cy="488.7" r="6.6" fill="url(#cc)"/>
<circle cx="488.5" cy="375.6" r="6.6" fill="url(#cc)"/>
<circle cx="544" cy="384.8" r="4.7" fill="url(#oo)"/>
<circle cx="410.6" cy="434.6" r="4.7" fill="url(#oo)"/>
<circle cx="617.3" cy="362.1" r="4.7" fill="url(#oo)"/>
<circle cx="554.9" cy="478.6" r="6.6" fill="url(#cc)"/>
<circle cx="468.6" cy="458.6" r="4.7" fill="url(#oo)"/>
<circle cx="481.7" cy="502.2" r="6.6" fill="url(#cc)"/>
<circle cx="509.5" cy="480.3" r="4.7" fill="url(#oo)"/>
<circle cx="474.1" cy="373.1" r="6.6" fill="url(#cc)"/>
<circle cx="499.4" cy="451.6" r="9.6" fill="url(#si)"/>
<circle cx="529.8" cy="519.9" r="4.7" fill="url(#oo)"/>
<circle cx="421.9" cy="447.4" r="4.7" fill="url(#oo)"/>
<circle cx="529.8" cy="411" r="4.7" fill="url(#oo)"/>
<circle cx="602.6" cy="330.6" r="4.7" fill="url(#oo)"/>
<circle cx="448" cy="489.5" r="6.6" fill="url(#cc)"/>
<circle cx="558.3" cy="341" r="4.7" fill="url(#oo)"/>
<circle cx="656.6" cy="522.6" r="4.7" fill="url(#oo)"/>
<circle cx="560" cy="484.5" r="4.7" fill="url(#oo)"/>
<circle cx="621.5" cy="466.8" r="4.7" fill="url(#oo)"/>
<circle cx="655.2" cy="498" r="6.6" fill="url(#cc)"/>
<circle cx="565.9" cy="389.9" r="6.6" fill="url(#cc)"/>
<circle cx="411.7" cy="451.6" r="4.7" fill="url(#oo)"/>
<circle cx="638.6" cy="376.6" r="4.7" fill="url(#oo)"/>
<circle cx="512.1" cy="330.1" r="4.7" fill="url(#oo)"/>
<circle cx="544" cy="333.4" r="6.6" fill="url(#cc)"/>
<circle cx="650.2" cy="336.8" r="4.7" fill="url(#oo)"/>
<circle cx="630.6" cy="368.6" r="4.7" fill="url(#oo)"/>
<circle cx="657.7" cy="432.2" r="4.7" fill="url(#oo)"/>
<circle cx="502.8" cy="350.3" r="4.7" fill="url(#oo)"/>
<circle cx="473.3" cy="327.5" r="6.6" fill="url(#cc)"/>
<circle cx="570.9" cy="504.7" r="4.7" fill="url(#oo)"/>
<circle cx="658.6" cy="484.6" r="4.7" fill="url(#oo)"/>
<circle cx="486" cy="361.3" r="9.6" fill="url(#si)"/>
<circle cx="484.2" cy="431.4" r="4.7" fill="url(#oo)"/>
<circle cx="490.6" cy="474.6" r="4.7" fill="url(#oo)"/>
<circle cx="502" cy="392.5" r="9.6" fill="url(#si)"/>
<circle cx="463.2" cy="402.6" r="9.6" fill="url(#si)"/>
<circle cx="606.6" cy="342.6" r="4.7" fill="url(#oo)"/>
<circle cx="586.1" cy="438.1" r="6.6" fill="url(#cc)"/>
<circle cx="459" cy="472.7" r="9.6" fill="url(#si)"/>
<circle cx="431.1" cy="501.3" r="4.7" fill="url(#oo)"/>
<circle cx="604.6" cy="373" r="6.6" fill="url(#cc)"/>
<circle cx="650.2" cy="444" r="4.7" fill="url(#oo)"/>
<circle cx="431.1" cy="435.6" r="6.6" fill="url(#cc)"/>
<circle cx="449.7" cy="407.6" r="4.7" fill="url(#oo)"/>
<circle cx="596.2" cy="489.5" r="4.7" fill="url(#oo)"/>
<circle cx="432" cy="338.5" r="9.6" fill="url(#si)"/>
<circle cx="542.6" cy="526.6" r="4.7" fill="url(#oo)"/>
<circle cx="532.6" cy="380.6" r="4.7" fill="url(#oo)"/>
<circle cx="465.7" cy="484.5" r="4.7" fill="url(#oo)"/>
<circle cx="525.6" cy="341.9" r="4.7" fill="url(#oo)"/>
<circle cx="491.8" cy="406.8" r="4.7" fill="url(#oo)"/>
<circle cx="574.6" cy="378.6" r="4.7" fill="url(#oo)"/>
<circle cx="438.7" cy="420.3" r="9.6" fill="url(#si)"/>
<circle cx="588.6" cy="373" r="4.7" fill="url(#oo)"/>
<circle cx="463.2" cy="443.2" r="9.6" fill="url(#si)"/>
<circle cx="419.3" cy="416.9" r="6.6" fill="url(#cc)"/>
<circle cx="436.6" cy="526.6" r="4.7" fill="url(#oo)"/>
<circle cx="468.2" cy="386.5" r="4.7" fill="url(#oo)"/>
<circle cx="538.9" cy="453.3" r="4.7" fill="url(#oo)"/>
<circle cx="574.3" cy="365.5" r="4.7" fill="url(#oo)"/>
<circle cx="444" cy="328.5" r="4.7" fill="url(#oo)"/>
<circle cx="538.6" cy="474.6" r="4.7" fill="url(#oo)"/>
<circle cx="617.3" cy="334.3" r="4.7" fill="url(#oo)"/>
<circle cx="510.4" cy="521.5" r="9.6" fill="url(#si)"/>
<circle cx="543.1" cy="424.4" r="6.6" fill="url(#cc)"/>
<circle cx="587" cy="391.6" r="9.6" fill="url(#si)"/>
<circle cx="644.6" cy="510.6" r="4.7" fill="url(#oo)"/>
<circle cx="644.6" cy="430.6" r="4.7" fill="url(#oo)"/>
<circle cx="458.6" cy="360.6" r="4.7" fill="url(#oo)"/>
<circle cx="426.9" cy="459.2" r="4.7" fill="url(#oo)"/>
<circle cx="557.4" cy="457.5" r="9.6" fill="url(#si)"/>
</g>
<rect x="406.6" y="326.6" width="256.8" height="204.1" rx="17" fill="none" stroke="#8a8a8a" stroke-width="1.8"/>
<clipPath id="clip2"><rect x="679.2" y="326.6" width="256.8" height="204.1" rx="17"/></clipPath>
<g clip-path="url(#clip2)">
<rect x="679.2" y="326.6" width="256.8" height="204.1" fill="#fff"/>
<path d="M772.4 506.4L784.2 517.3M779.1 488.7L794.3 503.8M684.7 427L694.9 427M723.5 402.5L737.2 406.6M851.8 466.8L861.9 473.5M719.3 454.1L727.7 467.6M792.6 415.2L781.2 430.6M856.9 435.6L851.8 450.8M847.6 519.9L863.2 526.6M748 338.5L765.7 330.1M915.9 369.7L904.9 378.9M821.5 376.4L831.6 368.8M792.6 444.9L803.6 434.7M710 330.1L701.6 337.6M693.2 526.6L701.2 512.6M821.5 526.6L837.2 526.6M792.6 389L801.1 377.2M848.5 375.6L858.6 384.8M772.4 506.4L752.2 507.2M878.8 519L895.2 526.6M822.3 438.1L816.4 444.9M819.8 460.9L803.2 456.6M914.2 343.5L931.2 354.6M840 503L849.3 493.7M734.5 480.3L728.6 490.4M825.7 344.4L821.2 356.6M724.4 382.3L710 386.5M684.7 460L691.5 471M752.2 507.2L757.2 526.6M861.9 506.4L856 510.6M827.4 510.6L840 503M907.5 396.6L922.6 397.5M915.9 369.7L931.9 381.5M779.1 488.7L758.9 489.5M736.2 351.1L715.9 352.8M777.5 383.1L773.2 397.5M710 330.1L690 335M791.8 471L782.5 456.7M704.1 492L717.6 485.3M878.8 519L863.2 526.6M724.4 421.9L715.9 435.6M838.3 473.5L835.8 487M907.5 471.8L901.6 460M694.9 357.9L701.6 337.6M825.7 344.4L840 343.5M699.1 400.8L691.5 416M744.6 486.1L734.5 480.3M764.8 371.4L754.7 386.5M684.7 500.5L683.2 516.6M699.1 434.7L697.4 449.1M820.6 405.9L818.1 420.2M782.5 456.7L792.6 444.9M757.2 526.6L771.2 526.6M771.6 352.8L784.2 336.8M748 338.5L751.3 354.5M819.8 460.9L825.7 466.8M840 385.7L858.6 384.8M709.2 374.7L695.2 380.6M871.2 351.1L884.7 340.2M895.7 505.5L895.7 488.7M851.8 418.5L840 421.9M840 343.5L854.4 351.1M792.6 444.9L781.2 430.6M920.1 424.4L904.9 424.4M762.3 405.9L754.7 416.9M858.6 384.8L856 401.7M919.3 335.1L914.2 343.5M732.8 516.5L718.5 519.9M709.2 374.7L710 386.5M801.1 522.4L784.2 517.3M732.8 516.5L716.8 508.9M716.8 508.9L701.2 512.6M888.9 449.9L901.6 460M827.4 510.6L816.4 498.8M756.4 473.5L744.6 486.1M715.9 352.8L730.3 364.6M694.9 427L699.1 434.7M771.6 352.8L751.3 354.5M849.3 493.7L835.8 487M867 336.8L884.7 340.2M856.9 435.6L851.8 418.5M838.3 444L824.9 451.6M838.3 473.5L825.7 466.8M802.7 343.5L812.2 330.1M894.8 473.5L895.7 488.7M719.3 454.1L715.9 461.7M784.2 336.8L765.7 330.1M697.4 449.1L697.4 461.7M730.3 364.6L743.7 371.4M792.6 415.2L807.8 404.2M904.9 424.4L897.3 410.1M848.5 375.6L840 385.7M853.5 434.7L851.8 450.8M870.4 384.8L858.6 384.8M699.1 400.8L705 414.3M890.6 364.6L904.9 378.9M785.9 368.8L777.5 383.1M909.1 444L901.6 460M718.5 519.9L716.8 508.9M922.6 397.5L928.5 411.8M890.6 390.7L904.9 378.9M754.7 386.5L761.4 391.6M872.9 400.8L870.4 384.8M884.7 340.2L897.2 346.6M909.1 444L904.9 424.4M758.9 489.5L752.2 507.2M867 451.6L874.6 444M724.4 382.3L709.2 374.7M761.4 427L754.7 416.9M708.3 472.7L715.9 461.7M861.9 473.5L862.8 486.1M748 338.5L732 330.9M822.3 438.1L818.1 420.2M851.8 466.8L838.3 473.5M920.1 424.4L931.2 434.6M928.5 411.8L920.1 424.4M764.8 371.4L777.5 383.1M697.4 461.7L691.5 471M931.2 504.6L915.2 496.6M846.8 330.9L840 343.5M699.1 434.7L686.4 442.3M724.4 421.9L723.5 402.5M777.5 383.1L792.6 389M907.5 396.6L897.3 410.1M748 338.5L736.2 351.1M862.8 486.1L849.3 493.7M751.3 354.5L743.7 371.4M837.5 406.7L840 421.9M691.5 416L694.9 427M928.5 450.8L931.2 434.6M853.5 370.5L848.5 375.6M699.1 400.8L681.4 395M890.6 390.7L907.5 396.6M872.9 400.8L856 401.7M874.6 471L861.9 473.5M931.9 381.5L922.6 397.5M748.8 411L754.7 416.9M686.4 442.3L697.4 449.1M761.4 427L772.4 414.3M704.1 492L692.3 484.5M802.7 343.5L784.2 336.8M837.5 406.7L820.6 405.9M907.5 471.8L894.8 473.5M748.8 411L737.2 406.6M761.4 427L754.7 442.3M816.4 444.9L803.6 434.7M874.6 471L879.6 484.5M914.2 343.5L897.2 346.6M684.7 460L697.4 461.7M762.3 405.9L772.4 414.3M691.5 416L705 414.3M756.4 473.5L758.9 489.5M771.6 451.6L782.5 456.7M693.2 526.6L683.2 516.6M923.5 480.3L915.2 496.6M911.7 522.4L929.2 522.6M710 386.5L695.2 380.6M890.6 364.6L897.2 346.6M923.5 480.3L931.2 466.6M792.6 444.9L803.2 456.6M874.6 444L888.9 449.9M853.5 370.5L858.6 384.8M715.9 461.7L727.7 467.6M822.3 438.1L824.9 451.6M931.2 504.6L929.2 522.6M801.1 522.4L794.3 503.8M851.8 450.8L867 451.6M821.5 376.4L810.5 363.8M807.8 478.6L819.8 460.9M739.5 464.2L727.7 467.6M847.6 519.9L837.2 526.6M736.2 351.1L730.3 364.6M911.7 522.4L895.2 526.6M928.5 450.8L931.2 466.6M691.5 471L692.3 484.5M867 336.8L871.2 351.1M754.7 386.5L747.1 396.6M871.2 351.1L854.4 351.1M856 510.6L847.6 519.9M801.1 377.2L810.5 363.8M784.2 517.3L794.3 503.8M694.9 357.9L681.4 365.5M747.1 396.6L737.2 406.6M838.3 444L851.8 450.8M691.5 416L684.7 427M761.4 391.6L773.2 397.5M819.8 460.9L824.9 451.6M784.2 517.3L771.2 526.6M810.5 363.8L821.2 356.6M692.3 484.5L684.7 500.5M772.4 414.3L781.2 430.6M701.6 337.6L690 335M894.8 473.5L901.6 460M715.9 461.7L711.7 472.7M728.6 490.4L717.6 485.3M816.4 444.9L824.9 451.6M895.7 505.5L895.2 526.6M717.6 485.3L711.7 472.7M762.3 405.9L773.2 397.5M807.8 478.6L791.8 471M879.6 484.5L895.7 488.7M861.9 506.4L849.3 493.7" stroke="#161616" stroke-width="2.6" fill="none"/>
<circle cx="718.5" cy="519.9" r="6.6" fill="url(#cc)"/>
<circle cx="890.6" cy="443.2" r="4.1" fill="url(#li)"/>
<circle cx="697.4" cy="449.1" r="4.7" fill="url(#oo)"/>
<circle cx="741.2" cy="380.6" r="4.1" fill="url(#li)"/>
<circle cx="851.8" cy="450.8" r="4.7" fill="url(#oo)"/>
<circle cx="813.9" cy="394.1" r="6.6" fill="url(#cc)"/>
<circle cx="904.9" cy="378.9" r="6.6" fill="url(#cc)"/>
<circle cx="686.4" cy="442.3" r="4.7" fill="url(#oo)"/>
<circle cx="705.8" cy="446.5" r="4.1" fill="url(#li)"/>
<circle cx="919.3" cy="335.1" r="9.6" fill="url(#si)"/>
<circle cx="803.6" cy="434.7" r="4.7" fill="url(#oo)"/>
<circle cx="720.1" cy="367.1" r="4.1" fill="url(#li)"/>
<circle cx="821.5" cy="526.6" r="6.6" fill="url(#cc)"/>
<circle cx="791.8" cy="471" r="6.6" fill="url(#cc)"/>
<circle cx="833.3" cy="421.9" r="4.1" fill="url(#li)"/>
<circle cx="697.4" cy="461.7" r="4.7" fill="url(#oo)"/>
<circle cx="910.8" cy="516.5" r="4.1" fill="url(#li)"/>
<circle cx="777.5" cy="383.1" r="4.7" fill="url(#oo)"/>
<circle cx="874.6" cy="444" r="4.7" fill="url(#oo)"/>
<circle cx="904.9" cy="424.4" r="4.7" fill="url(#oo)"/>
<circle cx="819.8" cy="460.9" r="6.6" fill="url(#cc)"/>
<circle cx="874.6" cy="471" r="9.6" fill="url(#si)"/>
<circle cx="796" cy="362.9" r="4.1" fill="url(#li)"/>
<circle cx="732.8" cy="516.5" r="9.6" fill="url(#si)"/>
<circle cx="867" cy="451.6" r="4.7" fill="url(#oo)"/>
<circle cx="850.1" cy="480.3" r="4.1" fill="url(#li)"/>
<circle cx="825.7" cy="344.4" r="4.7" fill="url(#oo)"/>
<circle cx="928.5" cy="450.8" r="6.6" fill="url(#cc)"/>
<circle cx="771.2" cy="526.6" r="4.7" fill="url(#oo)"/>
<circle cx="807" cy="383.1" r="4.1" fill="url(#li)"/>
<circle cx="850.1" cy="389" r="4.1" fill="url(#li)"/>
<circle cx="873.7" cy="420.2" r="6.6" fill="url(#cc)"/>
<circle cx="683.2" cy="516.6" r="4.7" fill="url(#oo)"/>
<circle cx="684.7" cy="427" r="4.7" fill="url(#oo)"/>
<circle cx="879.6" cy="484.5" r="6.6" fill="url(#cc)"/>
<circle cx="754.7" cy="416.9" r="4.7" fill="url(#oo)"/>
<circle cx="754.7" cy="442.3" r="6.6" fill="url(#cc)"/>
<circle cx="894.8" cy="473.5" r="6.6" fill="url(#cc)"/>
<circle cx="838.3" cy="459.2" r="4.1" fill="url(#li)"/>
<circle cx="710" cy="330.1" r="6.6" fill="url(#cc)"/>
<circle cx="683.1" cy="377.2" r="4.1" fill="url(#li)"/>
<circle cx="895.7" cy="488.7" r="4.7" fill="url(#oo)"/>
<circle cx="736.2" cy="351.1" r="6.6" fill="url(#cc)"/>
<circle cx="837.2" cy="526.6" r="4.7" fill="url(#oo)"/>
<circle cx="688.1" cy="346.1" r="4.1" fill="url(#li)"/>
<circle cx="931.2" cy="466.6" r="4.7" fill="url(#oo)"/>
<circle cx="745.4" cy="499.6" r="4.1" fill="url(#li)"/>
<circle cx="744.6" cy="486.1" r="6.6" fill="url(#cc)"/>
<circle cx="931.2" cy="434.6" r="4.7" fill="url(#oo)"/>
<circle cx="715.9" cy="352.8" r="4.7" fill="url(#oo)"/>
<circle cx="801.1" cy="522.4" r="9.6" fill="url(#si)"/>
<circle cx="710" cy="386.5" r="4.7" fill="url(#oo)"/>
<circle cx="784.2" cy="336.8" r="6.6" fill="url(#cc)"/>
<circle cx="862.8" cy="486.1" r="4.7" fill="url(#oo)"/>
<circle cx="771.6" cy="462.6" r="4.1" fill="url(#li)"/>
<circle cx="848.5" cy="375.6" r="6.6" fill="url(#cc)"/>
<circle cx="915.2" cy="496.6" r="4.7" fill="url(#oo)"/>
<circle cx="771.6" cy="352.8" r="9.6" fill="url(#si)"/>
<circle cx="690.6" cy="456.7" r="4.1" fill="url(#li)"/>
<circle cx="792.6" cy="444.9" r="4.7" fill="url(#oo)"/>
<circle cx="816.4" cy="498.8" r="4.7" fill="url(#oo)"/>
<circle cx="743.7" cy="371.4" r="4.7" fill="url(#oo)"/>
<circle cx="849.3" cy="493.7" r="4.7" fill="url(#oo)"/>
<circle cx="890.6" cy="364.6" r="9.6" fill="url(#si)"/>
<circle cx="856.9" cy="435.6" r="9.6" fill="url(#si)"/>
<circle cx="742.9" cy="445.7" r="4.1" fill="url(#li)"/>
<circle cx="722.7" cy="476" r="4.1" fill="url(#li)"/>
<circle cx="870.4" cy="384.8" r="6.6" fill="url(#cc)"/>
<circle cx="827.4" cy="510.6" r="9.6" fill="url(#si)"/>
<circle cx="693.2" cy="526.6" r="4.7" fill="url(#oo)"/>
<circle cx="816.4" cy="444.9" r="6.6" fill="url(#cc)"/>
<circle cx="851.8" cy="418.5" r="6.6" fill="url(#cc)"/>
<circle cx="751.3" cy="354.5" r="6.6" fill="url(#cc)"/>
<circle cx="682.2" cy="481.1" r="4.1" fill="url(#li)"/>
<circle cx="771.6" cy="451.6" r="6.6" fill="url(#cc)"/>
<circle cx="897.2" cy="346.6" r="4.7" fill="url(#oo)"/>
<circle cx="732" cy="330.9" r="6.6" fill="url(#cc)"/>
<circle cx="772.4" cy="414.3" r="4.7" fill="url(#oo)"/>
<circle cx="883.9" cy="426.1" r="4.1" fill="url(#li)"/>
<circle cx="690" cy="335" r="4.7" fill="url(#oo)"/>
<circle cx="810.5" cy="363.8" r="4.7" fill="url(#oo)"/>
<circle cx="716.8" cy="508.9" r="4.7" fill="url(#oo)"/>
<circle cx="798.5" cy="393.3" r="4.1" fill="url(#li)"/>
<circle cx="878.8" cy="495.4" r="4.1" fill="url(#li)"/>
<circle cx="782.5" cy="456.7" r="4.7" fill="url(#oo)"/>
<circle cx="831.6" cy="368.8" r="6.6" fill="url(#cc)"/>
<circle cx="748" cy="338.5" r="9.6" fill="url(#si)"/>
<circle cx="929.2" cy="522.6" r="4.7" fill="url(#oo)"/>
<circle cx="695.2" cy="380.6" r="4.7" fill="url(#oo)"/>
<circle cx="756.4" cy="473.5" r="9.6" fill="url(#si)"/>
<circle cx="872.9" cy="400.8" r="9.6" fill="url(#si)"/>
<circle cx="861.9" cy="506.4" r="9.6" fill="url(#si)"/>
<circle cx="812.2" cy="330.1" r="6.6" fill="url(#cc)"/>
<circle cx="775.8" cy="401.7" r="4.1" fill="url(#li)"/>
<circle cx="899" cy="332.6" r="4.1" fill="url(#li)"/>
<circle cx="724.4" cy="382.3" r="9.6" fill="url(#si)"/>
<circle cx="823.2" cy="491.2" r="4.1" fill="url(#li)"/>
<circle cx="724.4" cy="421.9" r="9.6" fill="url(#si)"/>
<circle cx="821.2" cy="356.6" r="4.7" fill="url(#oo)"/>
<circle cx="867" cy="336.8" r="9.6" fill="url(#si)"/>
<circle cx="694.9" cy="357.9" r="9.6" fill="url(#si)"/>
<circle cx="705" cy="414.3" r="4.7" fill="url(#oo)"/>
<circle cx="803.6" cy="363.8" r="4.1" fill="url(#li)"/>
<circle cx="704.1" cy="492" r="9.6" fill="url(#si)"/>
<circle cx="875.4" cy="436.4" r="4.1" fill="url(#li)"/>
<circle cx="831.6" cy="389.9" r="4.1" fill="url(#li)"/>
<circle cx="907.5" cy="396.6" r="4.7" fill="url(#oo)"/>
<circle cx="764.8" cy="371.4" r="9.6" fill="url(#si)"/>
<circle cx="699.1" cy="475.2" r="4.1" fill="url(#li)"/>
<circle cx="747.1" cy="396.6" r="4.7" fill="url(#oo)"/>
<circle cx="737.2" cy="406.6" r="4.7" fill="url(#oo)"/>
<circle cx="719.3" cy="500.5" r="4.1" fill="url(#li)"/>
<circle cx="807.8" cy="478.6" r="9.6" fill="url(#si)"/>
<circle cx="854.4" cy="351.1" r="4.7" fill="url(#oo)"/>
<circle cx="907.5" cy="471.8" r="9.6" fill="url(#si)"/>
<circle cx="684.7" cy="500.5" r="4.7" fill="url(#oo)"/>
<circle cx="858.6" cy="384.8" r="4.7" fill="url(#oo)"/>
<circle cx="837.5" cy="406.7" r="9.6" fill="url(#si)"/>
<circle cx="758.9" cy="489.5" r="6.6" fill="url(#cc)"/>
<circle cx="792.6" cy="389" r="4.7" fill="url(#oo)"/>
<circle cx="853.5" cy="370.5" r="9.6" fill="url(#si)"/>
<circle cx="818.1" cy="420.2" r="4.7" fill="url(#oo)"/>
<circle cx="922.6" cy="397.5" r="4.7" fill="url(#oo)"/>
<circle cx="851.8" cy="466.8" r="4.7" fill="url(#oo)"/>
<circle cx="909.1" cy="444" r="9.6" fill="url(#si)"/>
<circle cx="923.5" cy="480.3" r="6.6" fill="url(#cc)"/>
<circle cx="891.4" cy="426.1" r="4.1" fill="url(#li)"/>
<circle cx="915.9" cy="369.7" r="9.6" fill="url(#si)"/>
<circle cx="890.6" cy="390.7" r="9.6" fill="url(#si)"/>
<circle cx="822.3" cy="438.1" r="9.6" fill="url(#si)"/>
<circle cx="871.2" cy="351.1" r="6.6" fill="url(#cc)"/>
<circle cx="802.7" cy="343.5" r="9.6" fill="url(#si)"/>
<circle cx="765.7" cy="330.1" r="4.7" fill="url(#oo)"/>
<circle cx="719.3" cy="454.1" r="9.6" fill="url(#si)"/>
<circle cx="861.1" cy="409.3" r="4.1" fill="url(#li)"/>
<circle cx="717.6" cy="346.1" r="4.1" fill="url(#li)"/>
<circle cx="683.1" cy="383.1" r="4.1" fill="url(#li)"/>
<circle cx="914.2" cy="343.5" r="6.6" fill="url(#cc)"/>
<circle cx="824.9" cy="451.6" r="4.7" fill="url(#oo)"/>
<circle cx="840" cy="343.5" r="4.7" fill="url(#oo)"/>
<circle cx="901.6" cy="460" r="4.7" fill="url(#oo)"/>
<circle cx="711.7" cy="472.7" r="4.7" fill="url(#oo)"/>
<circle cx="734.5" cy="480.3" r="4.7" fill="url(#oo)"/>
<circle cx="840" cy="503" r="6.6" fill="url(#cc)"/>
<circle cx="878.8" cy="519" r="6.6" fill="url(#cc)"/>
<circle cx="684.7" cy="460" r="4.7" fill="url(#oo)"/>
<circle cx="797.7" cy="495.4" r="4.1" fill="url(#li)"/>
<circle cx="790.1" cy="440.6" r="4.1" fill="url(#li)"/>
<circle cx="701.2" cy="512.6" r="4.7" fill="url(#oo)"/>
<circle cx="820.6" cy="405.9" r="6.6" fill="url(#cc)"/>
<circle cx="691.5" cy="471" r="4.7" fill="url(#oo)"/>
<circle cx="911.7" cy="522.4" r="4.7" fill="url(#oo)"/>
<circle cx="838.3" cy="473.5" r="4.7" fill="url(#oo)"/>
<circle cx="861.9" cy="473.5" r="4.7" fill="url(#oo)"/>
<circle cx="754.7" cy="386.5" r="4.7" fill="url(#oo)"/>
<circle cx="764.8" cy="416" r="4.1" fill="url(#li)"/>
<circle cx="897.3" cy="410.1" r="4.7" fill="url(#oo)"/>
<circle cx="805.3" cy="423.6" r="4.1" fill="url(#li)"/>
<circle cx="913.4" cy="411" r="4.1" fill="url(#li)"/>
<circle cx="838.3" cy="432.2" r="4.1" fill="url(#li)"/>
<circle cx="715.9" cy="461.7" r="4.7" fill="url(#oo)"/>
<circle cx="853.5" cy="434.7" r="6.6" fill="url(#cc)"/>
<circle cx="692.3" cy="484.5" r="4.7" fill="url(#oo)"/>
<circle cx="739.5" cy="464.2" r="6.6" fill="url(#cc)"/>
<circle cx="794.3" cy="503.8" r="4.7" fill="url(#oo)"/>
<circle cx="840" cy="421.9" r="4.7" fill="url(#oo)"/>
<circle cx="846.8" cy="330.9" r="4.7" fill="url(#oo)"/>
<circle cx="709.2" cy="374.7" r="6.6" fill="url(#cc)"/>
<circle cx="871.2" cy="362.9" r="4.1" fill="url(#li)"/>
<circle cx="822.3" cy="425.3" r="4.1" fill="url(#li)"/>
<circle cx="761.4" cy="391.6" r="4.7" fill="url(#oo)"/>
<circle cx="888.9" cy="449.9" r="4.7" fill="url(#oo)"/>
<circle cx="689.8" cy="504.7" r="4.1" fill="url(#li)"/>
<circle cx="788.4" cy="458.3" r="4.1" fill="url(#li)"/>
<circle cx="884.7" cy="340.2" r="4.7" fill="url(#oo)"/>
<circle cx="920.1" cy="424.4" r="4.7" fill="url(#oo)"/>
<circle cx="807.8" cy="404.2" r="6.6" fill="url(#cc)"/>
<circle cx="774.9" cy="442.3" r="4.1" fill="url(#li)"/>
<circle cx="881.3" cy="331.7" r="4.1" fill="url(#li)"/>
<circle cx="717.6" cy="485.3" r="4.7" fill="url(#oo)"/>
<circle cx="781.2" cy="430.6" r="4.7" fill="url(#oo)"/>
<circle cx="887.2" cy="421.1" r="4.1" fill="url(#li)"/>
<circle cx="894" cy="460" r="4.1" fill="url(#li)"/>
<circle cx="895.7" cy="505.5" r="9.6" fill="url(#si)"/>
<circle cx="681.4" cy="395" r="6.6" fill="url(#cc)"/>
<circle cx="730.3" cy="364.6" r="4.7" fill="url(#oo)"/>
<circle cx="742.9" cy="453.3" r="4.1" fill="url(#li)"/>
<circle cx="699.1" cy="400.8" r="9.6" fill="url(#si)"/>
<circle cx="715.9" cy="435.6" r="6.6" fill="url(#cc)"/>
<circle cx="742.9" cy="434.7" r="6.6" fill="url(#cc)"/>
<circle cx="681.4" cy="365.5" r="6.6" fill="url(#cc)"/>
<circle cx="825.7" cy="466.8" r="4.7" fill="url(#oo)"/>
<circle cx="723.5" cy="402.5" r="6.6" fill="url(#cc)"/>
<circle cx="752.2" cy="507.2" r="4.7" fill="url(#oo)"/>
<circle cx="840" cy="385.7" r="4.7" fill="url(#oo)"/>
<circle cx="801.1" cy="377.2" r="4.7" fill="url(#oo)"/>
<circle cx="701.6" cy="337.6" r="4.7" fill="url(#oo)"/>
<circle cx="699.1" cy="434.7" r="4.7" fill="url(#oo)"/>
<circle cx="748.8" cy="411" r="4.7" fill="url(#oo)"/>
<circle cx="792.6" cy="415.2" r="9.6" fill="url(#si)"/>
<circle cx="757.2" cy="526.6" r="4.7" fill="url(#oo)"/>
<circle cx="784.2" cy="517.3" r="6.6" fill="url(#cc)"/>
<circle cx="727.7" cy="467.6" r="4.7" fill="url(#oo)"/>
<circle cx="928.5" cy="411.8" r="4.7" fill="url(#oo)"/>
<circle cx="838.3" cy="444" r="4.7" fill="url(#oo)"/>
<circle cx="773.2" cy="397.5" r="4.7" fill="url(#oo)"/>
<circle cx="728.6" cy="490.4" r="4.7" fill="url(#oo)"/>
<circle cx="684.7" cy="435.6" r="4.1" fill="url(#li)"/>
<circle cx="872.9" cy="454.1" r="4.1" fill="url(#li)"/>
<circle cx="694.9" cy="427" r="4.7" fill="url(#oo)"/>
<circle cx="754.7" cy="401.7" r="4.1" fill="url(#li)"/>
<circle cx="856" cy="401.7" r="4.7" fill="url(#oo)"/>
<circle cx="785.9" cy="368.8" r="6.6" fill="url(#cc)"/>
<circle cx="834.1" cy="357.9" r="4.1" fill="url(#li)"/>
<circle cx="835.8" cy="487" r="4.7" fill="url(#oo)"/>
<circle cx="761.4" cy="427" r="9.6" fill="url(#si)"/>
<circle cx="803.2" cy="456.6" r="4.7" fill="url(#oo)"/>
<circle cx="931.9" cy="381.5" r="6.6" fill="url(#cc)"/>
<circle cx="847.6" cy="519.9" r="4.7" fill="url(#oo)"/>
<circle cx="708.3" cy="472.7" r="6.6" fill="url(#cc)"/>
<circle cx="856" cy="510.6" r="6.6" fill="url(#cc)"/>
<circle cx="895.2" cy="526.6" r="4.7" fill="url(#oo)"/>
<circle cx="831.6" cy="331.7" r="4.1" fill="url(#li)"/>
<circle cx="901.6" cy="489.5" r="4.1" fill="url(#li)"/>
<circle cx="736.2" cy="447.4" r="4.1" fill="url(#li)"/>
<circle cx="691.5" cy="416" r="6.6" fill="url(#cc)"/>
<circle cx="931.2" cy="504.6" r="4.7" fill="url(#oo)"/>
<circle cx="762.3" cy="405.9" r="4.7" fill="url(#oo)"/>
<circle cx="779.1" cy="488.7" r="9.6" fill="url(#si)"/>
<circle cx="772.4" cy="506.4" r="9.6" fill="url(#si)"/>
<circle cx="821.5" cy="376.4" r="9.6" fill="url(#si)"/>
<circle cx="931.2" cy="354.6" r="4.7" fill="url(#oo)"/>
<circle cx="863.2" cy="526.6" r="4.7" fill="url(#oo)"/>
</g>
<rect x="679.2" y="326.6" width="256.8" height="204.1" rx="17" fill="none" stroke="#a23c88" stroke-width="1.8"/>
<circle cx="450.7" cy="547.9" r="9.3" fill="url(#sil)"/>
<circle cx="472.4" cy="547.9" r="8.3" fill="url(#ccl)"/>
<circle cx="493.9" cy="547.9" r="6.8" fill="url(#oo)"/>
<circle cx="512.5" cy="548" r="4.5" fill="url(#li)"/>
<text x="450.7" y="574.1" font-size="12" text-anchor="middle" fill="#111">Si</text>
<text x="472.6" y="574.1" font-size="12" text-anchor="middle" fill="#111">C</text>
<text x="494.2" y="574.1" font-size="12" text-anchor="middle" fill="#111">O</text>
<text x="512.5" y="574.1" font-size="12" text-anchor="middle" fill="#111">Li</text>
<g>
<circle cx="816" cy="596.5" r="17.5" fill="#fbfbfb" stroke="#d4d4d4" stroke-width="1.3"/>
<path d="M826 580 Q832 570 826 563" stroke="#d4d4d4" stroke-width="1.3" fill="none"/>
<circle cx="806" cy="596.5" r="2" fill="none" stroke="#cfcfcf" stroke-width="1.1"/><circle cx="826.5" cy="596" r="2" fill="none" stroke="#cfcfcf" stroke-width="1.1"/>
<path d="M807.5 595 L818 587 M808 599 L814 603 L825 597.5" stroke="#cfcfcf" stroke-width="1.1" fill="none"/>
<text x="840" y="597" font-size="17.5" font-weight="bold" fill="#f7f7f7" stroke="#d0d0d0" stroke-width="0.6" font-family="'Noto Sans CJK SC', 'WenQuanYi Zen Hei', sans-serif" font-style="italic" textLength="87" lengthAdjust="spacingAndGlyphs">电子发烧友</text>
<text x="840" y="611.5" font-size="11" fill="#f7f7f7" stroke="#cccccc" stroke-width="0.5" font-weight="bold" textLength="98" lengthAdjust="spacingAndGlyphs">www.elecfans.com</text>
</g>
</svg></body></html>
